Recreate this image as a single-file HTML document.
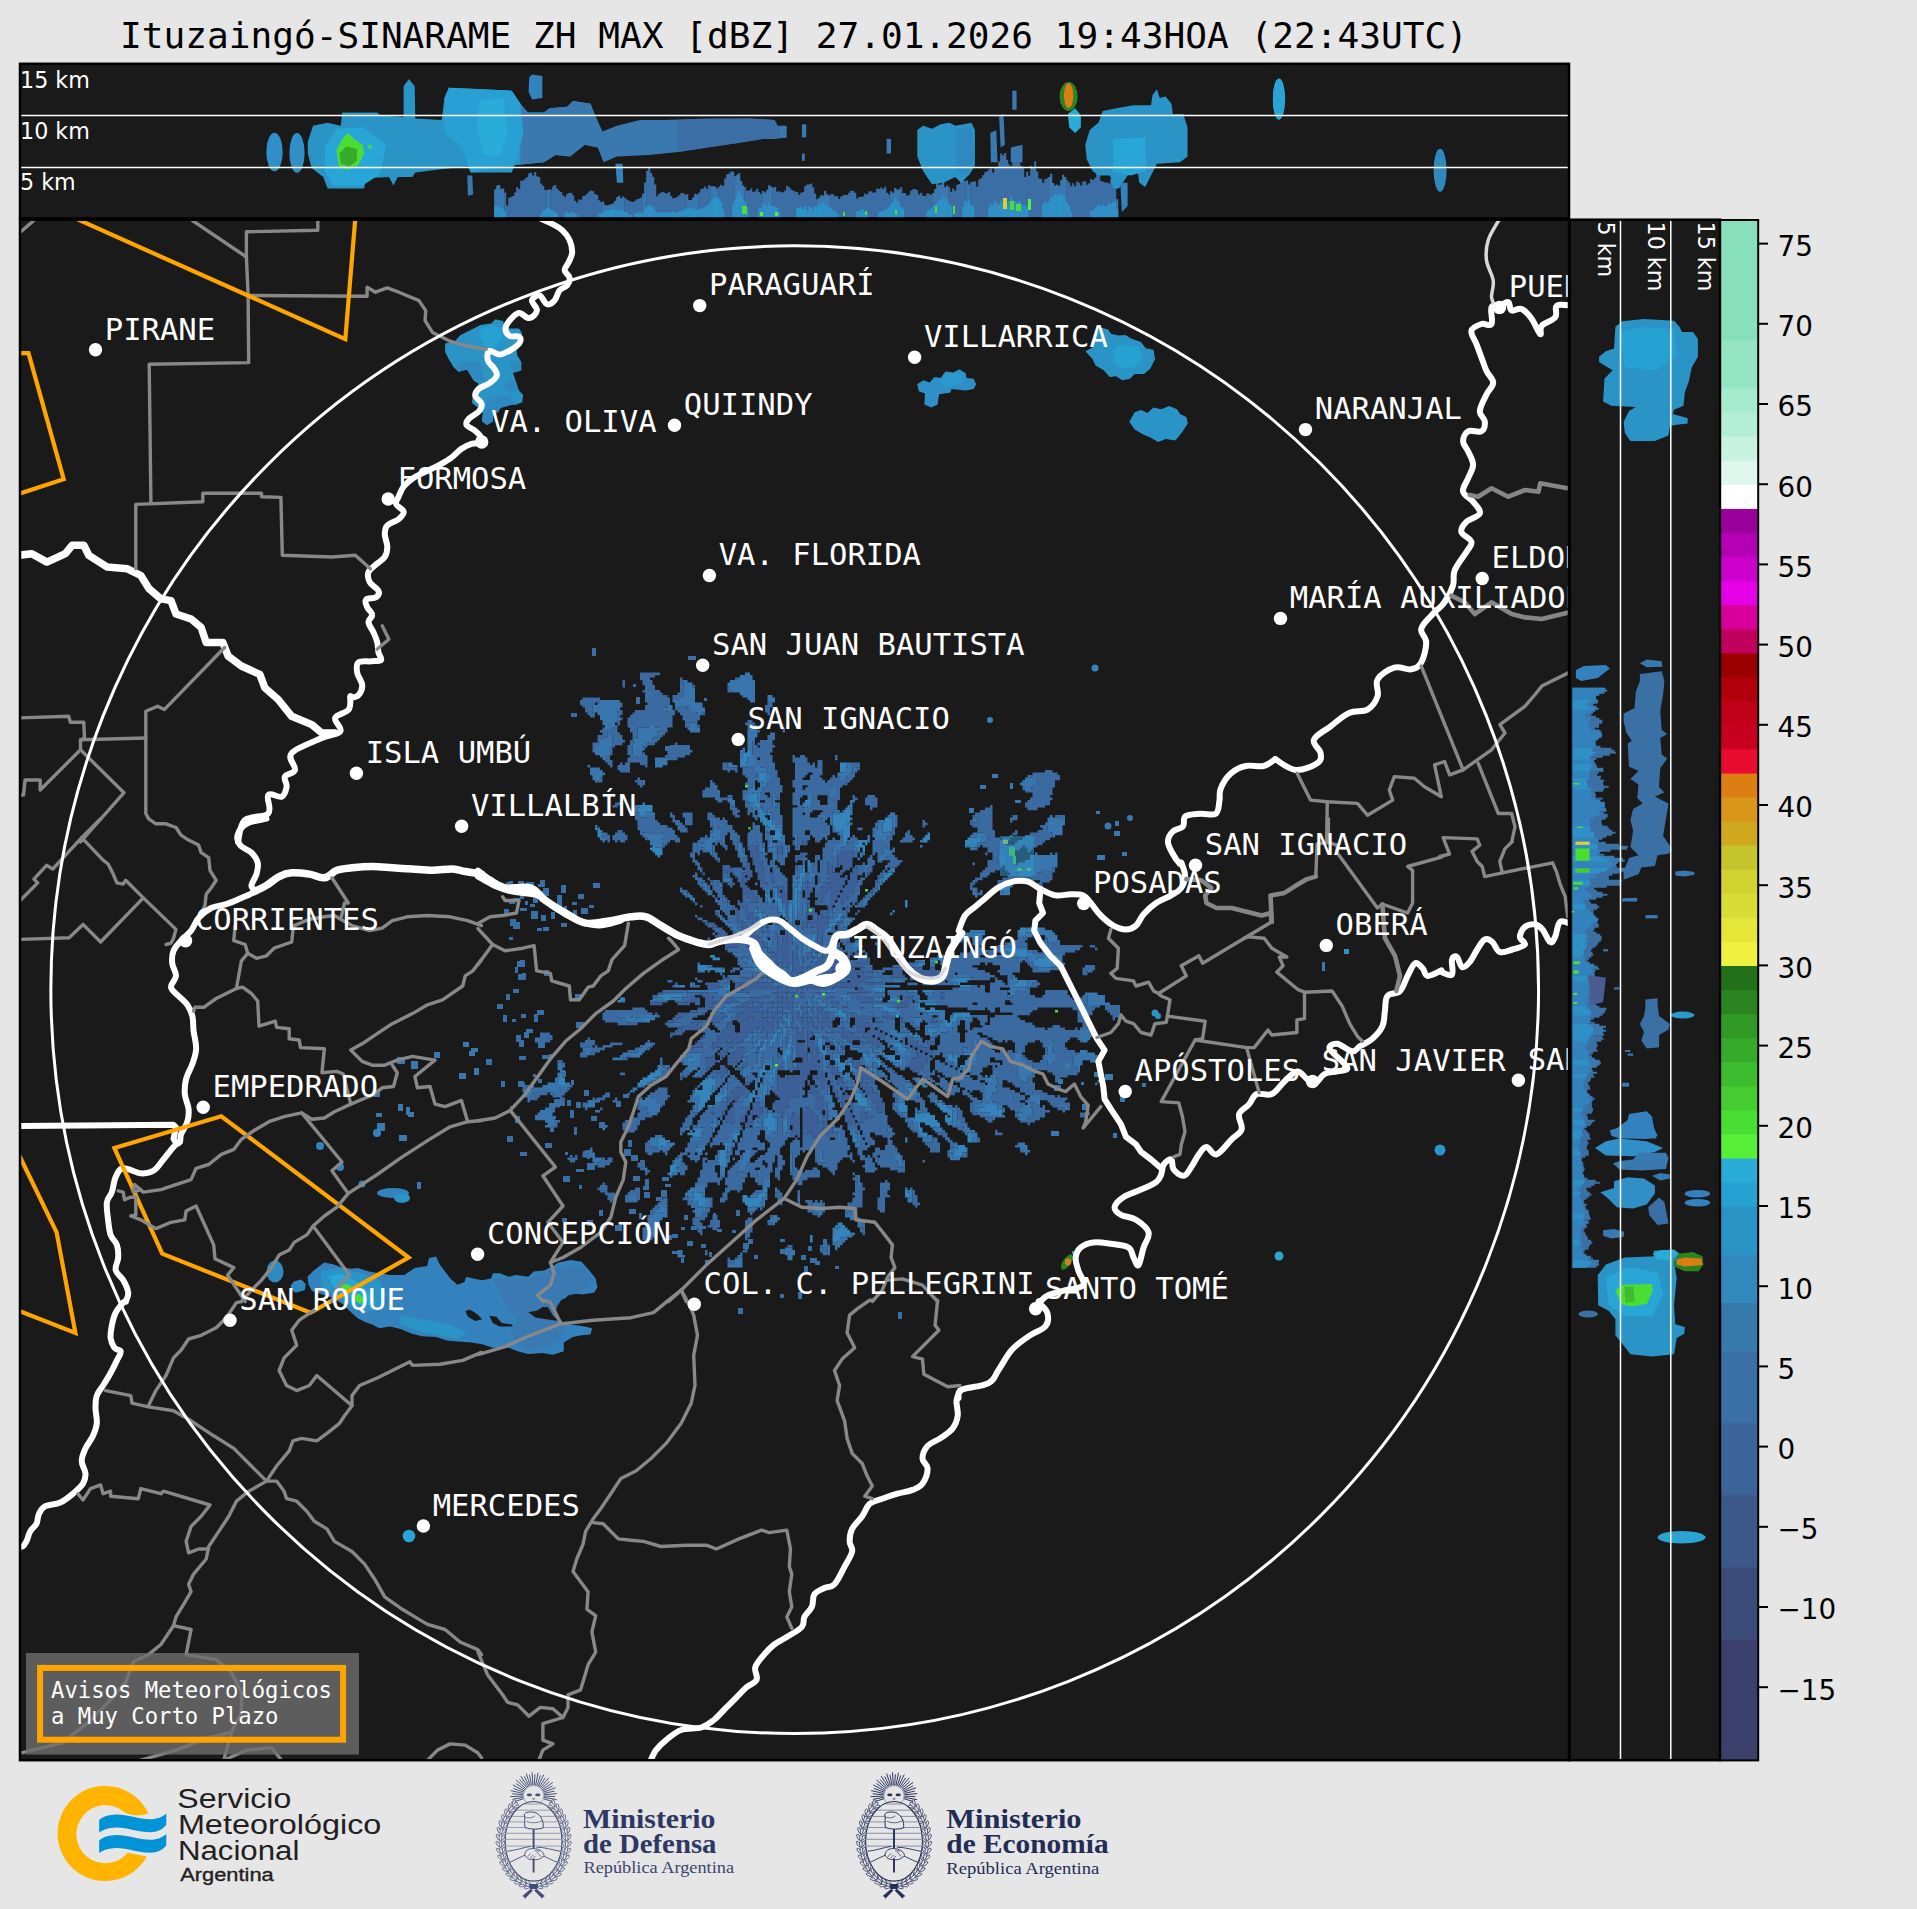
<!DOCTYPE html>
<html lang="es">
<head>
<meta charset="utf-8">
<title>Ituzaingó-SINARAME ZH MAX [dBZ]</title>
<style>
html,body{margin:0;padding:0;background:#e6e6e6;}
body{width:1917px;height:1909px;overflow:hidden;}
svg{display:block;}
.mono{font-family:"DejaVu Sans Mono","Liberation Mono",monospace;}
.sans{font-family:"DejaVu Sans","Liberation Sans",sans-serif;}
.title{font-family:"DejaVu Sans Mono","Liberation Mono",monospace;font-size:36.11px;fill:#000;}
.city{font-family:"DejaVu Sans Mono","Liberation Mono",monospace;font-size:30.56px;fill:#fff;}
.km{font-family:"DejaVu Sans","Liberation Sans",sans-serif;font-size:22.22px;fill:#fff;}
.cbl{font-family:"DejaVu Sans","Liberation Sans",sans-serif;font-size:27.78px;fill:#000;}
.leg{font-family:"DejaVu Sans Mono","Liberation Mono",monospace;font-size:22.22px;fill:#fff;}
.gl{fill:none;stroke:#888888;stroke-width:3.4;stroke-linejoin:round;stroke-linecap:round;}
.gj{fill:none;stroke:#868686;stroke-width:4.6;stroke-linejoin:round;stroke-linecap:round;}
.wl{fill:none;stroke:#fff;stroke-width:6;stroke-linejoin:round;stroke-linecap:round;}
.wl7{fill:none;stroke:#fff;stroke-width:7.5;stroke-linejoin:round;stroke-linecap:round;}
.wl9{fill:none;stroke:#fff;stroke-width:9.5;stroke-linejoin:round;stroke-linecap:round;}
.wl2{fill:none;stroke:#d8d8d8;stroke-width:3.5;stroke-linejoin:round;stroke-linecap:round;}
.ol{fill:none;stroke:#ffa500;stroke-width:4.2;stroke-linejoin:miter;}
.dot{fill:#fff;}
</style>
</head>
<body>
<svg width="1917" height="1909" viewBox="0 0 1917 1909">
<rect width="1917" height="1909" fill="#e6e6e6"/>
<text x="120" y="48.3" class="title" xml:space="preserve">Ituzaingó-SINARAME ZH MAX [dBZ] 27.01.2026 19:43HOA (22:43UTC)</text>

<!-- top panel -->
<clipPath id="ctop"><rect x="20" y="64" width="1549" height="154"/></clipPath>
<rect x="20" y="64" width="1549" height="154" fill="#1a1a1a"/>
<g clip-path="url(#ctop)">
<ellipse cx="274.5" cy="152.0" rx="8.2" ry="19.3" fill="#2f8fc6"/><ellipse cx="297.0" cy="152.9" rx="7.6" ry="19.9" fill="#2f8fc6"/><polygon points="307.8,141.8 313.0,125.7 327.6,122.8 340.8,125.7 342.2,112.6 377.3,112.6 380.2,115.5 403.6,117.0 403.6,86.3 408.9,79.0 414.7,86.3 415.3,118.4 441.6,119.9 444.5,98.0 448.9,87.8 511.7,90.7 520.5,103.8 527.8,112.6 543.8,112.6 549.7,108.2 567.2,106.7 573.0,100.9 590.6,103.8 595.0,115.5 602.3,131.6 603.7,162.2 597.9,147.6 584.7,144.7 570.1,156.4 555.5,154.9 543.8,162.2 514.6,165.2 511.7,172.5 470.8,172.5 467.9,166.6 438.7,169.6 415.3,172.5 412.4,176.9 397.8,176.9 393.4,185.6 389.0,176.9 365.6,178.3 364.2,188.5 327.6,188.5 323.3,176.9 311.6,168.1 307.8,153.5" fill="#2a94c6"/><polygon points="520.5,103.8 527.8,112.6 543.8,112.6 549.7,108.2 567.2,106.7 573.0,100.9 590.6,103.8 595.0,115.5 602.3,131.6 616.9,125.7 640.2,119.9 663.6,119.9 707.4,118.4 748.3,118.4 774.6,119.9 777.5,125.7 786.3,126.6 786.3,137.4 774.6,138.9 762.9,138.9 736.6,143.3 707.4,147.6 678.2,152.0 649.0,154.9 616.9,156.4 603.7,162.2 597.9,147.6 584.7,144.7 570.1,156.4 555.5,154.9 543.8,162.2 520.5,164.6" fill="#3a78b0"/><polygon points="678.2,119.9 748.3,118.4 774.6,119.9 777.5,125.7 786.3,126.6 786.3,137.4 762.9,138.9 707.4,147.6 678.2,152.0" fill="#3a6ea4"/><polygon points="444.5,98.0 448.9,87.8 511.7,90.7 520.5,103.8 523.4,133.0 514.6,165.2 470.8,172.5 462.0,147.6 444.5,133.0" fill="#29a0d4"/><polygon points="479.6,100.9 502.9,98.0 507.3,133.0 500.0,156.4 482.5,153.5 477.2,124.3" fill="#2aacd8"/><polygon points="324.7,147.6 336.4,128.7 362.7,127.2 386.1,144.7 380.2,173.9 362.7,185.6 333.5,185.6 324.7,171.0" fill="#29a6d8"/><polygon points="336.4,150.6 342.2,138.9 348.1,133.0 355.4,140.3 362.7,144.7 364.2,153.5 358.3,165.2 348.1,169.6 339.3,168.1" fill="#4ade34"/><polygon points="339.3,153.5 346.6,146.2 356.9,149.1 356.9,160.8 349.6,166.6 340.8,163.7" fill="#36aa2a"/><rect x="368.5" y="144.7" width="3" height="4" fill="#4ade34"/><polygon points="529.2,77.5 532.1,74.6 542.4,76.1 542.4,98.0 532.1,99.4 528.6,92.1" fill="#3382be"/><polygon points="615.4,163.7 622.7,163.7 623.3,182.7 616.9,182.7" fill="#3382be"/><polygon points="467.3,175.4 472.3,175.4 473.1,194.4 467.9,195.8" fill="#3a78b0"/><path d="M505.2 192.6V217.5M507.2 205.4V217.5M509.2 197.7V217.5M511.2 196.7V217.5M513.2 195.9V217.5M515.2 192.6V217.5M517.2 187.0V217.5M519.2 188.9V217.5M521.2 180.7V217.5M523.2 180.5V217.5M525.2 178.8V217.5M527.2 176.9V217.5M529.2 173.2V217.5M531.2 172.5V217.5M533.2 175.4V217.5M535.2 172.1V217.5M537.2 176.2V217.5M539.2 176.9V217.5M541.2 183.8V217.5M543.2 185.8V217.5M545.2 189.9V217.5M551.2 189.8V217.5M553.2 186.3V217.5M555.2 185.0V217.5M557.2 188.6V217.5M559.2 190.8V217.5M561.2 192.1V217.5M563.2 195.4V217.5M565.2 197.1V217.5M567.2 193.9V217.5M569.2 193.1V217.5M571.2 192.7V217.5M573.2 195.2V217.5M575.2 200.7V217.5M577.2 202.5V217.5M579.2 199.4V217.5M581.2 199.8V217.5M583.2 196.1V217.5M585.2 195.5V217.5M587.2 193.7V217.5M589.2 191.4V217.5M591.2 190.4V217.5M593.2 191.3V217.5M595.2 194.0V217.5M597.2 194.9V217.5M599.2 200.2V217.5M601.2 201.9V217.5M625.2 198.0V217.5M627.2 199.7V217.5M629.2 200.8V217.5M631.2 201.6V217.5M633.2 202.0V217.5M635.2 200.8V217.5M637.2 199.2V217.5M639.2 198.8V217.5M641.2 197.4V217.5M647.2 170.7V217.5M649.2 167.3V217.5M651.2 173.1V217.5M653.2 176.7V217.5M655.2 184.4V217.5M657.2 196.2V217.5M659.2 193.7V217.5M661.2 192.5V217.5M663.2 191.9V217.5M665.2 193.0V217.5M667.2 193.4V217.5M669.2 192.0V217.5M671.2 195.9V217.5M673.2 198.2V217.5M675.2 198.0V217.5M677.2 197.1V217.5M679.2 195.3V217.5M681.2 193.3V217.5M683.2 192.9V217.5M685.2 194.7V217.5M699.2 192.6V217.5M701.2 189.2V217.5M703.2 188.4V217.5M705.2 186.5V217.5M707.2 188.8V217.5M709.2 184.9V217.5M719.2 186.6V217.5M721.2 184.8V217.5M723.2 186.0V217.5M725.2 178.4V217.5M727.2 174.3V217.5M729.2 173.6V217.5M731.2 171.5V217.5M733.2 171.8V217.5M745.2 187.2V217.5M747.2 190.8V217.5M749.2 190.5V217.5M751.2 188.6V217.5M753.2 191.9V217.5M755.2 191.2V217.5M757.2 188.8V217.5M759.2 191.9V217.5M761.2 194.0V217.5M773.2 187.5V217.5M775.2 187.1V217.5M777.2 191.7V217.5M779.2 191.2V217.5M781.2 192.3V217.5M783.2 192.2V217.5M785.2 190.5V217.5M787.2 185.7V217.5M789.2 187.3V217.5M791.2 189.5V217.5M793.2 190.4V217.5M795.2 191.6V217.5M797.2 192.1V217.5M799.2 194.7V217.5M801.2 192.7V217.5M803.2 191.9V217.5M805.2 186.3V217.5M807.2 184.5V217.5M809.2 184.5V217.5M811.2 183.6V217.5M813.2 187.3V217.5M815.2 193.4V217.5M831.2 194.2V217.5M833.2 194.2V217.5M835.2 196.3V217.5M837.2 196.0V217.5M839.2 199.1V217.5M841.2 196.5V217.5M843.2 195.4V217.5M845.2 194.8V217.5M847.2 195.0V217.5M849.2 192.8V217.5M851.2 190.8V217.5M853.2 190.7V217.5M855.2 192.7V217.5M857.2 198.6V217.5M859.2 197.1V217.5M861.2 196.8V217.5M863.2 196.6V217.5M865.2 193.5V217.5M867.2 194.2V217.5M869.2 191.5V217.5M871.2 191.2V217.5M873.2 192.8V217.5M875.2 192.2V217.5M877.2 188.6V217.5M879.2 189.0V217.5M881.2 187.4V217.5M883.2 189.0V217.5M885.2 186.8V217.5M887.2 192.7V217.5M889.2 194.6V217.5M901.2 187.2V217.5M903.2 193.1V217.5M905.2 192.9V217.5M907.2 195.8V217.5M909.2 194.4V217.5M911.2 190.6V217.5M913.2 189.3V217.5M915.2 189.1V217.5M917.2 190.2V217.5M919.2 194.5V217.5M921.2 192.7V217.5M923.2 195.7V217.5M925.2 196.0V217.5M927.2 193.5V217.5M929.2 193.8V217.5M931.2 194.8V217.5M949.2 187.0V217.5M951.2 191.8V217.5M953.2 188.4V217.5M955.2 190.8V217.5M957.2 185.0V217.5M959.2 184.1V217.5M961.2 180.8V217.5M963.2 180.0V217.5M965.2 181.1V217.5M971.2 182.1V217.5M973.2 181.5V217.5M975.2 181.5V217.5M977.2 186.8V217.5M979.2 179.5V217.5M981.2 178.3V217.5M983.2 175.3V217.5M985.2 172.3V217.5M987.2 171.1V217.5M989.2 169.3V217.5M991.2 168.6V217.5M993.2 172.7V217.5M995.2 167.8V217.5M997.2 168.1V217.5M999.2 161.4V217.5M1001.2 153.6V217.5M1003.2 155.3V217.5M1005.2 153.1V217.5M1007.2 159.9V217.5M1009.2 164.4V217.5M1011.2 166.1V217.5M1013.2 156.7V217.5M1015.2 154.3V217.5M1017.2 156.1V217.5M1019.2 160.1V217.5M1021.2 165.8V217.5M1023.2 167.3V217.5M1025.2 177.1V217.5M1027.2 171.7V217.5M1029.2 175.7V217.5M1031.2 165.8V217.5M1033.2 168.0V217.5M1035.2 161.3V217.5M1037.2 171.6V217.5M1039.2 178.5V217.5M1041.2 178.8V217.5M1043.2 182.7V217.5M1045.2 179.3V217.5M1047.2 178.3V217.5M1067.2 180.1V217.5M1069.2 182.4V217.5M1071.2 186.2V217.5M1073.2 183.3V217.5M1075.2 186.2V217.5M1077.2 181.5V217.5M1079.2 182.8V217.5M1081.2 185.5V217.5M1083.2 181.5V217.5M1085.2 181.2V217.5M1087.2 184.8V217.5M1089.2 183.2V217.5M1091.2 179.1V217.5M1093.2 179.9V217.5M1095.2 177.8V217.5M1097.2 173.4V217.5M1099.2 173.1V217.5M1101.2 181.1V217.5M1103.2 181.8V217.5M1105.2 182.6V217.5M1107.2 182.6V217.5M1109.2 183.4V217.5M1111.2 179.4V217.5M1113.2 182.2V217.5M1115.2 184.7V217.5" stroke="#3a6ea4" stroke-width="2.1" fill="none"/><path d="M495.2 189.3V217.5M497.2 185.4V217.5M499.2 184.9V217.5M501.2 188.8V217.5M503.2 188.6V217.5M547.2 190.0V217.5M549.2 189.3V217.5M603.2 201.5V217.5M605.2 205.1V217.5M607.2 205.4V217.5M609.2 204.8V217.5M611.2 204.2V217.5M613.2 203.3V217.5M615.2 200.8V217.5M617.2 197.1V217.5M619.2 195.7V217.5M621.2 198.3V217.5M623.2 196.6V217.5M643.2 193.8V217.5M645.2 182.4V217.5M687.2 194.3V217.5M689.2 200.0V217.5M691.2 199.9V217.5M693.2 197.6V217.5M695.2 193.7V217.5M697.2 194.4V217.5M711.2 186.2V217.5M713.2 186.3V217.5M715.2 186.4V217.5M717.2 188.4V217.5M735.2 176.2V217.5M737.2 174.7V217.5M739.2 173.2V217.5M741.2 181.1V217.5M743.2 185.6V217.5M763.2 191.0V217.5M765.2 192.4V217.5M767.2 189.7V217.5M769.2 185.2V217.5M771.2 186.4V217.5M817.2 199.3V217.5M819.2 197.5V217.5M821.2 195.3V217.5M823.2 195.4V217.5M825.2 190.8V217.5M827.2 194.3V217.5M829.2 195.6V217.5M891.2 191.2V217.5M893.2 192.8V217.5M895.2 188.0V217.5M897.2 189.6V217.5M899.2 189.2V217.5M933.2 193.1V217.5M935.2 188.9V217.5M937.2 182.1V217.5M939.2 185.0V217.5M941.2 184.2V217.5M943.2 181.2V217.5M945.2 187.3V217.5M947.2 185.3V217.5M967.2 180.6V217.5M969.2 184.6V217.5M1049.2 177.0V217.5M1051.2 173.7V217.5M1053.2 183.0V217.5M1055.2 185.4V217.5M1057.2 184.5V217.5M1059.2 185.8V217.5M1061.2 180.3V217.5M1063.2 174.7V217.5M1065.2 176.9V217.5M1117.2 199.3V217.5" stroke="#3a78b0" stroke-width="2.1" fill="none"/><path d="M495.2 206.0V217.5M497.2 206.3V217.5M499.2 206.3V217.5M501.2 208.2V217.5M503.2 208.3V217.5M505.2 210.9V217.5M541.2 213.6V217.5M543.2 210.3V217.5M545.2 209.2V217.5M547.2 208.1V217.5M549.2 208.1V217.5M551.2 209.7V217.5M553.2 211.0V217.5M555.2 212.0V217.5M557.2 213.4V217.5M565.2 213.0V217.5M567.2 212.1V217.5M569.2 212.9V217.5M571.2 211.7V217.5M573.2 212.3V217.5M575.2 213.8V217.5M599.2 213.0V217.5M615.2 210.2V217.5M617.2 209.9V217.5M619.2 209.0V217.5M621.2 210.2V217.5M623.2 211.0V217.5M625.2 212.0V217.5M627.2 212.0V217.5M639.2 212.1V217.5M641.2 212.7V217.5M643.2 212.2V217.5M645.2 208.5V217.5M647.2 206.3V217.5M649.2 204.4V217.5M651.2 206.7V217.5M653.2 206.9V217.5M655.2 210.6V217.5M657.2 213.1V217.5M659.2 212.6V217.5M661.2 212.0V217.5M663.2 212.2V217.5M665.2 212.3V217.5M667.2 213.3V217.5M669.2 211.9V217.5M671.2 212.7V217.5M679.2 210.9V217.5M681.2 211.0V217.5M683.2 210.6V217.5M685.2 208.9V217.5M697.2 210.2V217.5M699.2 208.8V217.5M701.2 208.5V217.5M703.2 207.5V217.5M705.2 206.8V217.5M707.2 205.8V217.5M709.2 203.4V217.5M711.2 200.7V217.5M733.2 204.5V217.5M735.2 199.2V217.5M737.2 193.8V217.5M739.2 191.4V217.5M741.2 194.9V217.5M743.2 199.7V217.5M759.2 208.6V217.5M763.2 203.2V217.5M765.2 205.3V217.5M767.2 205.4V217.5M769.2 202.9V217.5M771.2 206.1V217.5M773.2 206.1V217.5M775.2 207.2V217.5M807.2 210.0V217.5M809.2 206.7V217.5M811.2 207.5V217.5M813.2 209.7V217.5M823.2 201.4V217.5M825.2 204.3V217.5M827.2 206.5V217.5M829.2 206.7V217.5M831.2 208.3V217.5M833.2 210.1V217.5M867.2 212.4V217.5M879.2 212.6V217.5M881.2 211.7V217.5M883.2 210.7V217.5M885.2 209.6V217.5M887.2 208.8V217.5M897.2 201.0V217.5M899.2 202.2V217.5M933.2 206.3V217.5M935.2 204.6V217.5M937.2 202.6V217.5M939.2 200.6V217.5M941.2 199.6V217.5M943.2 195.6V217.5M945.2 199.0V217.5M947.2 198.8V217.5M963.2 206.7V217.5M965.2 200.8V217.5M967.2 202.8V217.5M969.2 200.3V217.5M989.2 207.0V217.5M991.2 203.9V217.5M993.2 204.9V217.5M995.2 201.0V217.5M997.2 204.0V217.5M999.2 203.8V217.5M1001.2 200.5V217.5M1003.2 202.9V217.5M1005.2 205.1V217.5M1007.2 201.9V217.5M1009.2 200.8V217.5M1011.2 196.7V217.5M1013.2 200.3V217.5M1015.2 200.9V217.5M1017.2 202.6V217.5M1019.2 200.5V217.5M1021.2 202.8V217.5M1023.2 205.9V217.5M1047.2 203.0V217.5M1049.2 201.2V217.5M1051.2 197.2V217.5M1053.2 196.7V217.5M1063.2 195.6V217.5M1065.2 197.2V217.5M1067.2 202.7V217.5M1069.2 205.5V217.5M1071.2 211.8V217.5M1091.2 210.9V217.5M1093.2 210.3V217.5M1095.2 208.6V217.5M1097.2 206.5V217.5M1099.2 204.7V217.5M1101.2 206.3V217.5M1103.2 205.0V217.5M1105.2 206.5V217.5M1107.2 205.8V217.5M1109.2 202.5V217.5M1111.2 204.1V217.5M1113.2 201.6V217.5M1115.2 202.2V217.5M1117.2 209.6V217.5" stroke="#2f8fc6" stroke-width="2.1" fill="none"/><path d="M577.2 215.0V217.5M601.2 213.5V217.5M603.2 212.2V217.5M605.2 211.2V217.5M607.2 210.7V217.5M609.2 210.2V217.5M611.2 209.3V217.5M613.2 209.0V217.5M629.2 214.5V217.5M631.2 214.4V217.5M635.2 213.3V217.5M637.2 213.1V217.5M673.2 211.2V217.5M675.2 212.7V217.5M677.2 211.9V217.5M687.2 208.6V217.5M689.2 208.3V217.5M691.2 208.6V217.5M693.2 208.3V217.5M695.2 209.4V217.5M713.2 199.2V217.5M715.2 197.7V217.5M717.2 196.5V217.5M719.2 199.1V217.5M721.2 202.0V217.5M723.2 209.4V217.5M745.2 201.7V217.5M747.2 207.7V217.5M761.2 207.4V217.5M777.2 207.7V217.5M779.2 210.9V217.5M797.2 208.3V217.5M799.2 207.3V217.5M801.2 206.4V217.5M803.2 209.0V217.5M805.2 206.2V217.5M815.2 206.2V217.5M817.2 207.1V217.5M819.2 204.7V217.5M821.2 204.5V217.5M835.2 210.9V217.5M837.2 213.3V217.5M857.2 211.3V217.5M859.2 211.6V217.5M861.2 209.2V217.5M863.2 209.0V217.5M865.2 211.5V217.5M889.2 206.9V217.5M891.2 203.3V217.5M893.2 202.3V217.5M895.2 198.2V217.5M901.2 207.2V217.5M903.2 208.5V217.5M927.2 211.4V217.5M929.2 209.5V217.5M931.2 208.2V217.5M949.2 204.1V217.5M951.2 206.3V217.5M971.2 204.9V217.5M973.2 207.0V217.5M1025.2 205.0V217.5M1027.2 206.5V217.5M1043.2 204.4V217.5M1045.2 201.4V217.5M1055.2 194.0V217.5M1057.2 195.5V217.5M1059.2 195.0V217.5M1061.2 192.9V217.5" stroke="#2a94c6" stroke-width="2.1" fill="none"/><polygon points="990.3,133.0 996.2,130.1 997.6,162.2 990.9,162.2" fill="#3a78b0"/><polygon points="999.1,115.5 1003.5,114.0 1004.9,144.7 1000.6,147.6" fill="#3a78b0"/><polygon points="1010.8,147.6 1022.5,144.7 1022.5,162.2 1010.8,162.2" fill="#3a78b0"/><polygon points="886.6,138.9 891.0,138.9 891.0,153.5 886.6,153.5" fill="#3a78b0"/><polygon points="1012.3,90.7 1016.6,90.7 1016.6,109.7 1012.3,109.7" fill="#3a78b0"/><polygon points="780.0,125.7 786.4,125.7 786.4,137.4 780.0,137.4" fill="#3a78b0"/><polygon points="801.9,124.3 806.3,124.3 806.3,137.4 801.9,137.4" fill="#3a78b0"/><polygon points="801.9,153.5 804.8,153.5 804.8,160.8 801.9,160.8" fill="#3a78b0"/><polygon points="917.3,130.1 923.1,125.7 931.9,128.7 940.7,124.3 949.4,122.8 955.3,125.7 964.0,124.3 971.4,122.8 974.9,130.1 974.9,165.2 969.9,173.9 961.1,182.7 955.3,176.9 943.6,182.7 931.9,184.2 923.1,171.0 917.3,156.4" fill="#2a94c6"/><polygon points="955.3,130.1 971.4,127.2 974.3,162.2 967.0,173.9 956.7,171.0" fill="#3088c0"/><ellipse cx="1068.6" cy="96.5" rx="9.1" ry="14.6" fill="#2a8420"/><ellipse cx="1068.6" cy="95.6" rx="4.7" ry="12.3" fill="#dc7e14"/><polygon points="1067.8,114.0 1075.1,108.2 1080.9,115.5 1080.9,127.2 1075.1,133.0 1069.2,127.2" fill="#2aacd8"/><polygon points="1085.3,144.7 1089.7,130.1 1098.4,122.8 1102.8,111.1 1116.0,108.2 1133.5,105.3 1151.0,105.3 1152.5,95.1 1156.9,89.2 1159.8,98.0 1165.6,96.5 1171.5,103.8 1172.9,114.0 1183.2,114.0 1187.5,127.2 1187.5,156.4 1180.2,162.2 1156.9,163.7 1151.0,175.4 1145.2,187.1 1139.3,182.7 1137.9,172.5 1127.6,175.4 1118.9,188.5 1113.0,188.5 1110.1,175.4 1098.4,175.4 1092.6,171.0 1086.7,159.3" fill="#2a94c6"/><polygon points="1113.0,138.9 1145.2,137.4 1146.6,171.0 1130.6,175.4 1113.0,171.0" fill="#29a6d8"/><polygon points="1120.3,182.7 1127.6,182.7 1127.6,206.1 1121.8,211.9" fill="#3382be"/><ellipse cx="1278.7" cy="99.4" rx="5.8" ry="20.4" fill="#2aacd8"/><rect x="1003" y="198" width="4" height="11" fill="#d8d230"/><rect x="1010" y="201" width="4" height="9" fill="#4ade34"/><rect x="1016" y="204" width="5" height="7" fill="#4ade34"/><rect x="1028" y="199" width="3" height="11" fill="#56f038"/><rect x="953" y="206" width="2" height="8" fill="#4ade34"/><rect x="935" y="206" width="2" height="7" fill="#4ade34"/><rect x="895" y="210" width="2" height="5" fill="#4ade34"/><rect x="865" y="211" width="2" height="4" fill="#4ade34"/><rect x="843" y="212" width="2" height="4" fill="#4ade34"/><rect x="742" y="206" width="5" height="8" fill="#4ade34"/><rect x="760" y="212" width="3" height="4" fill="#56f038"/><rect x="775" y="212" width="3" height="4" fill="#56f038"/><ellipse cx="1279.0" cy="99.0" rx="6.2" ry="20.4" fill="#2aa4d4"/><ellipse cx="1440.1" cy="170.3" rx="6.5" ry="21.5" fill="#3088bc"/>
<line x1="20" x2="1569" y1="115.4" y2="115.4" stroke="#fff" stroke-width="1.5"/>
<line x1="20" x2="1569" y1="167.5" y2="167.5" stroke="#fff" stroke-width="1.5"/>
<text x="20" y="88" class="km">15 km</text>
<text x="20" y="139" class="km">10 km</text>
<text x="20" y="190" class="km">5 km</text>
</g>

<!-- main map -->
<clipPath id="cmap"><rect x="20" y="220" width="1549" height="1540"/></clipPath>
<rect x="20" y="220" width="1549" height="1540" fill="#1a1a1a"/>
<g clip-path="url(#cmap)">
<path d="M792.5 841.2h2.5M802.5 841.2h5M815 841.2h2.5M792.5 843.8h2.5M802.5 843.8h5M750 846.2h7.5M777.5 846.2h5M747.5 848.8h10M777.5 848.8h5M750 851.2h7.5M777.5 851.2h5M840 851.2h12.5M750 853.8h10M777.5 853.8h5M800 853.8h5M840 853.8h15M750 856.2h10M800 856.2h2.5M837.5 856.2h17.5M752.5 858.8h7.5M795 858.8h5M837.5 858.8h15M717.5 861.2h2.5M752.5 861.2h10M795 861.2h2.5M837.5 861.2h15M745 863.8h5M752.5 863.8h10M827.5 863.8h2.5M837.5 863.8h15M722.5 866.2h7.5M745 866.2h5M755 866.2h10M795 866.2h2.5M827.5 866.2h5M837.5 866.2h2.5M842.5 866.2h10M855 866.2h2.5M722.5 868.8h10M745 868.8h5M755 868.8h10M795 868.8h2.5M827.5 868.8h5M842.5 868.8h7.5M852.5 868.8h5M722.5 871.2h12.5M745 871.2h7.5M755 871.2h10M772.5 871.2h2.5M827.5 871.2h5M840 871.2h5M852.5 871.2h7.5M870 871.2h2.5M702.5 873.8h2.5M722.5 873.8h2.5M727.5 873.8h2.5M732.5 873.8h2.5M742.5 873.8h10M757.5 873.8h7.5M770 873.8h5M827.5 873.8h15M850 873.8h10M867.5 873.8h2.5M735 876.2h2.5M742.5 876.2h2.5M747.5 876.2h5M757.5 876.2h7.5M770 876.2h5M817.5 876.2h2.5M830 876.2h10M845 876.2h2.5M850 876.2h7.5M877.5 876.2h2.5M707.5 878.8h2.5M737.5 878.8h2.5M742.5 878.8h7.5M757.5 878.8h7.5M770 878.8h5M817.5 878.8h2.5M827.5 878.8h20M850 878.8h7.5M710 881.2h2.5M737.5 881.2h2.5M742.5 881.2h5M760 881.2h5M772.5 881.2h2.5M785 881.2h2.5M805 881.2h2.5M817.5 881.2h2.5M830 881.2h15M847.5 881.2h10M875 881.2h2.5M732.5 883.8h2.5M740 883.8h5M760 883.8h7.5M805 883.8h5M825 883.8h20M847.5 883.8h7.5M740 886.2h7.5M777.5 886.2h5M805 886.2h2.5M822.5 886.2h20M845 886.2h10M742.5 888.8h7.5M777.5 888.8h7.5M805 888.8h5M820 888.8h35M742.5 891.2h12.5M777.5 891.2h2.5M782.5 891.2h2.5M805 891.2h5M820 891.2h7.5M830 891.2h10M842.5 891.2h12.5M870 891.2h2.5M742.5 893.8h12.5M780 893.8h7.5M805 893.8h5M817.5 893.8h7.5M830 893.8h22.5M742.5 896.2h2.5M747.5 896.2h10M780 896.2h7.5M805 896.2h5M817.5 896.2h7.5M830 896.2h7.5M840 896.2h10M725 898.8h2.5M742.5 898.8h2.5M750 898.8h7.5M782.5 898.8h5M805 898.8h2.5M817.5 898.8h5M830 898.8h7.5M840 898.8h7.5M727.5 901.2h2.5M737.5 901.2h2.5M742.5 901.2h2.5M750 901.2h7.5M782.5 901.2h5M815 901.2h7.5M830 901.2h5M840 901.2h5M740 903.8h5M785 903.8h2.5M807.5 903.8h2.5M815 903.8h5M830 903.8h5M840 903.8h2.5M732.5 906.2h2.5M742.5 906.2h5M785 906.2h2.5M807.5 906.2h2.5M830 906.2h2.5M847.5 906.2h2.5M732.5 908.8h5M745 908.8h2.5M785 908.8h2.5M807.5 908.8h7.5M827.5 908.8h5M845 908.8h5M735 911.2h5M745 911.2h5M785 911.2h2.5M807.5 911.2h7.5M820 911.2h2.5M827.5 911.2h2.5M845 911.2h2.5M857.5 911.2h2.5M715 913.8h2.5M735 913.8h5M745 913.8h7.5M805 913.8h10M820 913.8h2.5M825 913.8h5M845 913.8h2.5M855 913.8h2.5M737.5 916.2h2.5M747.5 916.2h7.5M805 916.2h2.5M812.5 916.2h2.5M817.5 916.2h5M825 916.2h5M842.5 916.2h2.5M737.5 918.8h2.5M747.5 918.8h10M805 918.8h2.5M812.5 918.8h2.5M817.5 918.8h10M705 921.2h2.5M737.5 921.2h5M750 921.2h2.5M755 921.2h5M805 921.2h22.5M840 921.2h2.5M707.5 923.8h7.5M740 923.8h5M750 923.8h2.5M757.5 923.8h2.5M775 923.8h2.5M802.5 923.8h5M810 923.8h5M817.5 923.8h10M837.5 923.8h2.5M712.5 926.2h5M740 926.2h7.5M760 926.2h2.5M765 926.2h2.5M802.5 926.2h5M810 926.2h5M817.5 926.2h7.5M837.5 926.2h2.5M720 928.8h2.5M742.5 928.8h7.5M760 928.8h2.5M767.5 928.8h2.5M802.5 928.8h2.5M817.5 928.8h7.5M837.5 928.8h2.5M720 931.2h5M745 931.2h7.5M762.5 931.2h2.5M767.5 931.2h2.5M785 931.2h2.5M817.5 931.2h7.5M835 931.2h5M717.5 933.8h10M732.5 933.8h2.5M747.5 933.8h7.5M775 933.8h2.5M785 933.8h2.5M790 933.8h2.5M817.5 933.8h5M832.5 933.8h10M717.5 936.2h15M735 936.2h12.5M750 936.2h7.5M775 936.2h2.5M785 936.2h2.5M790 936.2h2.5M817.5 936.2h5M832.5 936.2h2.5M840 936.2h2.5M720 938.8h2.5M725 938.8h25M752.5 938.8h7.5M775 938.8h5M782.5 938.8h5M790 938.8h2.5M817.5 938.8h5M830 938.8h2.5M722.5 941.2h2.5M727.5 941.2h25M755 941.2h7.5M777.5 941.2h2.5M782.5 941.2h5M790 941.2h2.5M815 941.2h2.5M820 941.2h2.5M830 941.2h2.5M847.5 941.2h2.5M725 943.8h27.5M757.5 943.8h7.5M777.5 943.8h2.5M782.5 943.8h10M815 943.8h7.5M830 943.8h7.5M845 943.8h5M725 946.2h12.5M747.5 946.2h2.5M762.5 946.2h5M777.5 946.2h12.5M795 946.2h2.5M812.5 946.2h2.5M817.5 946.2h2.5M830 946.2h5M725 948.8h2.5M750 948.8h5M767.5 948.8h2.5M777.5 948.8h12.5M795 948.8h2.5M812.5 948.8h2.5M817.5 948.8h2.5M827.5 948.8h5M837.5 948.8h5M755 951.2h2.5M767.5 951.2h5M775 951.2h2.5M780 951.2h10M792.5 951.2h5M810 951.2h5M817.5 951.2h2.5M825 951.2h5M835 951.2h5M845 951.2h2.5M855 951.2h2.5M770 953.8h7.5M780 953.8h10M792.5 953.8h5M810 953.8h2.5M815 953.8h2.5M822.5 953.8h5M832.5 953.8h5M840 953.8h5M850 953.8h2.5M855 953.8h2.5M772.5 956.2h7.5M782.5 956.2h7.5M792.5 956.2h5M807.5 956.2h5M820 956.2h5M830 956.2h5M837.5 956.2h12.5M852.5 956.2h2.5M775 958.8h5M782.5 958.8h7.5M792.5 958.8h5M802.5 958.8h2.5M807.5 958.8h2.5M812.5 958.8h2.5M817.5 958.8h5M827.5 958.8h2.5M832.5 958.8h12.5M847.5 958.8h2.5M867.5 958.8h2.5M775 961.2h15M792.5 961.2h7.5M802.5 961.2h2.5M810 961.2h2.5M817.5 961.2h10M832.5 961.2h7.5M842.5 961.2h2.5M847.5 961.2h7.5M860 961.2h10M777.5 963.8h2.5M782.5 963.8h7.5M792.5 963.8h7.5M815 963.8h7.5M830 963.8h5M837.5 963.8h32.5M780 966.2h2.5M787.5 966.2h2.5M792.5 966.2h10M807.5 966.2h12.5M827.5 966.2h2.5M835 966.2h27.5M902.5 966.2h2.5M762.5 968.8h2.5M780 968.8h2.5M785 968.8h5M792.5 968.8h10M805 968.8h2.5M810 968.8h5M817.5 968.8h2.5M825 968.8h2.5M830 968.8h17.5M860 968.8h5M890 968.8h30M930 968.8h5M732.5 971.2h2.5M767.5 971.2h2.5M792.5 971.2h10M807.5 971.2h5M815 971.2h7.5M825 971.2h5M832.5 971.2h5M847.5 971.2h15M867.5 971.2h5M892.5 971.2h10M905 971.2h35M790 973.8h7.5M802.5 973.8h7.5M812.5 973.8h5M822.5 973.8h2.5M827.5 973.8h5M837.5 973.8h20M860 973.8h5M892.5 973.8h10M910 973.8h30M750 976.2h2.5M762.5 976.2h5M790 976.2h2.5M797.5 976.2h2.5M805 976.2h2.5M810 976.2h5M817.5 976.2h2.5M822.5 976.2h5M830 976.2h27.5M860 976.2h12.5M890 976.2h15M912.5 976.2h32.5M722.5 978.8h7.5M740 978.8h7.5M750 978.8h12.5M767.5 978.8h5M800 978.8h5M807.5 978.8h2.5M812.5 978.8h2.5M817.5 978.8h15M852.5 978.8h17.5M915 978.8h30M772.5 981.2h5M787.5 981.2h5M797.5 981.2h2.5M802.5 981.2h15M820 981.2h5M845 981.2h2.5M850 981.2h12.5M922.5 981.2h20M705 983.8h15M735 983.8h37.5M792.5 983.8h5M800 983.8h17.5M835 983.8h25M865 983.8h17.5M707.5 986.2h12.5M737.5 986.2h2.5M745 986.2h20M767.5 986.2h15M792.5 986.2h5M800 986.2h12.5M825 986.2h32.5M707.5 988.8h7.5M742.5 988.8h35M785 988.8h17.5M807.5 988.8h25M857.5 988.8h5M737.5 991.2h12.5M777.5 991.2h7.5M787.5 991.2h2.5M795 991.2h2.5M857.5 991.2h12.5M657.5 993.8h2.5M695 993.8h7.5M705 993.8h2.5M772.5 993.8h5M780 993.8h7.5M790 993.8h5M800 993.8h5M815 993.8h7.5M847.5 993.8h10M940 993.8h5M690 996.2h5M702.5 996.2h10M760 996.2h10M775 996.2h2.5M780 996.2h2.5M785 996.2h2.5M792.5 996.2h2.5M800 996.2h5M830 996.2h5M857.5 996.2h7.5M907.5 996.2h5M940 996.2h5M690 998.8h10M705 998.8h10M720 998.8h15M750 998.8h15M775 998.8h5M782.5 998.8h5M790 998.8h5M825 998.8h5M857.5 998.8h15M905 998.8h7.5M942.5 998.8h2.5M687.5 1001.2h12.5M705 1001.2h32.5M747.5 1001.2h12.5M772.5 1001.2h2.5M777.5 1001.2h2.5M782.5 1001.2h5M790 1001.2h5M830 1001.2h7.5M860 1001.2h22.5M905 1001.2h5M650 1003.8h12.5M677.5 1003.8h12.5M695 1003.8h5M705 1003.8h7.5M742.5 1003.8h10M760 1003.8h5M767.5 1003.8h5M775 1003.8h2.5M780 1003.8h12.5M805 1003.8h2.5M835 1003.8h5M897.5 1003.8h12.5M705 1006.2h5M737.5 1006.2h10M752.5 1006.2h10M770 1006.2h5M777.5 1006.2h5M785 1006.2h7.5M800 1006.2h2.5M807.5 1006.2h2.5M832.5 1006.2h2.5M842.5 1006.2h5M897.5 1006.2h10M697.5 1008.8h20M735 1008.8h5M745 1008.8h15M767.5 1008.8h5M775 1008.8h2.5M782.5 1008.8h10M800 1008.8h5M810 1008.8h2.5M817.5 1008.8h5M860 1008.8h5M690 1011.2h7.5M742.5 1011.2h17.5M762.5 1011.2h7.5M772.5 1011.2h10M790 1011.2h5M805 1011.2h2.5M812.5 1011.2h2.5M817.5 1011.2h7.5M677.5 1013.8h10M702.5 1013.8h2.5M720 1013.8h5M737.5 1013.8h17.5M760 1013.8h7.5M770 1013.8h7.5M782.5 1013.8h5M790 1013.8h5M797.5 1013.8h2.5M802.5 1013.8h5M812.5 1013.8h2.5M820 1013.8h10M850 1013.8h5M675 1016.2h7.5M710 1016.2h15M737.5 1016.2h15M755 1016.2h7.5M767.5 1016.2h5M775 1016.2h5M785 1016.2h2.5M792.5 1016.2h2.5M797.5 1016.2h2.5M802.5 1016.2h2.5M807.5 1016.2h2.5M815 1016.2h2.5M822.5 1016.2h5M852.5 1016.2h7.5M862.5 1016.2h10M882.5 1016.2h10M895 1016.2h2.5M672.5 1018.8h5M707.5 1018.8h15M735 1018.8h12.5M752.5 1018.8h7.5M762.5 1018.8h7.5M772.5 1018.8h5M780 1018.8h2.5M792.5 1018.8h2.5M797.5 1018.8h5M805 1018.8h7.5M815 1018.8h5M822.5 1018.8h7.5M855 1018.8h17.5M875 1018.8h5M887.5 1018.8h7.5M900 1018.8h2.5M932.5 1018.8h2.5M667.5 1021.2h7.5M695 1021.2h7.5M705 1021.2h15M737.5 1021.2h30M770 1021.2h5M777.5 1021.2h7.5M792.5 1021.2h2.5M800 1021.2h2.5M805 1021.2h2.5M810 1021.2h2.5M817.5 1021.2h15M855 1021.2h10M875 1021.2h7.5M900 1021.2h5M930 1021.2h7.5M690 1023.8h7.5M727.5 1023.8h5M740 1023.8h35M777.5 1023.8h2.5M790 1023.8h5M800 1023.8h2.5M805 1023.8h10M820 1023.8h2.5M825 1023.8h5M855 1023.8h15M682.5 1026.2h15M727.5 1026.2h7.5M740 1026.2h20M762.5 1026.2h10M775 1026.2h5M790 1026.2h5M805 1026.2h5M812.5 1026.2h5M820 1026.2h5M827.5 1026.2h5M857.5 1026.2h17.5M677.5 1028.8h20M725 1028.8h10M740 1028.8h17.5M762.5 1028.8h10M775 1028.8h2.5M792.5 1028.8h5M802.5 1028.8h7.5M815 1028.8h2.5M822.5 1028.8h2.5M830 1028.8h5M842.5 1028.8h2.5M860 1028.8h5M870 1028.8h5M877.5 1028.8h2.5M915 1028.8h5M675 1031.2h10M722.5 1031.2h12.5M740 1031.2h12.5M760 1031.2h2.5M765 1031.2h5M772.5 1031.2h2.5M795 1031.2h2.5M802.5 1031.2h2.5M807.5 1031.2h5M825 1031.2h2.5M830 1031.2h5M837.5 1031.2h12.5M857.5 1031.2h7.5M867.5 1031.2h12.5M882.5 1031.2h2.5M670 1033.8h12.5M720 1033.8h17.5M740 1033.8h10M765 1033.8h2.5M795 1033.8h10M807.5 1033.8h5M840 1033.8h15M860 1033.8h25M670 1036.2h2.5M702.5 1036.2h2.5M717.5 1036.2h17.5M737.5 1036.2h10M765 1036.2h2.5M795 1036.2h10M807.5 1036.2h5M822.5 1036.2h2.5M842.5 1036.2h15M862.5 1036.2h10M875 1036.2h10M700 1038.8h2.5M717.5 1038.8h27.5M785 1038.8h2.5M795 1038.8h10M807.5 1038.8h2.5M825 1038.8h2.5M845 1038.8h15M865 1038.8h12.5M880 1038.8h5M697.5 1041.2h2.5M715 1041.2h12.5M732.5 1041.2h10M785 1041.2h2.5M795 1041.2h2.5M807.5 1041.2h7.5M825 1041.2h5M847.5 1041.2h5M860 1041.2h2.5M867.5 1041.2h12.5M907.5 1041.2h10M927.5 1041.2h7.5M695 1043.8h7.5M712.5 1043.8h12.5M727.5 1043.8h10M760 1043.8h2.5M785 1043.8h2.5M795 1043.8h10M807.5 1043.8h7.5M830 1043.8h2.5M837.5 1043.8h2.5M860 1043.8h5M872.5 1043.8h10M907.5 1043.8h10M927.5 1043.8h7.5M690 1046.2h12.5M712.5 1046.2h7.5M725 1046.2h7.5M760 1046.2h2.5M795 1046.2h10M807.5 1046.2h10M827.5 1046.2h2.5M840 1046.2h2.5M877.5 1046.2h2.5M912.5 1046.2h10M690 1048.8h2.5M710 1048.8h5M725 1048.8h5M737.5 1048.8h7.5M757.5 1048.8h2.5M795 1048.8h10M810 1048.8h7.5M842.5 1048.8h2.5M912.5 1048.8h2.5M917.5 1048.8h12.5M720 1051.2h7.5M735 1051.2h10M755 1051.2h2.5M797.5 1051.2h7.5M810 1051.2h2.5M815 1051.2h2.5M915 1051.2h5M922.5 1051.2h10M717.5 1053.8h7.5M732.5 1053.8h12.5M777.5 1053.8h2.5M797.5 1053.8h10M810 1053.8h2.5M815 1053.8h5M917.5 1053.8h7.5M927.5 1053.8h2.5M712.5 1056.2h2.5M720 1056.2h2.5M730 1056.2h12.5M777.5 1056.2h2.5M797.5 1056.2h10M810 1056.2h10M917.5 1056.2h12.5M705 1058.8h10M727.5 1058.8h12.5M790 1058.8h2.5M802.5 1058.8h5M810 1058.8h10M912.5 1058.8h15M705 1061.2h12.5M727.5 1061.2h10M802.5 1061.2h15M852.5 1061.2h2.5M910 1061.2h17.5M705 1063.8h10M727.5 1063.8h5M745 1063.8h2.5M797.5 1063.8h22.5M852.5 1063.8h7.5M910 1063.8h15M705 1066.2h7.5M720 1066.2h5M742.5 1066.2h2.5M777.5 1066.2h5M797.5 1066.2h22.5M827.5 1066.2h5M855 1066.2h5M907.5 1066.2h15M667.5 1068.8h2.5M705 1068.8h2.5M720 1068.8h7.5M740 1068.8h2.5M777.5 1068.8h5M797.5 1068.8h22.5M830 1068.8h5M857.5 1068.8h5M865 1068.8h2.5M887.5 1068.8h5M910 1068.8h12.5M715 1071.2h12.5M800 1071.2h10M817.5 1071.2h5M830 1071.2h7.5M860 1071.2h10M892.5 1071.2h2.5M912.5 1071.2h7.5M717.5 1073.8h7.5M800 1073.8h10M817.5 1073.8h5M832.5 1073.8h7.5M860 1073.8h12.5M895 1073.8h2.5M682.5 1076.2h2.5M720 1076.2h2.5M777.5 1076.2h2.5M787.5 1076.2h5M795 1076.2h12.5M812.5 1076.2h10M862.5 1076.2h15M680 1078.8h2.5M735 1078.8h2.5M777.5 1078.8h7.5M787.5 1078.8h20M812.5 1078.8h2.5M817.5 1078.8h7.5M837.5 1078.8h5M862.5 1078.8h15M777.5 1081.2h27.5M807.5 1081.2h2.5M820 1081.2h5M830 1081.2h2.5M837.5 1081.2h5M862.5 1081.2h2.5M870 1081.2h5M745 1083.8h5M777.5 1083.8h27.5M807.5 1083.8h2.5M820 1083.8h5M837.5 1083.8h7.5M860 1083.8h7.5M740 1086.2h5M777.5 1086.2h22.5M802.5 1086.2h2.5M810 1086.2h5M820 1086.2h5M832.5 1086.2h2.5M840 1086.2h5M862.5 1086.2h7.5M735 1088.8h12.5M777.5 1088.8h22.5M810 1088.8h5M820 1088.8h5M832.5 1088.8h2.5M842.5 1088.8h5M862.5 1088.8h10M732.5 1091.2h12.5M775 1091.2h25M807.5 1091.2h10M835 1091.2h2.5M842.5 1091.2h2.5M865 1091.2h7.5M730 1093.8h15M775 1093.8h25M812.5 1093.8h7.5M835 1093.8h2.5M845 1093.8h2.5M867.5 1093.8h10M730 1096.2h10M777.5 1096.2h15M795 1096.2h5M815 1096.2h7.5M835 1096.2h2.5M842.5 1096.2h7.5M870 1096.2h10M727.5 1098.8h10M780 1098.8h10M815 1098.8h7.5M837.5 1098.8h2.5M842.5 1098.8h7.5M870 1098.8h12.5M727.5 1101.2h5M735 1101.2h2.5M775 1101.2h15M815 1101.2h10M840 1101.2h5M872.5 1101.2h10M725 1103.8h5M732.5 1103.8h2.5M755 1103.8h5M772.5 1103.8h17.5M815 1103.8h10M842.5 1103.8h10M875 1103.8h10M725 1106.2h2.5M732.5 1106.2h2.5M752.5 1106.2h7.5M775 1106.2h15M815 1106.2h10M842.5 1106.2h5M850 1106.2h2.5M875 1106.2h10M725 1108.8h2.5M730 1108.8h5M752.5 1108.8h10M775 1108.8h10M805 1108.8h5M815 1108.8h10M842.5 1108.8h10M877.5 1108.8h7.5M710 1111.2h2.5M722.5 1111.2h2.5M727.5 1111.2h7.5M750 1111.2h12.5M777.5 1111.2h7.5M802.5 1111.2h10M820 1111.2h2.5M825 1111.2h2.5M845 1111.2h5M860 1111.2h5M877.5 1111.2h5M712.5 1113.8h2.5M722.5 1113.8h2.5M727.5 1113.8h7.5M745 1113.8h2.5M750 1113.8h12.5M780 1113.8h2.5M792.5 1113.8h2.5M802.5 1113.8h12.5M825 1113.8h2.5M845 1113.8h7.5M860 1113.8h7.5M725 1116.2h10M740 1116.2h5M747.5 1116.2h5M757.5 1116.2h2.5M780 1116.2h2.5M792.5 1116.2h7.5M802.5 1116.2h15M822.5 1116.2h5M845 1116.2h7.5M860 1116.2h12.5M725 1118.8h10M740 1118.8h5M747.5 1118.8h5M790 1118.8h10M802.5 1118.8h15M825 1118.8h2.5M845 1118.8h10M860 1118.8h10M725 1121.2h10M740 1121.2h5M747.5 1121.2h5M790 1121.2h10M802.5 1121.2h15M822.5 1121.2h5M845 1121.2h10M860 1121.2h5M730 1123.8h2.5M745 1123.8h5M790 1123.8h10M802.5 1123.8h17.5M822.5 1123.8h5M850 1123.8h10M740 1126.2h2.5M745 1126.2h5M792.5 1126.2h7.5M802.5 1126.2h17.5M825 1126.2h5M792.5 1128.8h7.5M802.5 1128.8h17.5M822.5 1128.8h10M790 1131.2h10M802.5 1131.2h20M825 1131.2h7.5M790 1133.8h10M802.5 1133.8h5M812.5 1133.8h10M825 1133.8h10M790 1136.2h5M797.5 1136.2h2.5M812.5 1136.2h7.5M795 1138.8h2.5" stroke="#3c5f97" stroke-width="2.65" fill="none"/><path d="M640 673.8h20M640 676.2h15M640 678.8h10M680 678.8h2.5M735 678.8h2.5M622.5 681.2h2.5M642.5 681.2h10M680 681.2h2.5M622.5 683.8h2.5M642.5 683.8h10M680 683.8h5M622.5 686.2h2.5M645 686.2h10M680 686.2h5M692.5 686.2h2.5M727.5 686.2h2.5M645 688.8h10M680 688.8h5M727.5 688.8h2.5M642.5 691.2h17.5M680 691.2h2.5M727.5 691.2h5M645 693.8h17.5M677.5 693.8h7.5M645 696.2h22.5M672.5 696.2h10M582.5 698.8h17.5M645 698.8h25M672.5 698.8h7.5M580 701.2h20M645 701.2h25M767.5 701.2h2.5M580 703.8h15M620 703.8h2.5M647.5 703.8h22.5M767.5 703.8h5M582.5 706.2h10M620 706.2h2.5M645 706.2h22.5M680 706.2h5M687.5 706.2h2.5M765 706.2h7.5M585 708.8h7.5M645 708.8h17.5M675 708.8h15M765 708.8h5M585 711.2h7.5M617.5 711.2h5M635 711.2h32.5M670 711.2h5M677.5 711.2h17.5M765 711.2h5M587.5 713.8h7.5M617.5 713.8h5M632.5 713.8h42.5M680 713.8h17.5M702.5 713.8h2.5M767.5 713.8h2.5M590 716.2h5M617.5 716.2h2.5M630 716.2h42.5M682.5 716.2h17.5M620 718.8h2.5M627.5 718.8h45M682.5 718.8h17.5M617.5 721.2h2.5M627.5 721.2h45M685 721.2h12.5M747.5 721.2h5M617.5 723.8h2.5M627.5 723.8h45M685 723.8h5M695 723.8h2.5M745 723.8h10M615 726.2h2.5M627.5 726.2h22.5M655 726.2h17.5M685 726.2h5M697.5 726.2h2.5M747.5 726.2h10M602.5 728.8h2.5M612.5 728.8h5M630 728.8h7.5M660 728.8h7.5M687.5 728.8h2.5M747.5 728.8h2.5M755 728.8h2.5M782.5 728.8h2.5M600 731.2h17.5M630 731.2h7.5M657.5 731.2h10M757.5 731.2h2.5M782.5 731.2h2.5M602.5 733.8h2.5M607.5 733.8h12.5M632.5 733.8h5M657.5 733.8h7.5M770 733.8h5M597.5 736.2h10M612.5 736.2h10M632.5 736.2h5M657.5 736.2h5M767.5 736.2h7.5M597.5 738.8h5M612.5 738.8h10M632.5 738.8h2.5M652.5 738.8h7.5M767.5 738.8h7.5M597.5 741.2h2.5M612.5 741.2h12.5M630 741.2h5M650 741.2h7.5M752.5 741.2h2.5M760 741.2h12.5M592.5 743.8h5M612.5 743.8h10M645 743.8h10M675 743.8h2.5M752.5 743.8h2.5M757.5 743.8h15M592.5 746.2h2.5M612.5 746.2h2.5M627.5 746.2h5M642.5 746.2h5M670 746.2h20M752.5 746.2h5M760 746.2h15M592.5 748.8h2.5M610 748.8h2.5M627.5 748.8h5M667.5 748.8h22.5M752.5 748.8h20M610 751.2h2.5M627.5 751.2h5M667.5 751.2h25M752.5 751.2h20M610 753.8h2.5M627.5 753.8h5M642.5 753.8h2.5M667.5 753.8h22.5M752.5 753.8h17.5M605 756.2h5M630 756.2h7.5M640 756.2h7.5M665 756.2h20M755 756.2h17.5M792.5 756.2h2.5M800 756.2h5M835 756.2h2.5M605 758.8h5M627.5 758.8h20M670 758.8h7.5M755 758.8h2.5M760 758.8h12.5M792.5 758.8h15M605 761.2h7.5M627.5 761.2h20M755 761.2h17.5M792.5 761.2h15M817.5 761.2h5M607.5 763.8h5M620 763.8h2.5M625 763.8h5M640 763.8h7.5M722.5 763.8h5M755 763.8h20M795 763.8h15M812.5 763.8h2.5M817.5 763.8h5M850 763.8h10M610 766.2h2.5M617.5 766.2h12.5M645 766.2h2.5M722.5 766.2h5M750 766.2h5M760 766.2h15M795 766.2h20M817.5 766.2h5M852.5 766.2h5M617.5 768.8h12.5M722.5 768.8h15M742.5 768.8h12.5M765 768.8h10M795 768.8h27.5M852.5 768.8h2.5M857.5 768.8h2.5M620 771.2h10M727.5 771.2h2.5M735 771.2h2.5M742.5 771.2h12.5M767.5 771.2h10M795 771.2h27.5M852.5 771.2h5M1045 771.2h7.5M742.5 773.8h15M767.5 773.8h10M795 773.8h12.5M812.5 773.8h10M850 773.8h5M1032.5 773.8h25M745 776.2h12.5M770 776.2h7.5M795 776.2h10M810 776.2h10M832.5 776.2h2.5M847.5 776.2h7.5M1030 776.2h2.5M1035 776.2h25M600 778.8h2.5M637.5 778.8h2.5M747.5 778.8h7.5M770 778.8h10M795 778.8h7.5M810 778.8h12.5M830 778.8h10M845 778.8h7.5M1035 778.8h25M597.5 781.2h5M635 781.2h7.5M747.5 781.2h7.5M770 781.2h10M792.5 781.2h32.5M827.5 781.2h22.5M1035 781.2h20M637.5 783.8h5M710 783.8h5M745 783.8h10M767.5 783.8h12.5M792.5 783.8h55M1035 783.8h20M640 786.2h2.5M710 786.2h7.5M747.5 786.2h5M765 786.2h17.5M792.5 786.2h10M807.5 786.2h25M835 786.2h7.5M1032.5 786.2h22.5M705 788.8h12.5M747.5 788.8h2.5M762.5 788.8h20M795 788.8h7.5M805 788.8h25M835 788.8h5M1022.5 788.8h2.5M1030 788.8h22.5M702.5 791.2h17.5M742.5 791.2h5M762.5 791.2h20M795 791.2h35M835 791.2h5M1025 791.2h27.5M705 793.8h15M742.5 793.8h2.5M760 793.8h5M770 793.8h10M792.5 793.8h37.5M835 793.8h5M1032.5 793.8h20M705 796.2h15M727.5 796.2h5M742.5 796.2h2.5M760 796.2h7.5M770 796.2h2.5M775 796.2h5M792.5 796.2h10M812.5 796.2h5M827.5 796.2h2.5M835 796.2h5M852.5 796.2h2.5M867.5 796.2h7.5M1032.5 796.2h17.5M715 798.8h12.5M742.5 798.8h2.5M760 798.8h12.5M777.5 798.8h2.5M792.5 798.8h7.5M812.5 798.8h5M827.5 798.8h12.5M852.5 798.8h5M865 798.8h12.5M1030 798.8h22.5M717.5 801.2h5M745 801.2h2.5M765 801.2h7.5M792.5 801.2h7.5M812.5 801.2h7.5M827.5 801.2h10M865 801.2h12.5M1027.5 801.2h22.5M615 803.8h2.5M745 803.8h5M760 803.8h12.5M777.5 803.8h2.5M792.5 803.8h7.5M812.5 803.8h7.5M827.5 803.8h10M865 803.8h12.5M1025 803.8h25M612.5 806.2h5M730 806.2h2.5M745 806.2h5M760 806.2h15M777.5 806.2h2.5M797.5 806.2h5M810 806.2h27.5M870 806.2h7.5M990 806.2h2.5M1025 806.2h20M730 808.8h7.5M747.5 808.8h5M762.5 808.8h17.5M792.5 808.8h12.5M810 808.8h27.5M870 808.8h2.5M985 808.8h7.5M1027.5 808.8h10M632.5 811.2h2.5M732.5 811.2h7.5M747.5 811.2h7.5M765 811.2h2.5M770 811.2h10M792.5 811.2h20M822.5 811.2h12.5M837.5 811.2h2.5M980 811.2h12.5M632.5 813.8h5M670 813.8h2.5M682.5 813.8h10M707.5 813.8h5M732.5 813.8h5M747.5 813.8h2.5M752.5 813.8h2.5M772.5 813.8h7.5M792.5 813.8h10M805 813.8h5M820 813.8h12.5M975 813.8h17.5M635 816.2h5M647.5 816.2h7.5M670 816.2h5M682.5 816.2h10M707.5 816.2h7.5M735 816.2h5M752.5 816.2h5M772.5 816.2h10M792.5 816.2h17.5M817.5 816.2h2.5M825 816.2h5M895 816.2h2.5M972.5 816.2h20M1012.5 816.2h5M1055 816.2h10M635 818.8h20M672.5 818.8h2.5M685 818.8h7.5M707.5 818.8h2.5M715 818.8h5M722.5 818.8h2.5M755 818.8h2.5M772.5 818.8h10M792.5 818.8h30M825 818.8h2.5M895 818.8h2.5M977.5 818.8h15M1010 818.8h7.5M1060 818.8h5M637.5 821.2h20M672.5 821.2h7.5M685 821.2h7.5M710 821.2h2.5M715 821.2h12.5M775 821.2h7.5M792.5 821.2h32.5M877.5 821.2h2.5M895 821.2h2.5M922.5 821.2h2.5M970 821.2h2.5M977.5 821.2h15M1010 821.2h2.5M637.5 823.8h22.5M675 823.8h7.5M685 823.8h7.5M710 823.8h2.5M715 823.8h12.5M752.5 823.8h2.5M775 823.8h7.5M792.5 823.8h35M875 823.8h5M895 823.8h2.5M922.5 823.8h5M970 823.8h22.5M637.5 826.2h30M677.5 826.2h7.5M710 826.2h5M717.5 826.2h15M752.5 826.2h7.5M792.5 826.2h37.5M875 826.2h2.5M895 826.2h2.5M922.5 826.2h2.5M972.5 826.2h20M1040 826.2h7.5M637.5 828.8h35M677.5 828.8h10M717.5 828.8h15M752.5 828.8h7.5M792.5 828.8h37.5M857.5 828.8h5M872.5 828.8h5M892.5 828.8h2.5M977.5 828.8h15M1042.5 828.8h5M617.5 831.2h5M640 831.2h2.5M645 831.2h30M680 831.2h7.5M710 831.2h2.5M720 831.2h15M750 831.2h10M765 831.2h2.5M792.5 831.2h12.5M810 831.2h20M832.5 831.2h2.5M872.5 831.2h2.5M892.5 831.2h2.5M907.5 831.2h2.5M977.5 831.2h17.5M1015 831.2h2.5M1037.5 831.2h12.5M605 833.8h2.5M615 833.8h10M640 833.8h5M650 833.8h10M662.5 833.8h12.5M720 833.8h7.5M730 833.8h7.5M747.5 833.8h15M765 833.8h5M792.5 833.8h12.5M810 833.8h20M837.5 833.8h2.5M872.5 833.8h2.5M890 833.8h5M905 833.8h5M985 833.8h10M1012.5 833.8h5M1030 833.8h22.5M602.5 836.2h7.5M612.5 836.2h15M642.5 836.2h2.5M665 836.2h12.5M705 836.2h2.5M720 836.2h5M730 836.2h10M747.5 836.2h15M765 836.2h5M792.5 836.2h2.5M797.5 836.2h12.5M812.5 836.2h15M840 836.2h2.5M852.5 836.2h2.5M887.5 836.2h5M905 836.2h7.5M987.5 836.2h7.5M1010 836.2h2.5M1025 836.2h27.5M605 838.8h5M612.5 838.8h15M645 838.8h2.5M662.5 838.8h17.5M700 838.8h7.5M720 838.8h5M730 838.8h5M737.5 838.8h2.5M747.5 838.8h10M760 838.8h2.5M765 838.8h5M797.5 838.8h12.5M815 838.8h7.5M825 838.8h2.5M832.5 838.8h2.5M850 838.8h7.5M887.5 838.8h5M902.5 838.8h12.5M987.5 838.8h12.5M1002.5 838.8h7.5M1022.5 838.8h27.5M602.5 841.2h2.5M607.5 841.2h2.5M615 841.2h2.5M620 841.2h5M665 841.2h5M675 841.2h5M697.5 841.2h7.5M715 841.2h10M732.5 841.2h2.5M737.5 841.2h2.5M747.5 841.2h10M760 841.2h2.5M767.5 841.2h2.5M777.5 841.2h2.5M797.5 841.2h5M817.5 841.2h2.5M827.5 841.2h12.5M850 841.2h5M872.5 841.2h17.5M900 841.2h12.5M985 841.2h20M1017.5 841.2h27.5M662.5 843.8h5M692.5 843.8h5M700 843.8h2.5M715 843.8h2.5M720 843.8h5M732.5 843.8h5M740 843.8h2.5M747.5 843.8h12.5M762.5 843.8h2.5M767.5 843.8h2.5M775 843.8h7.5M797.5 843.8h5M825 843.8h12.5M847.5 843.8h7.5M872.5 843.8h17.5M980 843.8h25M1015 843.8h27.5M662.5 846.2h2.5M692.5 846.2h5M712.5 846.2h2.5M722.5 846.2h5M735 846.2h2.5M747.5 846.2h2.5M757.5 846.2h2.5M762.5 846.2h2.5M775 846.2h2.5M782.5 846.2h2.5M787.5 846.2h2.5M797.5 846.2h2.5M825 846.2h10M845 846.2h10M872.5 846.2h17.5M977.5 846.2h2.5M982.5 846.2h40M1025 846.2h12.5M692.5 848.8h5M700 848.8h5M712.5 848.8h2.5M725 848.8h2.5M735 848.8h2.5M742.5 848.8h2.5M757.5 848.8h2.5M767.5 848.8h2.5M775 848.8h2.5M782.5 848.8h2.5M787.5 848.8h2.5M795 848.8h5M822.5 848.8h12.5M840 848.8h15M872.5 848.8h12.5M887.5 848.8h2.5M892.5 848.8h2.5M975 848.8h2.5M987.5 848.8h12.5M1005 848.8h15M1027.5 848.8h5M692.5 851.2h7.5M702.5 851.2h5M712.5 851.2h2.5M742.5 851.2h2.5M757.5 851.2h2.5M775 851.2h2.5M782.5 851.2h2.5M787.5 851.2h2.5M825 851.2h7.5M837.5 851.2h2.5M852.5 851.2h5M872.5 851.2h12.5M890 851.2h5M987.5 851.2h12.5M1002.5 851.2h12.5M1027.5 851.2h2.5M690 853.8h5M697.5 853.8h2.5M712.5 853.8h5M737.5 853.8h2.5M760 853.8h2.5M765 853.8h2.5M775 853.8h2.5M782.5 853.8h2.5M805 853.8h2.5M822.5 853.8h7.5M837.5 853.8h2.5M855 853.8h2.5M872.5 853.8h2.5M877.5 853.8h5M890 853.8h2.5M985 853.8h2.5M992.5 853.8h7.5M1005 853.8h10M1050 853.8h2.5M1055 853.8h2.5M690 856.2h5M712.5 856.2h5M737.5 856.2h2.5M745 856.2h2.5M760 856.2h5M777.5 856.2h7.5M795 856.2h5M802.5 856.2h2.5M815 856.2h2.5M822.5 856.2h10M835 856.2h2.5M855 856.2h2.5M870 856.2h2.5M877.5 856.2h2.5M887.5 856.2h7.5M992.5 856.2h5M1007.5 856.2h7.5M692.5 858.8h2.5M715 858.8h5M742.5 858.8h5M760 858.8h7.5M777.5 858.8h7.5M800 858.8h5M815 858.8h2.5M825 858.8h12.5M867.5 858.8h5M877.5 858.8h2.5M885 858.8h12.5M992.5 858.8h5M1005 858.8h10M692.5 861.2h5M740 861.2h7.5M762.5 861.2h5M770 861.2h2.5M777.5 861.2h7.5M802.5 861.2h2.5M815 861.2h2.5M822.5 861.2h15M867.5 861.2h7.5M877.5 861.2h5M890 861.2h12.5M987.5 861.2h10M1007.5 861.2h5M695 863.8h5M742.5 863.8h2.5M762.5 863.8h5M770 863.8h5M780 863.8h5M802.5 863.8h2.5M812.5 863.8h5M822.5 863.8h5M830 863.8h7.5M862.5 863.8h2.5M867.5 863.8h7.5M887.5 863.8h12.5M972.5 863.8h2.5M987.5 863.8h12.5M1007.5 863.8h7.5M1017.5 863.8h2.5M697.5 866.2h2.5M742.5 866.2h2.5M765 866.2h10M797.5 866.2h5M812.5 866.2h5M822.5 866.2h5M832.5 866.2h5M857.5 866.2h7.5M870 866.2h2.5M885 866.2h12.5M987.5 866.2h15M1005 866.2h12.5M697.5 868.8h5M732.5 868.8h10M765 868.8h5M772.5 868.8h7.5M797.5 868.8h5M812.5 868.8h5M820 868.8h7.5M832.5 868.8h2.5M857.5 868.8h7.5M867.5 868.8h5M885 868.8h2.5M985 868.8h15M1005 868.8h12.5M1052.5 868.8h2.5M700 871.2h2.5M735 871.2h10M765 871.2h5M775 871.2h5M795 871.2h5M812.5 871.2h5M820 871.2h7.5M832.5 871.2h2.5M860 871.2h10M882.5 871.2h2.5M982.5 871.2h12.5M1007.5 871.2h7.5M1042.5 871.2h12.5M695 873.8h2.5M725 873.8h2.5M735 873.8h7.5M765 873.8h5M775 873.8h7.5M795 873.8h5M805 873.8h5M815 873.8h12.5M860 873.8h2.5M865 873.8h2.5M880 873.8h2.5M980 873.8h10M1010 873.8h10M1037.5 873.8h15M692.5 876.2h5M722.5 876.2h7.5M737.5 876.2h5M765 876.2h5M775 876.2h10M795 876.2h5M805 876.2h5M820 876.2h10M865 876.2h2.5M880 876.2h2.5M980 876.2h7.5M1007.5 876.2h10M1032.5 876.2h20M695 878.8h7.5M722.5 878.8h2.5M730 878.8h2.5M740 878.8h2.5M765 878.8h5M775 878.8h12.5M795 878.8h2.5M805 878.8h5M812.5 878.8h2.5M820 878.8h7.5M860 878.8h5M877.5 878.8h2.5M975 878.8h7.5M1002.5 878.8h5M1010 878.8h42.5M697.5 881.2h2.5M702.5 881.2h2.5M712.5 881.2h7.5M722.5 881.2h2.5M730 881.2h2.5M740 881.2h2.5M765 881.2h7.5M775 881.2h10M807.5 881.2h2.5M812.5 881.2h2.5M820 881.2h10M857.5 881.2h5M877.5 881.2h2.5M972.5 881.2h5M997.5 881.2h5M1030 881.2h2.5M1040 881.2h10M697.5 883.8h5M705 883.8h2.5M710 883.8h7.5M720 883.8h2.5M727.5 883.8h5M767.5 883.8h20M802.5 883.8h2.5M810 883.8h5M817.5 883.8h7.5M855 883.8h7.5M875 883.8h5M970 883.8h5M997.5 883.8h2.5M1037.5 883.8h5M700 886.2h2.5M707.5 886.2h2.5M712.5 886.2h7.5M730 886.2h2.5M760 886.2h17.5M782.5 886.2h5M802.5 886.2h2.5M807.5 886.2h15M855 886.2h5M875 886.2h2.5M970 886.2h2.5M1037.5 886.2h5M680 888.8h2.5M702.5 888.8h2.5M707.5 888.8h2.5M712.5 888.8h10M762.5 888.8h10M785 888.8h2.5M802.5 888.8h2.5M810 888.8h2.5M815 888.8h5M855 888.8h5M872.5 888.8h5M970 888.8h2.5M975 888.8h2.5M1037.5 888.8h2.5M680 891.2h7.5M705 891.2h2.5M710 891.2h2.5M715 891.2h7.5M755 891.2h2.5M785 891.2h2.5M810 891.2h2.5M815 891.2h5M827.5 891.2h2.5M855 891.2h5M872.5 891.2h5M975 891.2h2.5M980 891.2h2.5M1037.5 891.2h5M682.5 893.8h2.5M687.5 893.8h2.5M710 893.8h2.5M717.5 893.8h5M755 893.8h2.5M772.5 893.8h2.5M777.5 893.8h2.5M800 893.8h2.5M815 893.8h2.5M825 893.8h5M852.5 893.8h7.5M867.5 893.8h5M977.5 893.8h5M1037.5 893.8h2.5M685 896.2h2.5M712.5 896.2h2.5M717.5 896.2h7.5M745 896.2h2.5M757.5 896.2h2.5M772.5 896.2h2.5M777.5 896.2h2.5M800 896.2h2.5M815 896.2h2.5M825 896.2h5M850 896.2h7.5M865 896.2h5M715 898.8h2.5M722.5 898.8h2.5M745 898.8h5M757.5 898.8h5M770 898.8h5M780 898.8h2.5M800 898.8h5M822.5 898.8h7.5M837.5 898.8h2.5M847.5 898.8h10M862.5 898.8h2.5M692.5 901.2h2.5M715 901.2h7.5M725 901.2h2.5M745 901.2h5M757.5 901.2h5M765 901.2h2.5M787.5 901.2h2.5M800 901.2h10M822.5 901.2h7.5M837.5 901.2h2.5M845 901.2h12.5M860 901.2h2.5M695 903.8h2.5M717.5 903.8h7.5M727.5 903.8h2.5M737.5 903.8h2.5M745 903.8h2.5M750 903.8h17.5M772.5 903.8h2.5M782.5 903.8h2.5M787.5 903.8h2.5M800 903.8h7.5M820 903.8h10M835 903.8h5M842.5 903.8h7.5M852.5 903.8h2.5M857.5 903.8h5M700 906.2h2.5M720 906.2h7.5M730 906.2h2.5M740 906.2h2.5M747.5 906.2h22.5M772.5 906.2h5M800 906.2h2.5M805 906.2h2.5M827.5 906.2h2.5M835 906.2h12.5M850 906.2h2.5M857.5 906.2h5M720 908.8h12.5M740 908.8h5M747.5 908.8h7.5M757.5 908.8h20M800 908.8h2.5M805 908.8h2.5M832.5 908.8h10M715 911.2h5M722.5 911.2h7.5M740 911.2h5M750 911.2h5M762.5 911.2h15M792.5 911.2h2.5M797.5 911.2h5M805 911.2h2.5M822.5 911.2h5M830 911.2h2.5M835 911.2h5M842.5 911.2h2.5M847.5 911.2h2.5M717.5 913.8h2.5M725 913.8h5M740 913.8h5M752.5 913.8h2.5M765 913.8h15M785 913.8h2.5M792.5 913.8h2.5M797.5 913.8h5M815 913.8h2.5M822.5 913.8h2.5M830 913.8h7.5M842.5 913.8h2.5M695 916.2h2.5M717.5 916.2h5M727.5 916.2h10M740 916.2h7.5M755 916.2h2.5M765 916.2h2.5M772.5 916.2h7.5M785 916.2h2.5M792.5 916.2h2.5M797.5 916.2h7.5M815 916.2h2.5M822.5 916.2h2.5M832.5 916.2h2.5M845 916.2h2.5M697.5 918.8h5M720 918.8h5M727.5 918.8h10M740 918.8h7.5M757.5 918.8h2.5M762.5 918.8h5M772.5 918.8h7.5M785 918.8h5M792.5 918.8h2.5M797.5 918.8h7.5M815 918.8h2.5M827.5 918.8h7.5M840 918.8h5M850 918.8h5M702.5 921.2h2.5M727.5 921.2h10M742.5 921.2h2.5M747.5 921.2h2.5M752.5 921.2h2.5M762.5 921.2h5M775 921.2h5M787.5 921.2h2.5M792.5 921.2h2.5M800 921.2h5M827.5 921.2h2.5M837.5 921.2h2.5M842.5 921.2h2.5M850 921.2h2.5M705 923.8h2.5M735 923.8h5M745 923.8h5M752.5 923.8h5M760 923.8h7.5M777.5 923.8h2.5M785 923.8h5M792.5 923.8h2.5M800 923.8h2.5M807.5 923.8h2.5M815 923.8h2.5M827.5 923.8h2.5M840 923.8h5M707.5 926.2h5M727.5 926.2h2.5M737.5 926.2h2.5M750 926.2h10M762.5 926.2h2.5M767.5 926.2h2.5M775 926.2h15M792.5 926.2h2.5M797.5 926.2h5M807.5 926.2h2.5M815 926.2h2.5M825 926.2h2.5M840 926.2h5M712.5 928.8h7.5M730 928.8h2.5M737.5 928.8h5M750 928.8h10M762.5 928.8h5M775 928.8h20M797.5 928.8h5M805 928.8h12.5M825 928.8h2.5M832.5 928.8h2.5M840 928.8h2.5M845 928.8h2.5M715 931.2h5M732.5 931.2h2.5M740 931.2h5M752.5 931.2h10M765 931.2h2.5M770 931.2h10M787.5 931.2h5M797.5 931.2h20M830 931.2h5M840 931.2h10M712.5 933.8h2.5M735 933.8h12.5M755 933.8h5M762.5 933.8h12.5M777.5 933.8h2.5M787.5 933.8h2.5M797.5 933.8h15M815 933.8h2.5M822.5 933.8h2.5M842.5 933.8h10M1035 933.8h5M715 936.2h2.5M747.5 936.2h2.5M757.5 936.2h5M765 936.2h10M777.5 936.2h7.5M787.5 936.2h2.5M797.5 936.2h7.5M822.5 936.2h10M842.5 936.2h10M957.5 936.2h7.5M1030 936.2h2.5M707.5 938.8h2.5M750 938.8h2.5M760 938.8h2.5M770 938.8h5M780 938.8h2.5M787.5 938.8h2.5M795 938.8h10M815 938.8h2.5M822.5 938.8h7.5M840 938.8h10M955 938.8h15M1017.5 938.8h2.5M1022.5 938.8h5M1045 938.8h2.5M710 941.2h5M752.5 941.2h2.5M762.5 941.2h2.5M772.5 941.2h5M780 941.2h2.5M787.5 941.2h2.5M795 941.2h7.5M817.5 941.2h2.5M822.5 941.2h7.5M840 941.2h7.5M855 941.2h2.5M960 941.2h2.5M972.5 941.2h5M980 941.2h5M1010 941.2h15M1042.5 941.2h5M1055 941.2h5M712.5 943.8h5M755 943.8h2.5M765 943.8h2.5M772.5 943.8h5M780 943.8h2.5M792.5 943.8h10M812.5 943.8h2.5M822.5 943.8h7.5M837.5 943.8h2.5M842.5 943.8h2.5M850 943.8h2.5M972.5 943.8h10M1005 943.8h2.5M1015 943.8h12.5M1042.5 943.8h7.5M1052.5 943.8h7.5M737.5 946.2h10M755 946.2h7.5M772.5 946.2h2.5M790 946.2h5M797.5 946.2h5M815 946.2h2.5M820 946.2h2.5M825 946.2h5M835 946.2h5M845 946.2h5M975 946.2h5M997.5 946.2h7.5M1017.5 946.2h10M1045 946.2h37.5M1090 946.2h5M727.5 948.8h22.5M755 948.8h12.5M770 948.8h7.5M790 948.8h5M797.5 948.8h5M815 948.8h2.5M825 948.8h2.5M832.5 948.8h5M845 948.8h7.5M857.5 948.8h2.5M975 948.8h7.5M995 948.8h5M1042.5 948.8h37.5M1095 948.8h2.5M727.5 951.2h27.5M757.5 951.2h2.5M762.5 951.2h5M772.5 951.2h2.5M777.5 951.2h2.5M790 951.2h2.5M800 951.2h2.5M815 951.2h2.5M822.5 951.2h2.5M830 951.2h5M840 951.2h5M847.5 951.2h7.5M860 951.2h2.5M970 951.2h12.5M985 951.2h12.5M1032.5 951.2h5M1042.5 951.2h32.5M732.5 953.8h2.5M740 953.8h20M765 953.8h5M777.5 953.8h2.5M790 953.8h2.5M800 953.8h2.5M805 953.8h5M827.5 953.8h5M837.5 953.8h2.5M847.5 953.8h2.5M857.5 953.8h2.5M947.5 953.8h7.5M960 953.8h25M987.5 953.8h7.5M1035 953.8h10M1052.5 953.8h12.5M735 956.2h2.5M742.5 956.2h12.5M757.5 956.2h5M767.5 956.2h5M780 956.2h2.5M790 956.2h2.5M797.5 956.2h10M812.5 956.2h5M825 956.2h5M835 956.2h2.5M860 956.2h2.5M952.5 956.2h27.5M990 956.2h2.5M737.5 958.8h5M747.5 958.8h10M770 958.8h5M780 958.8h2.5M790 958.8h2.5M797.5 958.8h5M805 958.8h2.5M822.5 958.8h5M830 958.8h2.5M857.5 958.8h5M865 958.8h2.5M930 958.8h2.5M950 958.8h45M997.5 958.8h20M1025 958.8h2.5M737.5 961.2h7.5M752.5 961.2h7.5M762.5 961.2h2.5M772.5 961.2h2.5M790 961.2h2.5M805 961.2h5M815 961.2h2.5M827.5 961.2h5M840 961.2h2.5M855 961.2h5M915 961.2h5M945 961.2h77.5M1025 961.2h5M697.5 963.8h2.5M740 963.8h7.5M755 963.8h5M765 963.8h2.5M772.5 963.8h5M780 963.8h2.5M790 963.8h2.5M802.5 963.8h12.5M822.5 963.8h7.5M835 963.8h2.5M905 963.8h10M940 963.8h40M985 963.8h2.5M992.5 963.8h27.5M1027.5 963.8h5M1060 963.8h5M710 966.2h2.5M740 966.2h2.5M745 966.2h7.5M757.5 966.2h5M767.5 966.2h2.5M775 966.2h5M782.5 966.2h5M802.5 966.2h2.5M820 966.2h5M830 966.2h5M862.5 966.2h7.5M892.5 966.2h10M905 966.2h10M930 966.2h5M942.5 966.2h30M1000 966.2h20M1030 966.2h5M1055 966.2h7.5M1085 966.2h10M722.5 968.8h2.5M732.5 968.8h7.5M742.5 968.8h2.5M760 968.8h2.5M765 968.8h2.5M770 968.8h2.5M777.5 968.8h2.5M802.5 968.8h2.5M807.5 968.8h2.5M815 968.8h2.5M820 968.8h5M827.5 968.8h2.5M847.5 968.8h7.5M865 968.8h7.5M882.5 968.8h7.5M920 968.8h2.5M942.5 968.8h35M1000 968.8h20M1032.5 968.8h5M1050 968.8h10M1082.5 968.8h12.5M697.5 971.2h2.5M707.5 971.2h2.5M730 971.2h2.5M740 971.2h15M765 971.2h2.5M772.5 971.2h2.5M780 971.2h5M787.5 971.2h5M802.5 971.2h5M812.5 971.2h2.5M830 971.2h2.5M837.5 971.2h10M862.5 971.2h5M872.5 971.2h12.5M945 971.2h40M997.5 971.2h22.5M1032.5 971.2h17.5M1082.5 971.2h5M1090 971.2h2.5M720 973.8h2.5M740 973.8h10M752.5 973.8h10M767.5 973.8h5M775 973.8h2.5M782.5 973.8h2.5M787.5 973.8h2.5M797.5 973.8h5M810 973.8h2.5M817.5 973.8h5M832.5 973.8h5M857.5 973.8h2.5M865 973.8h7.5M877.5 973.8h5M945 973.8h10M957.5 973.8h32.5M1000 973.8h12.5M1082.5 973.8h2.5M722.5 976.2h2.5M727.5 976.2h22.5M752.5 976.2h5M760 976.2h2.5M770 976.2h2.5M775 976.2h5M782.5 976.2h7.5M792.5 976.2h5M800 976.2h5M807.5 976.2h2.5M815 976.2h2.5M820 976.2h2.5M827.5 976.2h2.5M872.5 976.2h17.5M910 976.2h2.5M945 976.2h7.5M970 976.2h25M1007.5 976.2h5M695 978.8h2.5M730 978.8h10M747.5 978.8h2.5M762.5 978.8h5M772.5 978.8h5M785 978.8h15M805 978.8h2.5M810 978.8h2.5M815 978.8h2.5M832.5 978.8h20M870 978.8h5M882.5 978.8h25M910 978.8h5M945 978.8h5M972.5 978.8h17.5M995 978.8h2.5M1007.5 978.8h5M667.5 981.2h5M700 981.2h2.5M717.5 981.2h7.5M727.5 981.2h2.5M732.5 981.2h22.5M757.5 981.2h10M770 981.2h2.5M777.5 981.2h2.5M792.5 981.2h5M817.5 981.2h2.5M825 981.2h20M862.5 981.2h30M902.5 981.2h2.5M942.5 981.2h2.5M947.5 981.2h2.5M995 981.2h7.5M1007.5 981.2h2.5M1035 981.2h2.5M675 983.8h2.5M720 983.8h10M777.5 983.8h5M790 983.8h2.5M797.5 983.8h2.5M817.5 983.8h17.5M860 983.8h5M882.5 983.8h2.5M910 983.8h7.5M922.5 983.8h30M990 983.8h15M1007.5 983.8h2.5M1032.5 983.8h7.5M672.5 986.2h2.5M692.5 986.2h7.5M720 986.2h2.5M735 986.2h2.5M765 986.2h2.5M782.5 986.2h5M790 986.2h2.5M812.5 986.2h12.5M857.5 986.2h15M972.5 986.2h5M980 986.2h5M990 986.2h20M1030 986.2h7.5M715 988.8h5M735 988.8h5M777.5 988.8h7.5M802.5 988.8h5M832.5 988.8h22.5M862.5 988.8h7.5M952.5 988.8h5M970 988.8h15M990 988.8h10M1025 988.8h5M662.5 991.2h25M727.5 991.2h2.5M735 991.2h2.5M750 991.2h27.5M785 991.2h2.5M790 991.2h2.5M797.5 991.2h22.5M835 991.2h22.5M870 991.2h5M890 991.2h17.5M935 991.2h50M990 991.2h17.5M1017.5 991.2h12.5M1045 991.2h22.5M660 993.8h2.5M687.5 993.8h7.5M702.5 993.8h2.5M707.5 993.8h10M745 993.8h27.5M777.5 993.8h2.5M787.5 993.8h2.5M795 993.8h5M805 993.8h5M812.5 993.8h2.5M822.5 993.8h25M857.5 993.8h27.5M887.5 993.8h27.5M932.5 993.8h7.5M945 993.8h62.5M1015 993.8h15M1045 993.8h12.5M1060 993.8h7.5M652.5 996.2h5M687.5 996.2h2.5M712.5 996.2h10M750 996.2h10M770 996.2h5M777.5 996.2h2.5M782.5 996.2h2.5M787.5 996.2h5M795 996.2h5M805 996.2h5M812.5 996.2h2.5M820 996.2h10M835 996.2h5M850 996.2h7.5M865 996.2h17.5M897.5 996.2h2.5M902.5 996.2h5M912.5 996.2h7.5M927.5 996.2h12.5M945 996.2h62.5M1012.5 996.2h22.5M1042.5 996.2h27.5M1082.5 996.2h5M682.5 998.8h7.5M715 998.8h5M735 998.8h15M765 998.8h10M780 998.8h2.5M787.5 998.8h2.5M795 998.8h17.5M817.5 998.8h7.5M830 998.8h12.5M852.5 998.8h5M872.5 998.8h2.5M902.5 998.8h2.5M912.5 998.8h7.5M927.5 998.8h15M945 998.8h127.5M1080 998.8h7.5M650 1001.2h17.5M675 1001.2h12.5M737.5 1001.2h2.5M745 1001.2h2.5M760 1001.2h12.5M775 1001.2h2.5M780 1001.2h2.5M787.5 1001.2h2.5M795 1001.2h12.5M810 1001.2h5M822.5 1001.2h7.5M837.5 1001.2h22.5M897.5 1001.2h7.5M910 1001.2h2.5M915 1001.2h2.5M935 1001.2h70M1010 1001.2h77.5M712.5 1003.8h17.5M740 1003.8h2.5M752.5 1003.8h2.5M757.5 1003.8h2.5M765 1003.8h2.5M772.5 1003.8h2.5M777.5 1003.8h2.5M792.5 1003.8h5M800 1003.8h5M812.5 1003.8h5M827.5 1003.8h7.5M840 1003.8h5M847.5 1003.8h25M875 1003.8h22.5M910 1003.8h5M940 1003.8h32.5M977.5 1003.8h27.5M1012.5 1003.8h75M710 1006.2h15M735 1006.2h2.5M747.5 1006.2h5M762.5 1006.2h7.5M782.5 1006.2h2.5M792.5 1006.2h5M802.5 1006.2h2.5M812.5 1006.2h7.5M825 1006.2h2.5M830 1006.2h2.5M835 1006.2h7.5M847.5 1006.2h25M892.5 1006.2h5M907.5 1006.2h7.5M947.5 1006.2h152.5M1105 1006.2h15M632.5 1008.8h12.5M717.5 1008.8h5M730 1008.8h5M740 1008.8h5M760 1008.8h7.5M777.5 1008.8h5M792.5 1008.8h2.5M805 1008.8h2.5M815 1008.8h2.5M822.5 1008.8h2.5M837.5 1008.8h22.5M865 1008.8h15M897.5 1008.8h17.5M967.5 1008.8h17.5M987.5 1008.8h7.5M1000 1008.8h37.5M1072.5 1008.8h22.5M1105 1008.8h15M605 1011.2h42.5M697.5 1011.2h10M712.5 1011.2h5M725 1011.2h17.5M760 1011.2h2.5M782.5 1011.2h2.5M797.5 1011.2h2.5M802.5 1011.2h2.5M807.5 1011.2h5M815 1011.2h2.5M825 1011.2h2.5M842.5 1011.2h7.5M860 1011.2h25M900 1011.2h20M990 1011.2h5M1000 1011.2h32.5M1077.5 1011.2h15M1107.5 1011.2h12.5M602.5 1013.8h50M655 1013.8h2.5M687.5 1013.8h15M710 1013.8h10M725 1013.8h5M735 1013.8h2.5M755 1013.8h5M767.5 1013.8h2.5M777.5 1013.8h5M787.5 1013.8h2.5M795 1013.8h2.5M807.5 1013.8h2.5M815 1013.8h5M830 1013.8h5M847.5 1013.8h2.5M855 1013.8h2.5M860 1013.8h10M872.5 1013.8h17.5M902.5 1013.8h17.5M922.5 1013.8h5M1012.5 1013.8h17.5M1077.5 1013.8h15M1110 1013.8h10M602.5 1016.2h15M630 1016.2h2.5M635 1016.2h5M657.5 1016.2h2.5M682.5 1016.2h15M725 1016.2h2.5M732.5 1016.2h5M752.5 1016.2h2.5M762.5 1016.2h5M772.5 1016.2h2.5M780 1016.2h2.5M790 1016.2h2.5M795 1016.2h2.5M800 1016.2h2.5M805 1016.2h2.5M810 1016.2h5M817.5 1016.2h5M827.5 1016.2h10M847.5 1016.2h5M860 1016.2h2.5M872.5 1016.2h10M892.5 1016.2h2.5M900 1016.2h32.5M937.5 1016.2h2.5M972.5 1016.2h15M995 1016.2h22.5M1077.5 1016.2h10M1112.5 1016.2h7.5M602.5 1018.8h22.5M677.5 1018.8h15M722.5 1018.8h2.5M730 1018.8h5M747.5 1018.8h5M760 1018.8h2.5M770 1018.8h2.5M777.5 1018.8h2.5M790 1018.8h2.5M795 1018.8h2.5M802.5 1018.8h2.5M820 1018.8h2.5M830 1018.8h2.5M840 1018.8h2.5M847.5 1018.8h2.5M880 1018.8h7.5M902.5 1018.8h7.5M922.5 1018.8h10M935 1018.8h5M977.5 1018.8h10M990 1018.8h30M1077.5 1018.8h12.5M1112.5 1018.8h2.5M605 1021.2h22.5M675 1021.2h20M702.5 1021.2h2.5M720 1021.2h12.5M767.5 1021.2h2.5M775 1021.2h2.5M790 1021.2h2.5M795 1021.2h5M802.5 1021.2h2.5M807.5 1021.2h2.5M812.5 1021.2h5M840 1021.2h7.5M865 1021.2h7.5M882.5 1021.2h12.5M905 1021.2h7.5M925 1021.2h5M937.5 1021.2h5M957.5 1021.2h2.5M965 1021.2h7.5M980 1021.2h7.5M990 1021.2h35M1077.5 1021.2h12.5M617.5 1023.8h20M665 1023.8h10M680 1023.8h10M697.5 1023.8h12.5M712.5 1023.8h15M775 1023.8h2.5M782.5 1023.8h5M795 1023.8h5M802.5 1023.8h2.5M815 1023.8h5M822.5 1023.8h2.5M830 1023.8h2.5M842.5 1023.8h7.5M870 1023.8h25M900 1023.8h5M910 1023.8h5M927.5 1023.8h12.5M957.5 1023.8h2.5M965 1023.8h5M980 1023.8h5M990 1023.8h42.5M1082.5 1023.8h5M667.5 1026.2h15M697.5 1026.2h7.5M715 1026.2h12.5M760 1026.2h2.5M772.5 1026.2h2.5M785 1026.2h2.5M795 1026.2h2.5M800 1026.2h5M810 1026.2h2.5M817.5 1026.2h2.5M825 1026.2h2.5M837.5 1026.2h2.5M842.5 1026.2h7.5M852.5 1026.2h5M875 1026.2h20M900 1026.2h2.5M912.5 1026.2h7.5M935 1026.2h5M955 1026.2h2.5M965 1026.2h5M982.5 1026.2h52.5M1052.5 1026.2h7.5M1082.5 1026.2h5M697.5 1028.8h2.5M705 1028.8h5M717.5 1028.8h7.5M757.5 1028.8h5M772.5 1028.8h2.5M780 1028.8h2.5M787.5 1028.8h5M797.5 1028.8h5M810 1028.8h5M817.5 1028.8h5M825 1028.8h5M835 1028.8h7.5M845 1028.8h15M880 1028.8h15M900 1028.8h7.5M952.5 1028.8h5M965 1028.8h5M972.5 1028.8h72.5M1047.5 1028.8h17.5M1075 1028.8h2.5M1080 1028.8h10M700 1031.2h15M720 1031.2h2.5M752.5 1031.2h5M762.5 1031.2h2.5M770 1031.2h2.5M780 1031.2h2.5M787.5 1031.2h7.5M797.5 1031.2h5M805 1031.2h2.5M815 1031.2h10M835 1031.2h2.5M850 1031.2h7.5M885 1031.2h5M900 1031.2h10M947.5 1031.2h10M967.5 1031.2h112.5M1090 1031.2h2.5M540 1033.8h10M705 1033.8h15M737.5 1033.8h2.5M750 1033.8h2.5M757.5 1033.8h7.5M767.5 1033.8h7.5M777.5 1033.8h5M787.5 1033.8h7.5M805 1033.8h2.5M812.5 1033.8h2.5M820 1033.8h20M855 1033.8h5M887.5 1033.8h2.5M940 1033.8h20M965 1033.8h12.5M982.5 1033.8h97.5M540 1036.2h12.5M705 1036.2h12.5M735 1036.2h2.5M752.5 1036.2h12.5M767.5 1036.2h5M777.5 1036.2h2.5M785 1036.2h5M792.5 1036.2h2.5M805 1036.2h2.5M825 1036.2h17.5M857.5 1036.2h5M885 1036.2h5M892.5 1036.2h2.5M905 1036.2h5M935 1036.2h2.5M940 1036.2h20M965 1036.2h15M987.5 1036.2h92.5M540 1038.8h12.5M587.5 1038.8h2.5M702.5 1038.8h15M750 1038.8h2.5M755 1038.8h5M762.5 1038.8h10M777.5 1038.8h2.5M787.5 1038.8h2.5M792.5 1038.8h2.5M805 1038.8h2.5M822.5 1038.8h2.5M827.5 1038.8h2.5M832.5 1038.8h7.5M842.5 1038.8h2.5M860 1038.8h5M885 1038.8h7.5M902.5 1038.8h2.5M907.5 1038.8h7.5M920 1038.8h2.5M930 1038.8h5M940 1038.8h20M965 1038.8h22.5M992.5 1038.8h77.5M1077.5 1038.8h2.5M540 1041.2h10M585 1041.2h10M647.5 1041.2h2.5M700 1041.2h15M727.5 1041.2h5M742.5 1041.2h2.5M747.5 1041.2h5M755 1041.2h2.5M760 1041.2h5M767.5 1041.2h2.5M775 1041.2h5M782.5 1041.2h2.5M792.5 1041.2h2.5M805 1041.2h2.5M815 1041.2h2.5M830 1041.2h2.5M835 1041.2h7.5M862.5 1041.2h5M885 1041.2h5M902.5 1041.2h2.5M917.5 1041.2h5M925 1041.2h2.5M940 1041.2h20M965 1041.2h7.5M977.5 1041.2h12.5M997.5 1041.2h5M1005 1041.2h2.5M1012.5 1041.2h22.5M1040 1041.2h10M1052.5 1041.2h15M1080 1041.2h2.5M580 1043.8h15M610 1043.8h12.5M650 1043.8h5M702.5 1043.8h10M725 1043.8h2.5M737.5 1043.8h12.5M752.5 1043.8h2.5M767.5 1043.8h2.5M775 1043.8h5M782.5 1043.8h2.5M792.5 1043.8h2.5M805 1043.8h2.5M815 1043.8h2.5M840 1043.8h5M850 1043.8h2.5M865 1043.8h7.5M887.5 1043.8h2.5M902.5 1043.8h2.5M917.5 1043.8h10M940 1043.8h32.5M977.5 1043.8h15M1015 1043.8h12.5M1042.5 1043.8h7.5M1055 1043.8h10M580 1046.2h12.5M595 1046.2h2.5M602.5 1046.2h10M640 1046.2h2.5M650 1046.2h2.5M702.5 1046.2h10M720 1046.2h5M732.5 1046.2h22.5M757.5 1046.2h2.5M765 1046.2h5M772.5 1046.2h7.5M782.5 1046.2h5M805 1046.2h2.5M825 1046.2h2.5M842.5 1046.2h2.5M852.5 1046.2h25M880 1046.2h5M887.5 1046.2h2.5M892.5 1046.2h2.5M905 1046.2h5M922.5 1046.2h7.5M937.5 1046.2h57.5M1015 1046.2h10M1042.5 1046.2h2.5M1052.5 1046.2h12.5M582.5 1048.8h2.5M590 1048.8h15M635 1048.8h2.5M647.5 1048.8h2.5M692.5 1048.8h17.5M715 1048.8h5M722.5 1048.8h2.5M730 1048.8h7.5M745 1048.8h7.5M755 1048.8h2.5M765 1048.8h12.5M780 1048.8h5M790 1048.8h2.5M805 1048.8h2.5M817.5 1048.8h2.5M827.5 1048.8h2.5M835 1048.8h2.5M840 1048.8h2.5M860 1048.8h10M872.5 1048.8h5M880 1048.8h5M890 1048.8h7.5M907.5 1048.8h5M937.5 1048.8h25M967.5 1048.8h25M1000 1048.8h2.5M1015 1048.8h10M1045 1048.8h2.5M1052.5 1048.8h15M582.5 1051.2h2.5M592.5 1051.2h7.5M627.5 1051.2h10M687.5 1051.2h30M727.5 1051.2h7.5M745 1051.2h2.5M757.5 1051.2h2.5M762.5 1051.2h15M790 1051.2h2.5M795 1051.2h2.5M805 1051.2h2.5M812.5 1051.2h2.5M817.5 1051.2h2.5M827.5 1051.2h10M840 1051.2h5M865 1051.2h5M872.5 1051.2h2.5M895 1051.2h2.5M910 1051.2h5M932.5 1051.2h32.5M972.5 1051.2h22.5M1000 1051.2h5M1007.5 1051.2h5M1015 1051.2h2.5M1022.5 1051.2h2.5M1045 1051.2h2.5M1052.5 1051.2h22.5M580 1053.8h5M590 1053.8h5M685 1053.8h2.5M702.5 1053.8h12.5M725 1053.8h2.5M730 1053.8h2.5M750 1053.8h7.5M762.5 1053.8h15M790 1053.8h2.5M795 1053.8h2.5M807.5 1053.8h2.5M812.5 1053.8h2.5M827.5 1053.8h5M835 1053.8h5M842.5 1053.8h2.5M867.5 1053.8h2.5M875 1053.8h5M910 1053.8h7.5M930 1053.8h10M942.5 1053.8h7.5M952.5 1053.8h10M977.5 1053.8h37.5M1020 1053.8h2.5M1045 1053.8h2.5M1055 1053.8h22.5M580 1056.2h7.5M627.5 1056.2h2.5M680 1056.2h2.5M702.5 1056.2h10M722.5 1056.2h2.5M727.5 1056.2h2.5M742.5 1056.2h2.5M747.5 1056.2h10M762.5 1056.2h7.5M772.5 1056.2h5M780 1056.2h2.5M790 1056.2h2.5M807.5 1056.2h2.5M820 1056.2h2.5M830 1056.2h2.5M875 1056.2h2.5M905 1056.2h12.5M932.5 1056.2h2.5M942.5 1056.2h2.5M977.5 1056.2h37.5M1022.5 1056.2h2.5M1042.5 1056.2h2.5M1055 1056.2h20M622.5 1058.8h5M660 1058.8h2.5M680 1058.8h2.5M700 1058.8h5M720 1058.8h2.5M740 1058.8h2.5M745 1058.8h12.5M760 1058.8h10M772.5 1058.8h10M807.5 1058.8h2.5M820 1058.8h2.5M830 1058.8h2.5M847.5 1058.8h5M860 1058.8h2.5M877.5 1058.8h2.5M885 1058.8h2.5M905 1058.8h7.5M927.5 1058.8h5M945 1058.8h2.5M977.5 1058.8h12.5M995 1058.8h20M1022.5 1058.8h5M1042.5 1058.8h2.5M1055 1058.8h17.5M1095 1058.8h5M557.5 1061.2h5M660 1061.2h2.5M680 1061.2h5M700 1061.2h5M717.5 1061.2h2.5M737.5 1061.2h2.5M742.5 1061.2h15M760 1061.2h5M772.5 1061.2h10M787.5 1061.2h5M820 1061.2h2.5M825 1061.2h5M850 1061.2h2.5M855 1061.2h10M880 1061.2h2.5M905 1061.2h5M927.5 1061.2h2.5M935 1061.2h5M945 1061.2h5M975 1061.2h15M1002.5 1061.2h12.5M1025 1061.2h7.5M1040 1061.2h7.5M1055 1061.2h17.5M1095 1061.2h5M562.5 1063.8h2.5M660 1063.8h2.5M682.5 1063.8h2.5M700 1063.8h5M732.5 1063.8h5M742.5 1063.8h2.5M747.5 1063.8h7.5M760 1063.8h2.5M772.5 1063.8h12.5M787.5 1063.8h5M820 1063.8h2.5M825 1063.8h5M860 1063.8h5M872.5 1063.8h2.5M882.5 1063.8h2.5M892.5 1063.8h2.5M905 1063.8h5M925 1063.8h5M935 1063.8h10M947.5 1063.8h7.5M975 1063.8h25M1002.5 1063.8h15M1025 1063.8h22.5M1052.5 1063.8h20M662.5 1066.2h7.5M700 1066.2h5M732.5 1066.2h2.5M740 1066.2h2.5M745 1066.2h2.5M750 1066.2h5M760 1066.2h2.5M782.5 1066.2h2.5M787.5 1066.2h5M795 1066.2h2.5M820 1066.2h2.5M825 1066.2h2.5M832.5 1066.2h2.5M852.5 1066.2h2.5M865 1066.2h2.5M872.5 1066.2h5M885 1066.2h2.5M895 1066.2h12.5M922.5 1066.2h7.5M935 1066.2h15M952.5 1066.2h5M972.5 1066.2h15M992.5 1066.2h2.5M997.5 1066.2h20M1032.5 1066.2h42.5M665 1068.8h2.5M700 1068.8h5M707.5 1068.8h2.5M737.5 1068.8h2.5M742.5 1068.8h2.5M750 1068.8h2.5M757.5 1068.8h2.5M782.5 1068.8h2.5M787.5 1068.8h10M820 1068.8h2.5M825 1068.8h5M835 1068.8h2.5M855 1068.8h2.5M867.5 1068.8h2.5M875 1068.8h2.5M885 1068.8h2.5M900 1068.8h5M922.5 1068.8h7.5M935 1068.8h20M957.5 1068.8h2.5M970 1068.8h12.5M992.5 1068.8h25M1032.5 1068.8h45M662.5 1071.2h7.5M682.5 1071.2h7.5M700 1071.2h7.5M712.5 1071.2h2.5M727.5 1071.2h2.5M740 1071.2h2.5M775 1071.2h2.5M790 1071.2h2.5M822.5 1071.2h7.5M850 1071.2h2.5M857.5 1071.2h2.5M870 1071.2h2.5M877.5 1071.2h5M887.5 1071.2h5M920 1071.2h10M932.5 1071.2h2.5M937.5 1071.2h20M972.5 1071.2h10M992.5 1071.2h25M1032.5 1071.2h5M1047.5 1071.2h32.5M620 1073.8h5M662.5 1073.8h5M680 1073.8h10M700 1073.8h5M710 1073.8h7.5M725 1073.8h5M740 1073.8h2.5M750 1073.8h2.5M775 1073.8h2.5M822.5 1073.8h2.5M827.5 1073.8h5M852.5 1073.8h2.5M857.5 1073.8h2.5M872.5 1073.8h2.5M877.5 1073.8h2.5M890 1073.8h5M917.5 1073.8h17.5M942.5 1073.8h15M970 1073.8h10M992.5 1073.8h25M1032.5 1073.8h2.5M1052.5 1073.8h25M660 1076.2h5M680 1076.2h2.5M685 1076.2h2.5M692.5 1076.2h2.5M697.5 1076.2h5M712.5 1076.2h7.5M722.5 1076.2h5M732.5 1076.2h2.5M747.5 1076.2h7.5M775 1076.2h2.5M785 1076.2h2.5M792.5 1076.2h2.5M822.5 1076.2h2.5M827.5 1076.2h7.5M840 1076.2h2.5M855 1076.2h7.5M877.5 1076.2h7.5M890 1076.2h12.5M925 1076.2h5M937.5 1076.2h2.5M945 1076.2h10M977.5 1076.2h5M995 1076.2h22.5M1030 1076.2h5M1055 1076.2h12.5M657.5 1078.8h5M715 1078.8h10M730 1078.8h5M745 1078.8h10M762.5 1078.8h2.5M775 1078.8h2.5M785 1078.8h2.5M815 1078.8h2.5M825 1078.8h10M850 1078.8h2.5M855 1078.8h7.5M885 1078.8h2.5M890 1078.8h15M912.5 1078.8h2.5M927.5 1078.8h5M940 1078.8h5M952.5 1078.8h5M965 1078.8h7.5M977.5 1078.8h7.5M997.5 1078.8h22.5M1027.5 1078.8h5M1055 1078.8h5M652.5 1081.2h2.5M715 1081.2h10M730 1081.2h10M745 1081.2h7.5M762.5 1081.2h2.5M775 1081.2h2.5M815 1081.2h5M825 1081.2h2.5M832.5 1081.2h5M842.5 1081.2h2.5M847.5 1081.2h7.5M857.5 1081.2h5M865 1081.2h5M887.5 1081.2h22.5M930 1081.2h5M940 1081.2h7.5M955 1081.2h25M997.5 1081.2h5M1007.5 1081.2h15M1027.5 1081.2h5M1055 1081.2h5M522.5 1083.8h2.5M715 1083.8h7.5M727.5 1083.8h15M762.5 1083.8h2.5M775 1083.8h2.5M815 1083.8h5M825 1083.8h2.5M830 1083.8h7.5M845 1083.8h10M867.5 1083.8h7.5M892.5 1083.8h12.5M910 1083.8h2.5M935 1083.8h17.5M960 1083.8h22.5M997.5 1083.8h5M1012.5 1083.8h22.5M1095 1083.8h2.5M522.5 1086.2h7.5M570 1086.2h2.5M642.5 1086.2h2.5M715 1086.2h5M722.5 1086.2h2.5M727.5 1086.2h12.5M770 1086.2h2.5M775 1086.2h2.5M800 1086.2h2.5M817.5 1086.2h2.5M825 1086.2h5M835 1086.2h5M845 1086.2h2.5M850 1086.2h7.5M860 1086.2h2.5M870 1086.2h7.5M895 1086.2h10M912.5 1086.2h2.5M940 1086.2h10M952.5 1086.2h5M960 1086.2h25M995 1086.2h7.5M1015 1086.2h20M522.5 1088.8h5M530 1088.8h5M567.5 1088.8h2.5M657.5 1088.8h10M715 1088.8h2.5M720 1088.8h5M727.5 1088.8h7.5M770 1088.8h7.5M800 1088.8h2.5M815 1088.8h5M825 1088.8h2.5M835 1088.8h5M847.5 1088.8h2.5M855 1088.8h5M872.5 1088.8h5M897.5 1088.8h7.5M942.5 1088.8h17.5M965 1088.8h20M997.5 1088.8h12.5M1020 1088.8h15M535 1091.2h15M560 1091.2h7.5M632.5 1091.2h2.5M655 1091.2h12.5M692.5 1091.2h2.5M727.5 1091.2h5M745 1091.2h5M767.5 1091.2h2.5M772.5 1091.2h2.5M800 1091.2h5M817.5 1091.2h10M832.5 1091.2h2.5M837.5 1091.2h5M860 1091.2h2.5M872.5 1091.2h7.5M895 1091.2h10M945 1091.2h15M962.5 1091.2h5M970 1091.2h2.5M980 1091.2h5M997.5 1091.2h17.5M1020 1091.2h22.5M532.5 1093.8h15M550 1093.8h15M605 1093.8h5M627.5 1093.8h2.5M650 1093.8h17.5M727.5 1093.8h2.5M745 1093.8h2.5M767.5 1093.8h2.5M800 1093.8h5M807.5 1093.8h5M820 1093.8h7.5M837.5 1093.8h5M862.5 1093.8h5M877.5 1093.8h2.5M892.5 1093.8h12.5M930 1093.8h5M950 1093.8h5M962.5 1093.8h7.5M982.5 1093.8h2.5M992.5 1093.8h27.5M1025 1093.8h7.5M1035 1093.8h12.5M530 1096.2h10M552.5 1096.2h10M602.5 1096.2h7.5M625 1096.2h2.5M650 1096.2h20M690 1096.2h2.5M727.5 1096.2h2.5M740 1096.2h7.5M792.5 1096.2h2.5M800 1096.2h2.5M807.5 1096.2h7.5M822.5 1096.2h2.5M837.5 1096.2h5M867.5 1096.2h2.5M892.5 1096.2h5M905 1096.2h2.5M917.5 1096.2h2.5M927.5 1096.2h10M967.5 1096.2h5M982.5 1096.2h2.5M990 1096.2h20M1012.5 1096.2h12.5M1040 1096.2h15M1057.5 1096.2h2.5M530 1098.8h7.5M560 1098.8h5M592.5 1098.8h2.5M597.5 1098.8h7.5M615 1098.8h2.5M655 1098.8h12.5M725 1098.8h2.5M737.5 1098.8h7.5M755 1098.8h5M790 1098.8h25M822.5 1098.8h2.5M840 1098.8h2.5M867.5 1098.8h2.5M895 1098.8h2.5M907.5 1098.8h2.5M915 1098.8h7.5M930 1098.8h7.5M970 1098.8h7.5M990 1098.8h20M1012.5 1098.8h12.5M1027.5 1098.8h2.5M1040 1098.8h27.5M527.5 1101.2h2.5M560 1101.2h5M612.5 1101.2h5M637.5 1101.2h2.5M657.5 1101.2h7.5M687.5 1101.2h5M722.5 1101.2h5M737.5 1101.2h5M755 1101.2h10M790 1101.2h25M837.5 1101.2h2.5M870 1101.2h2.5M895 1101.2h2.5M915 1101.2h10M930 1101.2h2.5M937.5 1101.2h2.5M972.5 1101.2h10M992.5 1101.2h27.5M1025 1101.2h5M1037.5 1101.2h2.5M1047.5 1101.2h17.5M555 1103.8h7.5M582.5 1103.8h5M637.5 1103.8h2.5M660 1103.8h5M720 1103.8h5M735 1103.8h5M752.5 1103.8h2.5M760 1103.8h5M790 1103.8h25M825 1103.8h2.5M840 1103.8h2.5M852.5 1103.8h2.5M870 1103.8h5M892.5 1103.8h2.5M920 1103.8h5M970 1103.8h10M997.5 1103.8h27.5M1027.5 1103.8h7.5M1037.5 1103.8h2.5M1050 1103.8h20M555 1106.2h5M582.5 1106.2h2.5M637.5 1106.2h7.5M660 1106.2h2.5M692.5 1106.2h2.5M715 1106.2h10M735 1106.2h5M742.5 1106.2h2.5M760 1106.2h5M772.5 1106.2h2.5M790 1106.2h25M825 1106.2h2.5M840 1106.2h2.5M852.5 1106.2h7.5M870 1106.2h5M892.5 1106.2h2.5M920 1106.2h5M955 1106.2h2.5M970 1106.2h5M1007.5 1106.2h15M1030 1106.2h10M1042.5 1106.2h2.5M1052.5 1106.2h7.5M1067.5 1106.2h2.5M585 1108.8h2.5M600 1108.8h2.5M637.5 1108.8h10M692.5 1108.8h2.5M707.5 1108.8h17.5M735 1108.8h15M762.5 1108.8h5M772.5 1108.8h2.5M785 1108.8h15M802.5 1108.8h2.5M810 1108.8h5M825 1108.8h2.5M852.5 1108.8h12.5M872.5 1108.8h5M892.5 1108.8h5M915 1108.8h2.5M920 1108.8h7.5M957.5 1108.8h2.5M970 1108.8h2.5M1002.5 1108.8h2.5M1010 1108.8h10M1032.5 1108.8h12.5M1057.5 1108.8h7.5M640 1111.2h10M690 1111.2h2.5M705 1111.2h5M712.5 1111.2h10M735 1111.2h12.5M762.5 1111.2h5M775 1111.2h2.5M785 1111.2h15M812.5 1111.2h7.5M827.5 1111.2h2.5M842.5 1111.2h2.5M852.5 1111.2h7.5M865 1111.2h12.5M882.5 1111.2h2.5M895 1111.2h5M917.5 1111.2h5M925 1111.2h2.5M957.5 1111.2h5M970 1111.2h5M1017.5 1111.2h2.5M1032.5 1111.2h17.5M637.5 1113.8h10M690 1113.8h7.5M702.5 1113.8h10M715 1113.8h7.5M735 1113.8h10M762.5 1113.8h2.5M775 1113.8h5M782.5 1113.8h10M795 1113.8h5M815 1113.8h7.5M827.5 1113.8h2.5M842.5 1113.8h2.5M852.5 1113.8h7.5M867.5 1113.8h17.5M897.5 1113.8h5M957.5 1113.8h5M972.5 1113.8h5M1015 1113.8h2.5M1032.5 1113.8h12.5M1080 1113.8h10M637.5 1116.2h15M687.5 1116.2h7.5M700 1116.2h22.5M735 1116.2h5M760 1116.2h5M775 1116.2h5M782.5 1116.2h2.5M787.5 1116.2h5M817.5 1116.2h5M827.5 1116.2h2.5M837.5 1116.2h2.5M855 1116.2h5M872.5 1116.2h15M900 1116.2h2.5M957.5 1116.2h5M980 1116.2h5M1017.5 1116.2h2.5M1030 1116.2h15M1080 1116.2h7.5M632.5 1118.8h12.5M685 1118.8h7.5M700 1118.8h15M720 1118.8h2.5M735 1118.8h5M755 1118.8h10M777.5 1118.8h7.5M787.5 1118.8h2.5M817.5 1118.8h7.5M827.5 1118.8h2.5M837.5 1118.8h2.5M855 1118.8h5M870 1118.8h17.5M905 1118.8h5M957.5 1118.8h7.5M985 1118.8h7.5M1017.5 1118.8h2.5M1027.5 1118.8h12.5M555 1121.2h5M625 1121.2h15M685 1121.2h7.5M697.5 1121.2h15M717.5 1121.2h2.5M722.5 1121.2h2.5M735 1121.2h5M752.5 1121.2h2.5M757.5 1121.2h5M777.5 1121.2h5M787.5 1121.2h2.5M817.5 1121.2h5M857.5 1121.2h2.5M865 1121.2h22.5M905 1121.2h7.5M960 1121.2h5M987.5 1121.2h5M1020 1121.2h15M555 1123.8h2.5M622.5 1123.8h17.5M682.5 1123.8h10M697.5 1123.8h12.5M717.5 1123.8h2.5M722.5 1123.8h7.5M732.5 1123.8h7.5M750 1123.8h5M760 1123.8h2.5M777.5 1123.8h5M787.5 1123.8h2.5M820 1123.8h2.5M847.5 1123.8h2.5M860 1123.8h27.5M907.5 1123.8h5M965 1123.8h2.5M1027.5 1123.8h2.5M552.5 1126.2h5M622.5 1126.2h15M682.5 1126.2h7.5M692.5 1126.2h5M700 1126.2h10M720 1126.2h20M760 1126.2h2.5M777.5 1126.2h5M787.5 1126.2h2.5M820 1126.2h5M830 1126.2h2.5M840 1126.2h2.5M847.5 1126.2h10M860 1126.2h30M907.5 1126.2h7.5M955 1126.2h7.5M622.5 1128.8h15M680 1128.8h5M705 1128.8h7.5M720 1128.8h22.5M745 1128.8h7.5M755 1128.8h7.5M777.5 1128.8h5M787.5 1128.8h2.5M820 1128.8h2.5M832.5 1128.8h2.5M840 1128.8h2.5M847.5 1128.8h10M860 1128.8h27.5M890 1128.8h2.5M910 1128.8h5M957.5 1128.8h7.5M625 1131.2h10M680 1131.2h5M705 1131.2h10M717.5 1131.2h15M742.5 1131.2h17.5M777.5 1131.2h5M787.5 1131.2h2.5M822.5 1131.2h2.5M832.5 1131.2h2.5M837.5 1131.2h7.5M855 1131.2h5M862.5 1131.2h25M890 1131.2h2.5M912.5 1131.2h5M942.5 1131.2h2.5M962.5 1131.2h2.5M995 1131.2h2.5M702.5 1133.8h10M717.5 1133.8h12.5M742.5 1133.8h17.5M772.5 1133.8h10M785 1133.8h5M807.5 1133.8h5M822.5 1133.8h2.5M835 1133.8h2.5M840 1133.8h5M857.5 1133.8h2.5M862.5 1133.8h7.5M875 1133.8h20M937.5 1133.8h10M995 1133.8h7.5M700 1136.2h12.5M715 1136.2h15M745 1136.2h12.5M765 1136.2h25M802.5 1136.2h10M820 1136.2h17.5M840 1136.2h5M860 1136.2h10M882.5 1136.2h10M917.5 1136.2h2.5M942.5 1136.2h5M700 1138.8h10M712.5 1138.8h15M742.5 1138.8h15M765 1138.8h22.5M802.5 1138.8h27.5M835 1138.8h2.5M840 1138.8h7.5M860 1138.8h2.5M865 1138.8h7.5M887.5 1138.8h2.5M932.5 1138.8h5M945 1138.8h5M977.5 1138.8h2.5M647.5 1141.2h2.5M690 1141.2h20M712.5 1141.2h12.5M742.5 1141.2h17.5M767.5 1141.2h17.5M792.5 1141.2h7.5M802.5 1141.2h45M860 1141.2h15M887.5 1141.2h5M922.5 1141.2h2.5M932.5 1141.2h5M947.5 1141.2h5M977.5 1141.2h2.5M645 1143.8h5M687.5 1143.8h20M710 1143.8h10M740 1143.8h25M770 1143.8h15M790 1143.8h10M802.5 1143.8h45M860 1143.8h5M867.5 1143.8h7.5M887.5 1143.8h5M925 1143.8h15M950 1143.8h5M1017.5 1143.8h2.5M645 1146.2h7.5M687.5 1146.2h10M710 1146.2h2.5M732.5 1146.2h2.5M737.5 1146.2h27.5M770 1146.2h12.5M790 1146.2h10M802.5 1146.2h10M815 1146.2h35M860 1146.2h10M885 1146.2h10M927.5 1146.2h12.5M950 1146.2h5M1015 1146.2h5M590 1148.8h2.5M645 1148.8h12.5M685 1148.8h10M730 1148.8h2.5M737.5 1148.8h15M757.5 1148.8h7.5M767.5 1148.8h12.5M790 1148.8h22.5M815 1148.8h35M857.5 1148.8h10M875 1148.8h5M885 1148.8h12.5M930 1148.8h10M950 1148.8h2.5M585 1151.2h2.5M645 1151.2h15M662.5 1151.2h5M685 1151.2h10M717.5 1151.2h2.5M727.5 1151.2h5M735 1151.2h5M750 1151.2h7.5M767.5 1151.2h12.5M790 1151.2h10M802.5 1151.2h2.5M815 1151.2h5M822.5 1151.2h25M857.5 1151.2h5M875 1151.2h22.5M930 1151.2h10M947.5 1151.2h2.5M1020 1151.2h2.5M582.5 1153.8h5M647.5 1153.8h5M665 1153.8h2.5M680 1153.8h7.5M690 1153.8h5M727.5 1153.8h5M735 1153.8h5M750 1153.8h5M765 1153.8h15M792.5 1153.8h7.5M815 1153.8h5M822.5 1153.8h25M850 1153.8h2.5M857.5 1153.8h5M872.5 1153.8h27.5M947.5 1153.8h5M965 1153.8h2.5M575 1156.2h2.5M582.5 1156.2h2.5M677.5 1156.2h5M687.5 1156.2h12.5M715 1156.2h2.5M727.5 1156.2h2.5M740 1156.2h2.5M750 1156.2h2.5M760 1156.2h15M777.5 1156.2h5M792.5 1156.2h5M815 1156.2h5M822.5 1156.2h30M860 1156.2h5M867.5 1156.2h2.5M872.5 1156.2h5M880 1156.2h15M900 1156.2h2.5M947.5 1156.2h2.5M962.5 1156.2h5M567.5 1158.8h10M602.5 1158.8h2.5M607.5 1158.8h5M675 1158.8h2.5M690 1158.8h10M702.5 1158.8h5M715 1158.8h2.5M727.5 1158.8h2.5M732.5 1158.8h2.5M740 1158.8h2.5M757.5 1158.8h17.5M777.5 1158.8h5M792.5 1158.8h2.5M815 1158.8h5M822.5 1158.8h20M850 1158.8h2.5M860 1158.8h12.5M875 1158.8h20M900 1158.8h2.5M570 1161.2h5M600 1161.2h12.5M640 1161.2h5M672.5 1161.2h2.5M680 1161.2h2.5M695 1161.2h2.5M702.5 1161.2h2.5M707.5 1161.2h10M737.5 1161.2h2.5M755 1161.2h7.5M765 1161.2h10M777.5 1161.2h7.5M792.5 1161.2h2.5M815 1161.2h5M825 1161.2h15M852.5 1161.2h2.5M865 1161.2h7.5M875 1161.2h22.5M902.5 1161.2h2.5M922.5 1161.2h2.5M597.5 1163.8h12.5M637.5 1163.8h7.5M680 1163.8h5M702.5 1163.8h12.5M735 1163.8h5M747.5 1163.8h15M767.5 1163.8h5M777.5 1163.8h7.5M792.5 1163.8h2.5M817.5 1163.8h20M865 1163.8h10M877.5 1163.8h20M597.5 1166.2h7.5M637.5 1166.2h5M680 1166.2h7.5M702.5 1166.2h12.5M732.5 1166.2h7.5M745 1166.2h20M767.5 1166.2h5M777.5 1166.2h5M792.5 1166.2h2.5M822.5 1166.2h15M862.5 1166.2h12.5M880 1166.2h20M902.5 1166.2h2.5M640 1168.8h5M677.5 1168.8h10M702.5 1168.8h12.5M730 1168.8h10M745 1168.8h10M760 1168.8h12.5M775 1168.8h7.5M792.5 1168.8h5M800 1168.8h2.5M812.5 1168.8h5M827.5 1168.8h10M865 1168.8h12.5M890 1168.8h15M645 1171.2h5M680 1171.2h5M700 1171.2h15M727.5 1171.2h12.5M742.5 1171.2h15M760 1171.2h12.5M775 1171.2h5M792.5 1171.2h10M805 1171.2h15M830 1171.2h5M865 1171.2h10M897.5 1171.2h7.5M645 1173.8h2.5M680 1173.8h5M700 1173.8h17.5M727.5 1173.8h10M740 1173.8h7.5M750 1173.8h7.5M762.5 1173.8h7.5M775 1173.8h5M790 1173.8h30M832.5 1173.8h2.5M852.5 1173.8h2.5M700 1176.2h17.5M720 1176.2h5M727.5 1176.2h20M750 1176.2h20M775 1176.2h5M792.5 1176.2h27.5M855 1176.2h2.5M697.5 1178.8h25M725 1178.8h20M755 1178.8h15M777.5 1178.8h2.5M792.5 1178.8h15M852.5 1178.8h5M697.5 1181.2h22.5M725 1181.2h20M755 1181.2h7.5M797.5 1181.2h5M855 1181.2h2.5M885 1181.2h2.5M602.5 1183.8h2.5M695 1183.8h12.5M717.5 1183.8h2.5M725 1183.8h17.5M757.5 1183.8h5M797.5 1183.8h5M855 1183.8h2.5M860 1183.8h2.5M880 1183.8h10M600 1186.2h7.5M705 1186.2h2.5M727.5 1186.2h15M855 1186.2h7.5M880 1186.2h10M597.5 1188.8h10M635 1188.8h5M725 1188.8h17.5M855 1188.8h10M880 1188.8h10M910 1188.8h2.5M600 1191.2h7.5M630 1191.2h10M725 1191.2h5M737.5 1191.2h2.5M755 1191.2h5M777.5 1191.2h2.5M797.5 1191.2h2.5M855 1191.2h7.5M880 1191.2h7.5M912.5 1191.2h2.5M605 1193.8h10M627.5 1193.8h12.5M722.5 1193.8h5M752.5 1193.8h5M775 1193.8h7.5M797.5 1193.8h2.5M852.5 1193.8h10M880 1193.8h7.5M912.5 1193.8h2.5M607.5 1196.2h10M625 1196.2h5M637.5 1196.2h2.5M685 1196.2h2.5M722.5 1196.2h5M775 1196.2h7.5M855 1196.2h7.5M880 1196.2h10M912.5 1196.2h5M607.5 1198.8h7.5M625 1198.8h5M637.5 1198.8h2.5M662.5 1198.8h5M682.5 1198.8h7.5M710 1198.8h2.5M720 1198.8h7.5M777.5 1198.8h7.5M852.5 1198.8h10M877.5 1198.8h7.5M912.5 1198.8h5M610 1201.2h2.5M625 1201.2h7.5M635 1201.2h2.5M660 1201.2h7.5M687.5 1201.2h5M710 1201.2h2.5M720 1201.2h5M777.5 1201.2h5M805 1201.2h7.5M815 1201.2h2.5M820 1201.2h2.5M852.5 1201.2h10M877.5 1201.2h7.5M912.5 1201.2h5M657.5 1203.8h10M687.5 1203.8h5M710 1203.8h2.5M780 1203.8h2.5M797.5 1203.8h2.5M807.5 1203.8h5M822.5 1203.8h2.5M847.5 1203.8h15M877.5 1203.8h7.5M912.5 1203.8h7.5M655 1206.2h5M710 1206.2h2.5M762.5 1206.2h2.5M807.5 1206.2h5M822.5 1206.2h2.5M847.5 1206.2h15M877.5 1206.2h7.5M915 1206.2h2.5M652.5 1208.8h5M665 1208.8h2.5M705 1208.8h5M755 1208.8h2.5M760 1208.8h2.5M807.5 1208.8h7.5M845 1208.8h12.5M877.5 1208.8h7.5M650 1211.2h5M705 1211.2h5M747.5 1211.2h7.5M807.5 1211.2h7.5M822.5 1211.2h2.5M845 1211.2h12.5M880 1211.2h5M650 1213.8h2.5M702.5 1213.8h5M750 1213.8h2.5M812.5 1213.8h5M847.5 1213.8h10M647.5 1216.2h2.5M700 1216.2h7.5M712.5 1216.2h5M770 1216.2h2.5M817.5 1216.2h2.5M855 1216.2h2.5M692.5 1218.8h12.5M712.5 1218.8h5M747.5 1218.8h5M857.5 1218.8h2.5M692.5 1221.2h7.5M710 1221.2h10M745 1221.2h7.5M860 1221.2h5M692.5 1223.8h10M710 1223.8h10M745 1223.8h7.5M767.5 1223.8h5M860 1223.8h5M645 1226.2h2.5M695 1226.2h7.5M707.5 1226.2h12.5M745 1226.2h7.5M860 1226.2h5M642.5 1228.8h2.5M697.5 1228.8h5M712.5 1228.8h5M745 1228.8h7.5M862.5 1228.8h2.5M642.5 1231.2h5M697.5 1231.2h5M742.5 1231.2h10M860 1231.2h5M642.5 1233.8h5M700 1233.8h2.5M745 1233.8h5M862.5 1233.8h2.5M642.5 1236.2h10M745 1236.2h5M642.5 1238.8h10M745 1238.8h2.5M645 1241.2h5M825 1243.8h2.5M745 1246.2h2.5M787.5 1246.2h5M820 1246.2h7.5M745 1248.8h2.5M822.5 1248.8h5M705 1251.2h2.5M742.5 1251.2h5M820 1251.2h7.5M740 1253.8h2.5M822.5 1253.8h5M737.5 1256.2h5M727.5 1258.8h2.5M735 1258.8h2.5M727.5 1261.2h7.5M727.5 1263.8h5" stroke="#3b6aa1" stroke-width="2.65" fill="none"/><path d="M745 673.8h5M740 676.2h12.5M737.5 678.8h15M682.5 681.2h5M730 681.2h25M685 683.8h7.5M727.5 683.8h27.5M685 686.2h7.5M730 686.2h25M685 688.8h10M730 688.8h25M682.5 691.2h12.5M732.5 691.2h22.5M685 693.8h10M740 693.8h15M682.5 696.2h12.5M742.5 696.2h12.5M767.5 696.2h5M680 698.8h15M747.5 698.8h7.5M767.5 698.8h7.5M600 701.2h20M672.5 701.2h22.5M750 701.2h5M770 701.2h5M597.5 703.8h22.5M675 703.8h27.5M592.5 706.2h27.5M667.5 706.2h5M675 706.2h5M685 706.2h2.5M690 706.2h12.5M592.5 708.8h27.5M662.5 708.8h10M690 708.8h15M592.5 711.2h25M667.5 711.2h2.5M695 711.2h10M597.5 713.8h20M697.5 713.8h5M600 716.2h17.5M600 718.8h20M602.5 721.2h15M602.5 723.8h12.5M690 723.8h5M605 726.2h10M650 726.2h5M690 726.2h7.5M605 728.8h7.5M637.5 728.8h22.5M690 728.8h10M750 728.8h5M637.5 731.2h20M690 731.2h10M747.5 731.2h10M605 733.8h2.5M637.5 733.8h20M747.5 733.8h10M607.5 736.2h5M637.5 736.2h20M747.5 736.2h10M602.5 738.8h10M635 738.8h17.5M747.5 738.8h7.5M600 741.2h12.5M635 741.2h15M747.5 741.2h5M597.5 743.8h15M630 743.8h15M747.5 743.8h5M595 746.2h17.5M632.5 746.2h10M747.5 746.2h5M595 748.8h15M632.5 748.8h12.5M742.5 748.8h2.5M747.5 748.8h5M592.5 751.2h17.5M632.5 751.2h10M740 751.2h5M750 751.2h2.5M595 753.8h15M632.5 753.8h10M740 753.8h2.5M750 753.8h2.5M600 756.2h5M637.5 756.2h2.5M740 756.2h2.5M750 756.2h5M602.5 758.8h2.5M655 758.8h15M747.5 758.8h7.5M835 758.8h2.5M655 761.2h12.5M747.5 761.2h7.5M655 763.8h12.5M727.5 763.8h5M745 763.8h10M847.5 763.8h2.5M587.5 766.2h2.5M655 766.2h5M727.5 766.2h10M740 766.2h10M755 766.2h5M847.5 766.2h5M857.5 766.2h2.5M590 768.8h10M755 768.8h10M845 768.8h7.5M855 768.8h2.5M590 771.2h12.5M755 771.2h12.5M845 771.2h7.5M590 773.8h15M757.5 773.8h2.5M765 773.8h2.5M837.5 773.8h12.5M592.5 776.2h10M757.5 776.2h2.5M765 776.2h5M837.5 776.2h10M1027.5 776.2h2.5M1032.5 776.2h2.5M592.5 778.8h7.5M755 778.8h5M765 778.8h5M840 778.8h5M1025 778.8h10M595 781.2h2.5M642.5 781.2h2.5M710 781.2h2.5M757.5 781.2h5M765 781.2h5M1022.5 781.2h12.5M642.5 783.8h2.5M760 783.8h7.5M1020 783.8h15M752.5 786.2h2.5M760 786.2h5M832.5 786.2h2.5M1022.5 786.2h10M750 788.8h5M757.5 788.8h5M830 788.8h5M1025 788.8h5M747.5 791.2h15M830 791.2h5M702.5 793.8h2.5M745 793.8h7.5M757.5 793.8h2.5M830 793.8h5M702.5 796.2h2.5M745 796.2h5M757.5 796.2h2.5M772.5 796.2h2.5M807.5 796.2h5M830 796.2h5M727.5 798.8h5M745 798.8h5M757.5 798.8h2.5M772.5 798.8h5M807.5 798.8h5M727.5 801.2h7.5M747.5 801.2h2.5M757.5 801.2h2.5M772.5 801.2h2.5M810 801.2h2.5M850 801.2h5M617.5 803.8h2.5M642.5 803.8h2.5M730 803.8h5M750 803.8h5M772.5 803.8h5M802.5 803.8h2.5M810 803.8h2.5M850 803.8h2.5M635 806.2h5M732.5 806.2h2.5M750 806.2h5M775 806.2h2.5M802.5 806.2h2.5M807.5 806.2h2.5M847.5 806.2h5M632.5 808.8h5M752.5 808.8h5M760 808.8h2.5M805 808.8h5M845 808.8h7.5M635 811.2h2.5M757.5 811.2h2.5M762.5 811.2h2.5M767.5 811.2h2.5M835 811.2h2.5M842.5 811.2h2.5M850 811.2h2.5M637.5 813.8h2.5M645 813.8h10M757.5 813.8h2.5M765 813.8h2.5M770 813.8h2.5M832.5 813.8h7.5M850 813.8h2.5M890 813.8h5M640 816.2h7.5M757.5 816.2h2.5M770 816.2h2.5M820 816.2h5M830 816.2h2.5M887.5 816.2h7.5M1050 816.2h2.5M710 818.8h5M770 818.8h2.5M822.5 818.8h2.5M830 818.8h2.5M850 818.8h2.5M892.5 818.8h2.5M972.5 818.8h5M1047.5 818.8h12.5M712.5 821.2h2.5M760 821.2h2.5M772.5 821.2h2.5M830 821.2h2.5M880 821.2h5M892.5 821.2h2.5M972.5 821.2h5M1047.5 821.2h17.5M712.5 823.8h2.5M772.5 823.8h2.5M830 823.8h2.5M847.5 823.8h5M880 823.8h2.5M892.5 823.8h2.5M1045 823.8h20M595 826.2h2.5M715 826.2h2.5M765 826.2h2.5M775 826.2h7.5M877.5 826.2h5M892.5 826.2h2.5M1047.5 826.2h15M597.5 828.8h2.5M712.5 828.8h5M765 828.8h5M780 828.8h2.5M832.5 828.8h2.5M877.5 828.8h5M1047.5 828.8h15M600 831.2h2.5M642.5 831.2h2.5M712.5 831.2h7.5M767.5 831.2h2.5M780 831.2h2.5M835 831.2h7.5M875 831.2h7.5M887.5 831.2h5M1050 831.2h12.5M602.5 833.8h2.5M645 833.8h5M660 833.8h2.5M710 833.8h10M840 833.8h2.5M875 833.8h15M972.5 833.8h12.5M1052.5 833.8h10M600 836.2h2.5M645 836.2h20M710 836.2h10M770 836.2h2.5M782.5 836.2h2.5M795 836.2h2.5M867.5 836.2h2.5M872.5 836.2h15M970 836.2h7.5M980 836.2h7.5M1052.5 836.2h2.5M600 838.8h5M647.5 838.8h15M707.5 838.8h5M715 838.8h5M735 838.8h2.5M757.5 838.8h2.5M770 838.8h2.5M780 838.8h5M795 838.8h2.5M840 838.8h2.5M867.5 838.8h2.5M875 838.8h12.5M982.5 838.8h5M650 841.2h15M705 841.2h10M735 841.2h2.5M757.5 841.2h2.5M770 841.2h2.5M780 841.2h5M795 841.2h2.5M840 841.2h2.5M847.5 841.2h2.5M855 841.2h2.5M867.5 841.2h2.5M920 841.2h2.5M980 841.2h5M650 843.8h12.5M697.5 843.8h2.5M702.5 843.8h10M737.5 843.8h2.5M760 843.8h2.5M772.5 843.8h2.5M782.5 843.8h2.5M795 843.8h2.5M837.5 843.8h5M845 843.8h2.5M855 843.8h2.5M977.5 843.8h2.5M655 846.2h7.5M697.5 846.2h15M737.5 846.2h5M760 846.2h2.5M767.5 846.2h2.5M772.5 846.2h2.5M785 846.2h2.5M795 846.2h2.5M835 846.2h10M920 846.2h2.5M967.5 846.2h2.5M975 846.2h2.5M660 848.8h2.5M697.5 848.8h2.5M705 848.8h7.5M737.5 848.8h5M760 848.8h5M770 848.8h2.5M785 848.8h2.5M835 848.8h5M855 848.8h2.5M885 848.8h2.5M970 848.8h5M1000 848.8h5M707.5 851.2h5M737.5 851.2h5M760 851.2h5M767.5 851.2h7.5M785 851.2h2.5M822.5 851.2h2.5M832.5 851.2h5M857.5 851.2h2.5M885 851.2h5M1000 851.2h2.5M710 853.8h2.5M740 853.8h5M762.5 853.8h2.5M772.5 853.8h2.5M785 853.8h2.5M830 853.8h7.5M862.5 853.8h2.5M882.5 853.8h7.5M1000 853.8h5M1035 853.8h2.5M740 856.2h5M772.5 856.2h5M785 856.2h2.5M817.5 856.2h2.5M832.5 856.2h2.5M860 856.2h2.5M880 856.2h7.5M997.5 856.2h10M1030 856.2h27.5M740 858.8h2.5M772.5 858.8h5M805 858.8h2.5M817.5 858.8h2.5M822.5 858.8h2.5M857.5 858.8h2.5M880 858.8h5M997.5 858.8h7.5M1030 858.8h27.5M772.5 861.2h2.5M820 861.2h2.5M997.5 861.2h10M1025 861.2h32.5M810 863.8h2.5M820 863.8h2.5M1000 863.8h7.5M1020 863.8h37.5M775 866.2h2.5M802.5 866.2h2.5M810 866.2h2.5M820 866.2h2.5M865 866.2h5M1017.5 866.2h40M807.5 868.8h5M865 868.8h2.5M890 868.8h5M1017.5 868.8h5M1025 868.8h27.5M800 871.2h2.5M807.5 871.2h5M887.5 871.2h7.5M1015 871.2h10M1027.5 871.2h15M810 873.8h5M882.5 873.8h5M1020 873.8h5M1027.5 873.8h10M792.5 876.2h2.5M810 876.2h5M882.5 876.2h2.5M1017.5 876.2h15M725 878.8h5M792.5 878.8h2.5M797.5 878.8h2.5M802.5 878.8h2.5M810 878.8h2.5M880 878.8h2.5M1007.5 878.8h2.5M700 881.2h2.5M725 881.2h5M792.5 881.2h7.5M802.5 881.2h2.5M810 881.2h2.5M880 881.2h2.5M1002.5 881.2h12.5M702.5 883.8h2.5M717.5 883.8h2.5M755 883.8h2.5M795 883.8h2.5M880 883.8h2.5M1000 883.8h2.5M1010 883.8h2.5M702.5 886.2h5M720 886.2h2.5M792.5 886.2h5M877.5 886.2h2.5M1010 886.2h2.5M705 888.8h2.5M772.5 888.8h5M792.5 888.8h2.5M800 888.8h2.5M877.5 888.8h2.5M972.5 888.8h2.5M707.5 891.2h2.5M765 891.2h5M772.5 891.2h2.5M792.5 891.2h2.5M797.5 891.2h5M972.5 891.2h2.5M1000 891.2h2.5M1005 891.2h5M685 893.8h2.5M707.5 893.8h2.5M767.5 893.8h2.5M792.5 893.8h2.5M797.5 893.8h2.5M872.5 893.8h2.5M972.5 893.8h5M1000 893.8h10M687.5 896.2h5M792.5 896.2h2.5M797.5 896.2h2.5M870 896.2h2.5M975 896.2h2.5M690 898.8h5M720 898.8h2.5M765 898.8h2.5M792.5 898.8h2.5M797.5 898.8h2.5M865 898.8h5M722.5 901.2h2.5M770 901.2h2.5M775 901.2h2.5M780 901.2h2.5M790 901.2h5M797.5 901.2h2.5M862.5 901.2h2.5M725 903.8h2.5M747.5 903.8h2.5M767.5 903.8h5M775 903.8h2.5M792.5 903.8h2.5M797.5 903.8h2.5M862.5 903.8h5M727.5 906.2h2.5M770 906.2h2.5M777.5 906.2h2.5M782.5 906.2h2.5M787.5 906.2h2.5M792.5 906.2h2.5M797.5 906.2h2.5M802.5 906.2h2.5M855 906.2h2.5M862.5 906.2h2.5M755 908.8h2.5M777.5 908.8h2.5M782.5 908.8h2.5M787.5 908.8h2.5M792.5 908.8h2.5M797.5 908.8h2.5M802.5 908.8h2.5M757.5 911.2h5M777.5 911.2h2.5M787.5 911.2h2.5M802.5 911.2h2.5M832.5 911.2h2.5M840 911.2h2.5M892.5 911.2h2.5M755 913.8h2.5M762.5 913.8h2.5M780 913.8h2.5M787.5 913.8h2.5M802.5 913.8h2.5M890 913.8h2.5M762.5 916.2h2.5M767.5 916.2h5M787.5 916.2h2.5M795 916.2h2.5M830 916.2h2.5M835 916.2h2.5M840 916.2h2.5M767.5 918.8h5M795 918.8h2.5M845 918.8h5M722.5 921.2h5M745 921.2h2.5M760 921.2h2.5M767.5 921.2h2.5M830 921.2h5M845 921.2h5M725 923.8h10M772.5 923.8h2.5M790 923.8h2.5M835 923.8h2.5M847.5 923.8h2.5M730 926.2h7.5M747.5 926.2h2.5M770 926.2h5M790 926.2h2.5M795 926.2h2.5M827.5 926.2h2.5M832.5 926.2h2.5M845 926.2h2.5M732.5 928.8h5M770 928.8h5M795 928.8h2.5M830 928.8h2.5M842.5 928.8h2.5M1025 928.8h2.5M1032.5 928.8h5M1040 928.8h5M735 931.2h5M792.5 931.2h5M825 931.2h5M970 931.2h15M1017.5 931.2h2.5M1035 931.2h17.5M760 933.8h2.5M792.5 933.8h5M812.5 933.8h2.5M825 933.8h2.5M960 933.8h15M1017.5 933.8h2.5M1025 933.8h10M1040 933.8h15M762.5 936.2h2.5M795 936.2h2.5M805 936.2h7.5M815 936.2h2.5M955 936.2h2.5M965 936.2h12.5M980 936.2h2.5M1017.5 936.2h12.5M1045 936.2h12.5M762.5 938.8h5M805 938.8h5M972.5 938.8h10M1020 938.8h2.5M1047.5 938.8h10M765 941.2h7.5M792.5 941.2h2.5M802.5 941.2h7.5M977.5 941.2h2.5M1047.5 941.2h7.5M767.5 943.8h5M802.5 943.8h7.5M852.5 943.8h2.5M875 943.8h2.5M1007.5 943.8h7.5M1050 943.8h2.5M767.5 946.2h5M775 946.2h2.5M802.5 946.2h5M822.5 946.2h2.5M850 946.2h5M860 946.2h2.5M1005 946.2h12.5M802.5 948.8h5M810 948.8h2.5M820 948.8h5M852.5 948.8h5M1000 948.8h5M1012.5 948.8h15M760 951.2h2.5M797.5 951.2h2.5M802.5 951.2h7.5M820 951.2h2.5M862.5 951.2h2.5M982.5 951.2h2.5M997.5 951.2h10M1010 951.2h2.5M1027.5 951.2h5M735 953.8h5M760 953.8h2.5M797.5 953.8h2.5M802.5 953.8h2.5M817.5 953.8h5M865 953.8h2.5M1002.5 953.8h12.5M1030 953.8h5M1045 953.8h7.5M737.5 956.2h5M762.5 956.2h2.5M862.5 956.2h2.5M937.5 956.2h15M992.5 956.2h25M1027.5 956.2h17.5M1052.5 956.2h10M742.5 958.8h5M757.5 958.8h7.5M810 958.8h2.5M815 958.8h2.5M862.5 958.8h2.5M932.5 958.8h5M942.5 958.8h7.5M995 958.8h2.5M1017.5 958.8h7.5M1027.5 958.8h10M1052.5 958.8h10M745 961.2h7.5M760 961.2h2.5M765 961.2h2.5M800 961.2h2.5M812.5 961.2h2.5M920 961.2h5M940 961.2h5M1030 961.2h5M1052.5 961.2h10M737.5 963.8h2.5M747.5 963.8h7.5M760 963.8h5M767.5 963.8h2.5M800 963.8h2.5M915 963.8h2.5M930 963.8h5M1032.5 963.8h2.5M1055 963.8h5M707.5 966.2h2.5M742.5 966.2h2.5M755 966.2h2.5M762.5 966.2h5M770 966.2h2.5M790 966.2h2.5M805 966.2h2.5M825 966.2h2.5M870 966.2h2.5M915 966.2h7.5M1035 966.2h5M1052.5 966.2h2.5M720 968.8h2.5M745 968.8h10M767.5 968.8h2.5M775 968.8h2.5M782.5 968.8h2.5M790 968.8h2.5M1037.5 968.8h12.5M700 971.2h5M715 971.2h2.5M755 971.2h2.5M762.5 971.2h2.5M770 971.2h2.5M775 971.2h5M785 971.2h2.5M822.5 971.2h2.5M1087.5 971.2h2.5M750 973.8h2.5M772.5 973.8h2.5M777.5 973.8h5M785 973.8h2.5M825 973.8h2.5M872.5 973.8h5M1085 973.8h2.5M757.5 976.2h2.5M767.5 976.2h2.5M772.5 976.2h2.5M780 976.2h2.5M952.5 976.2h17.5M1012.5 976.2h2.5M777.5 978.8h2.5M782.5 978.8h2.5M875 978.8h7.5M950 978.8h5M970 978.8h2.5M1012.5 978.8h5M697.5 981.2h2.5M725 981.2h2.5M755 981.2h2.5M767.5 981.2h2.5M780 981.2h7.5M800 981.2h2.5M892.5 981.2h10M950 981.2h5M1010 981.2h7.5M1027.5 981.2h7.5M690 983.8h5M772.5 983.8h2.5M782.5 983.8h2.5M787.5 983.8h2.5M907.5 983.8h2.5M952.5 983.8h5M1010 983.8h5M1027.5 983.8h5M675 986.2h5M690 986.2h2.5M722.5 986.2h5M797.5 986.2h2.5M872.5 986.2h27.5M970 986.2h2.5M1010 986.2h5M1022.5 986.2h7.5M720 988.8h5M870 988.8h5M957.5 988.8h12.5M1010 988.8h15M687.5 991.2h40M792.5 991.2h2.5M820 991.2h7.5M830 991.2h5M875 991.2h5M882.5 991.2h2.5M887.5 991.2h2.5M907.5 991.2h7.5M930 991.2h5M1007.5 991.2h10M662.5 993.8h25M717.5 993.8h7.5M732.5 993.8h12.5M810 993.8h2.5M915 993.8h2.5M925 993.8h7.5M1010 993.8h5M1057.5 993.8h2.5M1085 993.8h12.5M657.5 996.2h2.5M682.5 996.2h5M722.5 996.2h27.5M810 996.2h2.5M815 996.2h5M840 996.2h5M847.5 996.2h2.5M882.5 996.2h2.5M890 996.2h7.5M1007.5 996.2h5M1087.5 996.2h17.5M652.5 998.8h10M670 998.8h12.5M812.5 998.8h5M842.5 998.8h10M875 998.8h5M895 998.8h5M1087.5 998.8h17.5M620 1001.2h5M740 1001.2h5M807.5 1001.2h2.5M815 1001.2h2.5M820 1001.2h2.5M887.5 1001.2h10M917.5 1001.2h2.5M922.5 1001.2h12.5M1087.5 1001.2h17.5M730 1003.8h10M755 1003.8h2.5M797.5 1003.8h2.5M807.5 1003.8h5M817.5 1003.8h10M845 1003.8h2.5M872.5 1003.8h2.5M915 1003.8h2.5M937.5 1003.8h2.5M1087.5 1003.8h22.5M725 1006.2h10M775 1006.2h2.5M797.5 1006.2h2.5M805 1006.2h2.5M810 1006.2h2.5M820 1006.2h5M827.5 1006.2h2.5M872.5 1006.2h2.5M887.5 1006.2h5M915 1006.2h2.5M722.5 1008.8h2.5M727.5 1008.8h2.5M772.5 1008.8h2.5M795 1008.8h5M807.5 1008.8h2.5M812.5 1008.8h2.5M825 1008.8h12.5M880 1008.8h2.5M895 1008.8h2.5M915 1008.8h2.5M717.5 1011.2h7.5M770 1011.2h2.5M785 1011.2h5M795 1011.2h2.5M800 1011.2h2.5M827.5 1011.2h10M850 1011.2h10M885 1011.2h2.5M895 1011.2h5M920 1011.2h5M940 1011.2h5M730 1013.8h5M800 1013.8h2.5M810 1013.8h2.5M845 1013.8h2.5M857.5 1013.8h2.5M870 1013.8h2.5M890 1013.8h12.5M927.5 1013.8h17.5M952.5 1013.8h2.5M617.5 1016.2h12.5M632.5 1016.2h2.5M640 1016.2h17.5M727.5 1016.2h5M782.5 1016.2h2.5M787.5 1016.2h2.5M837.5 1016.2h2.5M845 1016.2h2.5M940 1016.2h5M950 1016.2h2.5M970 1016.2h2.5M625 1018.8h17.5M650 1018.8h5M725 1018.8h5M782.5 1018.8h2.5M787.5 1018.8h2.5M812.5 1018.8h2.5M832.5 1018.8h2.5M842.5 1018.8h5M910 1018.8h12.5M940 1018.8h5M957.5 1018.8h5M965 1018.8h7.5M627.5 1021.2h22.5M785 1021.2h2.5M847.5 1021.2h2.5M912.5 1021.2h10M942.5 1021.2h2.5M955 1021.2h2.5M675 1023.8h5M840 1023.8h2.5M915 1023.8h5M940 1023.8h5M952.5 1023.8h5M780 1026.2h5M787.5 1026.2h2.5M797.5 1026.2h2.5M840 1026.2h2.5M902.5 1026.2h2.5M925 1026.2h10M940 1026.2h5M950 1026.2h5M777.5 1028.8h2.5M785 1028.8h2.5M925 1028.8h2.5M932.5 1028.8h20M757.5 1031.2h2.5M775 1031.2h2.5M782.5 1031.2h5M812.5 1031.2h2.5M827.5 1031.2h2.5M890 1031.2h7.5M925 1031.2h2.5M937.5 1031.2h10M1080 1031.2h10M752.5 1033.8h5M782.5 1033.8h5M815 1033.8h5M890 1033.8h5M897.5 1033.8h12.5M915 1033.8h2.5M925 1033.8h5M932.5 1033.8h7.5M1080 1033.8h12.5M747.5 1036.2h5M780 1036.2h2.5M790 1036.2h2.5M817.5 1036.2h5M895 1036.2h2.5M900 1036.2h5M910 1036.2h2.5M917.5 1036.2h2.5M930 1036.2h5M1080 1036.2h12.5M535 1038.8h5M745 1038.8h5M752.5 1038.8h2.5M760 1038.8h2.5M775 1038.8h2.5M780 1038.8h5M790 1038.8h2.5M815 1038.8h2.5M830 1038.8h2.5M840 1038.8h2.5M892.5 1038.8h2.5M897.5 1038.8h5M915 1038.8h5M1080 1038.8h10M535 1041.2h5M745 1041.2h2.5M752.5 1041.2h2.5M780 1041.2h2.5M787.5 1041.2h2.5M822.5 1041.2h2.5M842.5 1041.2h5M890 1041.2h10M972.5 1041.2h5M1050 1041.2h2.5M1082.5 1041.2h5M645 1043.8h5M750 1043.8h2.5M755 1043.8h2.5M762.5 1043.8h5M772.5 1043.8h2.5M780 1043.8h2.5M790 1043.8h2.5M822.5 1043.8h2.5M832.5 1043.8h2.5M845 1043.8h5M890 1043.8h2.5M900 1043.8h2.5M972.5 1043.8h5M1050 1043.8h5M642.5 1046.2h7.5M770 1046.2h2.5M780 1046.2h2.5M790 1046.2h5M835 1046.2h5M850 1046.2h2.5M902.5 1046.2h2.5M1045 1046.2h7.5M585 1048.8h5M637.5 1048.8h10M752.5 1048.8h2.5M785 1048.8h2.5M792.5 1048.8h2.5M825 1048.8h2.5M837.5 1048.8h2.5M850 1048.8h2.5M855 1048.8h5M870 1048.8h2.5M877.5 1048.8h2.5M905 1048.8h2.5M962.5 1048.8h5M1047.5 1048.8h5M585 1051.2h7.5M637.5 1051.2h7.5M747.5 1051.2h7.5M782.5 1051.2h2.5M792.5 1051.2h2.5M825 1051.2h2.5M837.5 1051.2h2.5M857.5 1051.2h7.5M870 1051.2h2.5M875 1051.2h7.5M897.5 1051.2h7.5M907.5 1051.2h2.5M965 1051.2h7.5M1017.5 1051.2h5M1047.5 1051.2h5M1080 1051.2h7.5M585 1053.8h5M622.5 1053.8h20M687.5 1053.8h15M745 1053.8h5M757.5 1053.8h5M782.5 1053.8h2.5M792.5 1053.8h2.5M820 1053.8h2.5M825 1053.8h2.5M832.5 1053.8h2.5M840 1053.8h2.5M865 1053.8h2.5M870 1053.8h5M880 1053.8h2.5M895 1053.8h15M950 1053.8h2.5M962.5 1053.8h2.5M972.5 1053.8h5M1015 1053.8h5M1047.5 1053.8h7.5M1077.5 1053.8h17.5M620 1056.2h7.5M630 1056.2h10M682.5 1056.2h10M695 1056.2h7.5M745 1056.2h2.5M757.5 1056.2h5M770 1056.2h2.5M787.5 1056.2h2.5M795 1056.2h2.5M822.5 1056.2h2.5M832.5 1056.2h7.5M867.5 1056.2h7.5M882.5 1056.2h2.5M900 1056.2h5M945 1056.2h2.5M952.5 1056.2h2.5M957.5 1056.2h2.5M975 1056.2h2.5M1015 1056.2h7.5M1045 1056.2h10M1075 1056.2h22.5M612.5 1058.8h10M682.5 1058.8h5M695 1058.8h5M742.5 1058.8h2.5M757.5 1058.8h2.5M770 1058.8h2.5M787.5 1058.8h2.5M822.5 1058.8h2.5M832.5 1058.8h2.5M862.5 1058.8h2.5M870 1058.8h2.5M875 1058.8h2.5M902.5 1058.8h2.5M975 1058.8h2.5M1015 1058.8h7.5M1045 1058.8h10M1072.5 1058.8h22.5M685 1061.2h5M692.5 1061.2h7.5M757.5 1061.2h2.5M765 1061.2h7.5M782.5 1061.2h2.5M822.5 1061.2h2.5M847.5 1061.2h2.5M865 1061.2h10M890 1061.2h2.5M902.5 1061.2h2.5M950 1061.2h2.5M972.5 1061.2h2.5M1015 1061.2h10M1047.5 1061.2h7.5M1072.5 1061.2h10M1090 1061.2h5M557.5 1063.8h5M685 1063.8h15M740 1063.8h2.5M755 1063.8h5M762.5 1063.8h2.5M770 1063.8h2.5M792.5 1063.8h5M822.5 1063.8h2.5M835 1063.8h2.5M845 1063.8h2.5M865 1063.8h7.5M875 1063.8h2.5M880 1063.8h2.5M895 1063.8h5M902.5 1063.8h2.5M970 1063.8h5M1017.5 1063.8h7.5M1047.5 1063.8h5M1072.5 1063.8h10M557.5 1066.2h7.5M657.5 1066.2h5M687.5 1066.2h12.5M737.5 1066.2h2.5M747.5 1066.2h2.5M755 1066.2h5M770 1066.2h7.5M792.5 1066.2h2.5M822.5 1066.2h2.5M835 1066.2h2.5M867.5 1066.2h5M877.5 1066.2h2.5M882.5 1066.2h2.5M965 1066.2h7.5M1017.5 1066.2h5M1025 1066.2h7.5M1075 1066.2h5M557.5 1068.8h5M660 1068.8h5M685 1068.8h12.5M735 1068.8h2.5M745 1068.8h5M752.5 1068.8h5M760 1068.8h2.5M770 1068.8h2.5M775 1068.8h2.5M822.5 1068.8h2.5M837.5 1068.8h2.5M872.5 1068.8h2.5M960 1068.8h2.5M965 1068.8h5M1017.5 1068.8h7.5M1027.5 1068.8h5M1077.5 1068.8h2.5M560 1071.2h2.5M660 1071.2h2.5M690 1071.2h2.5M697.5 1071.2h2.5M742.5 1071.2h17.5M767.5 1071.2h5M837.5 1071.2h2.5M852.5 1071.2h5M872.5 1071.2h5M957.5 1071.2h2.5M967.5 1071.2h5M1017.5 1071.2h15M557.5 1073.8h2.5M660 1073.8h2.5M695 1073.8h5M742.5 1073.8h7.5M757.5 1073.8h2.5M765 1073.8h7.5M840 1073.8h2.5M847.5 1073.8h2.5M855 1073.8h2.5M875 1073.8h2.5M880 1073.8h5M957.5 1073.8h5M1017.5 1073.8h15M557.5 1076.2h2.5M657.5 1076.2h2.5M695 1076.2h2.5M707.5 1076.2h5M730 1076.2h2.5M742.5 1076.2h5M757.5 1076.2h2.5M762.5 1076.2h7.5M845 1076.2h5M885 1076.2h2.5M922.5 1076.2h2.5M955 1076.2h15M985 1076.2h2.5M990 1076.2h5M1017.5 1076.2h12.5M555 1078.8h5M655 1078.8h2.5M705 1078.8h2.5M712.5 1078.8h2.5M727.5 1078.8h2.5M755 1078.8h2.5M765 1078.8h5M772.5 1078.8h2.5M842.5 1078.8h7.5M915 1078.8h5M925 1078.8h2.5M957.5 1078.8h7.5M985 1078.8h5M992.5 1078.8h5M1020 1078.8h7.5M555 1081.2h2.5M650 1081.2h2.5M727.5 1081.2h2.5M755 1081.2h2.5M765 1081.2h2.5M770 1081.2h5M845 1081.2h2.5M915 1081.2h2.5M985 1081.2h12.5M1022.5 1081.2h5M1097.5 1081.2h2.5M547.5 1083.8h10M565 1083.8h5M647.5 1083.8h2.5M725 1083.8h2.5M760 1083.8h2.5M765 1083.8h10M905 1083.8h5M917.5 1083.8h2.5M982.5 1083.8h2.5M987.5 1083.8h10M542.5 1086.2h27.5M640 1086.2h2.5M697.5 1086.2h2.5M712.5 1086.2h2.5M725 1086.2h2.5M760 1086.2h5M767.5 1086.2h2.5M772.5 1086.2h2.5M847.5 1086.2h2.5M905 1086.2h7.5M922.5 1086.2h5M985 1086.2h10M527.5 1088.8h2.5M535 1088.8h32.5M632.5 1088.8h5M695 1088.8h2.5M712.5 1088.8h2.5M725 1088.8h2.5M757.5 1088.8h7.5M767.5 1088.8h2.5M827.5 1088.8h2.5M850 1088.8h5M905 1088.8h2.5M912.5 1088.8h2.5M985 1088.8h12.5M522.5 1091.2h12.5M550 1091.2h10M630 1091.2h2.5M710 1091.2h5M720 1091.2h5M757.5 1091.2h5M765 1091.2h2.5M827.5 1091.2h2.5M855 1091.2h5M905 1091.2h2.5M915 1091.2h2.5M985 1091.2h12.5M525 1093.8h7.5M692.5 1093.8h2.5M710 1093.8h2.5M717.5 1093.8h5M747.5 1093.8h5M757.5 1093.8h5M765 1093.8h2.5M827.5 1093.8h2.5M860 1093.8h2.5M905 1093.8h5M915 1093.8h5M985 1093.8h7.5M1032.5 1093.8h2.5M525 1096.2h5M647.5 1096.2h2.5M692.5 1096.2h2.5M697.5 1096.2h2.5M725 1096.2h2.5M747.5 1096.2h2.5M755 1096.2h10M825 1096.2h7.5M862.5 1096.2h2.5M897.5 1096.2h7.5M907.5 1096.2h10M985 1096.2h5M1010 1096.2h2.5M1030 1096.2h10M527.5 1098.8h2.5M640 1098.8h2.5M645 1098.8h10M690 1098.8h10M722.5 1098.8h2.5M745 1098.8h5M760 1098.8h5M825 1098.8h7.5M897.5 1098.8h10M910 1098.8h5M982.5 1098.8h7.5M1010 1098.8h2.5M1030 1098.8h10M587.5 1101.2h12.5M640 1101.2h17.5M692.5 1101.2h7.5M720 1101.2h2.5M742.5 1101.2h7.5M825 1101.2h2.5M830 1101.2h2.5M867.5 1101.2h2.5M897.5 1101.2h7.5M932.5 1101.2h5M940 1101.2h2.5M982.5 1101.2h10M1030 1101.2h7.5M587.5 1103.8h7.5M640 1103.8h20M695 1103.8h2.5M715 1103.8h5M740 1103.8h10M827.5 1103.8h7.5M855 1103.8h2.5M867.5 1103.8h2.5M895 1103.8h5M935 1103.8h2.5M942.5 1103.8h2.5M980 1103.8h7.5M990 1103.8h7.5M1035 1103.8h2.5M550 1106.2h5M585 1106.2h10M645 1106.2h15M695 1106.2h2.5M712.5 1106.2h2.5M740 1106.2h2.5M745 1106.2h5M827.5 1106.2h7.5M860 1106.2h5M867.5 1106.2h2.5M895 1106.2h2.5M947.5 1106.2h5M975 1106.2h10M997.5 1106.2h5M1022.5 1106.2h7.5M1060 1106.2h7.5M545 1108.8h10M647.5 1108.8h12.5M695 1108.8h2.5M827.5 1108.8h5M865 1108.8h7.5M950 1108.8h7.5M972.5 1108.8h5M997.5 1108.8h5M1020 1108.8h12.5M1065 1108.8h5M540 1111.2h15M595 1111.2h5M650 1111.2h10M692.5 1111.2h7.5M767.5 1111.2h5M830 1111.2h7.5M915 1111.2h2.5M922.5 1111.2h2.5M952.5 1111.2h5M975 1111.2h5M1002.5 1111.2h2.5M1015 1111.2h2.5M1020 1111.2h12.5M1062.5 1111.2h2.5M537.5 1113.8h15M647.5 1113.8h10M765 1113.8h2.5M772.5 1113.8h2.5M830 1113.8h7.5M902.5 1113.8h5M917.5 1113.8h7.5M952.5 1113.8h5M977.5 1113.8h12.5M1017.5 1113.8h2.5M1022.5 1113.8h10M535 1116.2h17.5M765 1116.2h2.5M772.5 1116.2h2.5M785 1116.2h2.5M830 1116.2h2.5M835 1116.2h2.5M902.5 1116.2h5M952.5 1116.2h5M985 1116.2h20M1015 1116.2h2.5M1020 1116.2h10M535 1118.8h20M715 1118.8h2.5M775 1118.8h2.5M785 1118.8h2.5M830 1118.8h2.5M835 1118.8h2.5M910 1118.8h5M952.5 1118.8h5M992.5 1118.8h2.5M1020 1118.8h7.5M545 1121.2h10M712.5 1121.2h5M755 1121.2h2.5M762.5 1121.2h2.5M775 1121.2h2.5M782.5 1121.2h2.5M912.5 1121.2h2.5M952.5 1121.2h7.5M547.5 1123.8h7.5M710 1123.8h2.5M715 1123.8h2.5M755 1123.8h5M762.5 1123.8h2.5M775 1123.8h2.5M782.5 1123.8h2.5M912.5 1123.8h5M950 1123.8h15M545 1126.2h7.5M697.5 1126.2h2.5M710 1126.2h7.5M752.5 1126.2h7.5M762.5 1126.2h2.5M775 1126.2h2.5M782.5 1126.2h2.5M832.5 1126.2h2.5M915 1126.2h2.5M952.5 1126.2h2.5M962.5 1126.2h5M685 1128.8h5M692.5 1128.8h7.5M702.5 1128.8h2.5M712.5 1128.8h2.5M752.5 1128.8h2.5M762.5 1128.8h5M775 1128.8h2.5M782.5 1128.8h2.5M835 1128.8h5M887.5 1128.8h2.5M915 1128.8h2.5M932.5 1128.8h10M965 1128.8h5M690 1131.2h2.5M702.5 1131.2h2.5M732.5 1131.2h7.5M765 1131.2h12.5M782.5 1131.2h5M835 1131.2h2.5M850 1131.2h5M887.5 1131.2h2.5M917.5 1131.2h2.5M935 1131.2h7.5M965 1131.2h10M680 1133.8h2.5M700 1133.8h2.5M730 1133.8h5M765 1133.8h7.5M782.5 1133.8h2.5M837.5 1133.8h2.5M852.5 1133.8h5M917.5 1133.8h2.5M965 1133.8h2.5M972.5 1133.8h5M655 1136.2h7.5M730 1136.2h2.5M742.5 1136.2h2.5M837.5 1136.2h2.5M855 1136.2h5M920 1136.2h2.5M927.5 1136.2h5M975 1136.2h2.5M650 1138.8h7.5M690 1138.8h10M727.5 1138.8h5M740 1138.8h2.5M837.5 1138.8h2.5M857.5 1138.8h2.5M905 1138.8h2.5M922.5 1138.8h10M972.5 1138.8h5M650 1141.2h7.5M725 1141.2h7.5M735 1141.2h2.5M740 1141.2h2.5M857.5 1141.2h2.5M905 1141.2h2.5M925 1141.2h7.5M972.5 1141.2h5M650 1143.8h7.5M667.5 1143.8h7.5M722.5 1143.8h2.5M730 1143.8h5M737.5 1143.8h2.5M855 1143.8h5M955 1143.8h2.5M1020 1143.8h5M652.5 1146.2h10M665 1146.2h7.5M697.5 1146.2h7.5M727.5 1146.2h5M855 1146.2h5M955 1146.2h2.5M1020 1146.2h7.5M657.5 1148.8h12.5M695 1148.8h5M702.5 1148.8h2.5M727.5 1148.8h2.5M952.5 1148.8h5M1020 1148.8h7.5M587.5 1151.2h5M695 1151.2h5M725 1151.2h2.5M745 1151.2h5M820 1151.2h2.5M950 1151.2h5M965 1151.2h2.5M1022.5 1151.2h7.5M587.5 1153.8h7.5M697.5 1153.8h5M705 1153.8h2.5M717.5 1153.8h2.5M742.5 1153.8h7.5M790 1153.8h2.5M820 1153.8h2.5M952.5 1153.8h2.5M962.5 1153.8h2.5M1025 1153.8h2.5M570 1156.2h2.5M585 1156.2h10M717.5 1156.2h2.5M725 1156.2h2.5M742.5 1156.2h7.5M790 1156.2h2.5M820 1156.2h2.5M895 1156.2h5M950 1156.2h2.5M955 1156.2h7.5M592.5 1158.8h10M677.5 1158.8h5M717.5 1158.8h2.5M725 1158.8h2.5M742.5 1158.8h7.5M790 1158.8h2.5M820 1158.8h2.5M895 1158.8h5M950 1158.8h10M592.5 1161.2h7.5M675 1161.2h5M725 1161.2h5M740 1161.2h10M790 1161.2h2.5M820 1161.2h5M897.5 1161.2h5M595 1163.8h2.5M672.5 1163.8h7.5M715 1163.8h5M725 1163.8h2.5M740 1163.8h7.5M790 1163.8h2.5M897.5 1163.8h7.5M642.5 1166.2h2.5M677.5 1166.2h2.5M720 1166.2h7.5M740 1166.2h5M790 1166.2h2.5M900 1166.2h2.5M645 1168.8h2.5M675 1168.8h2.5M720 1168.8h5M740 1168.8h5M790 1168.8h2.5M675 1171.2h5M720 1171.2h5M740 1171.2h2.5M757.5 1171.2h2.5M790 1171.2h2.5M667.5 1173.8h2.5M672.5 1173.8h5M720 1173.8h5M737.5 1173.8h2.5M757.5 1173.8h5M670 1176.2h2.5M857.5 1176.2h2.5M857.5 1178.8h2.5M762.5 1181.2h7.5M857.5 1181.2h2.5M762.5 1183.8h7.5M857.5 1183.8h2.5M695 1186.2h10M762.5 1186.2h7.5M690 1188.8h15M762.5 1188.8h2.5M775 1188.8h2.5M905 1188.8h2.5M687.5 1191.2h7.5M697.5 1191.2h7.5M760 1191.2h2.5M775 1191.2h2.5M907.5 1191.2h5M685 1193.8h7.5M702.5 1193.8h2.5M757.5 1193.8h2.5M765 1193.8h2.5M910 1193.8h2.5M630 1196.2h7.5M687.5 1196.2h5M702.5 1196.2h2.5M750 1196.2h7.5M765 1196.2h2.5M797.5 1196.2h2.5M910 1196.2h2.5M630 1198.8h7.5M690 1198.8h5M705 1198.8h5M762.5 1198.8h5M797.5 1198.8h2.5M907.5 1198.8h5M632.5 1201.2h2.5M692.5 1201.2h5M705 1201.2h5M762.5 1201.2h2.5M797.5 1201.2h2.5M907.5 1201.2h5M692.5 1203.8h5M705 1203.8h5M760 1203.8h5M812.5 1203.8h10M660 1206.2h7.5M695 1206.2h2.5M700 1206.2h10M752.5 1206.2h10M812.5 1206.2h10M657.5 1208.8h7.5M695 1208.8h5M702.5 1208.8h2.5M747.5 1208.8h7.5M815 1208.8h10M655 1211.2h5M665 1211.2h2.5M692.5 1211.2h12.5M815 1211.2h7.5M652.5 1213.8h15M695 1213.8h7.5M817.5 1213.8h5M845 1213.8h2.5M650 1216.2h17.5M695 1216.2h5M772.5 1216.2h5M845 1216.2h10M647.5 1218.8h15M770 1218.8h10M850 1218.8h7.5M647.5 1221.2h12.5M767.5 1221.2h10M857.5 1221.2h2.5M645 1223.8h15M772.5 1223.8h2.5M837.5 1223.8h2.5M857.5 1223.8h2.5M647.5 1226.2h10M835 1226.2h5M857.5 1226.2h2.5M645 1228.8h12.5M832.5 1228.8h5M860 1228.8h2.5M647.5 1231.2h10M832.5 1231.2h2.5M647.5 1233.8h10M832.5 1233.8h2.5M850 1233.8h5M652.5 1236.2h2.5M667.5 1236.2h5M845 1236.2h7.5M840 1238.8h7.5M837.5 1241.2h7.5M832.5 1243.8h10M827.5 1246.2h2.5M835 1246.2h5M785 1248.8h7.5M820 1248.8h2.5M827.5 1248.8h2.5M835 1248.8h2.5M677.5 1251.2h5M785 1251.2h10M827.5 1251.2h2.5M677.5 1253.8h5M705 1253.8h2.5M785 1253.8h10M827.5 1253.8h2.5M677.5 1256.2h7.5M787.5 1256.2h5M737.5 1258.8h5M787.5 1258.8h5M705 1261.2h5M735 1261.2h7.5M705 1263.8h2.5M732.5 1263.8h10M727.5 1266.2h15" stroke="#3a76ae" stroke-width="2.65" fill="none"/><path d="M747.5 751.2h2.5M742.5 753.8h7.5M742.5 756.2h7.5M740 758.8h7.5M740 761.2h7.5M740 763.8h5M840 763.8h7.5M660 766.2h2.5M840 766.2h7.5M840 768.8h5M840 771.2h5M760 773.8h5M760 776.2h5M760 778.8h5M762.5 781.2h2.5M752.5 793.8h5M750 796.2h7.5M750 798.8h7.5M750 801.2h7.5M805 801.2h5M755 803.8h5M805 803.8h5M640 806.2h12.5M755 806.2h5M805 806.2h2.5M637.5 808.8h15M757.5 808.8h2.5M637.5 811.2h15M760 811.2h2.5M845 811.2h5M640 813.8h5M760 813.8h5M767.5 813.8h2.5M840 813.8h10M760 816.2h5M832.5 816.2h17.5M760 818.8h7.5M832.5 818.8h17.5M885 818.8h7.5M762.5 821.2h10M832.5 821.2h17.5M885 821.2h7.5M762.5 823.8h10M832.5 823.8h15M882.5 823.8h10M767.5 826.2h7.5M832.5 826.2h17.5M882.5 826.2h10M595 828.8h2.5M770 828.8h10M835 828.8h15M882.5 828.8h10M597.5 831.2h2.5M775 831.2h5M842.5 831.2h7.5M882.5 831.2h5M597.5 833.8h5M775 833.8h7.5M842.5 833.8h7.5M927.5 833.8h2.5M597.5 836.2h2.5M772.5 836.2h10M842.5 836.2h7.5M925 836.2h5M977.5 836.2h2.5M712.5 838.8h2.5M772.5 838.8h7.5M842.5 838.8h5M922.5 838.8h7.5M967.5 838.8h15M842.5 841.2h5M857.5 841.2h10M922.5 841.2h5M965 841.2h15M770 843.8h2.5M842.5 843.8h2.5M857.5 843.8h5M865 843.8h2.5M965 843.8h12.5M652.5 846.2h2.5M770 846.2h2.5M855 846.2h10M965 846.2h2.5M970 846.2h5M650 848.8h10M772.5 848.8h2.5M857.5 848.8h2.5M862.5 848.8h2.5M652.5 851.2h10M862.5 851.2h2.5M655 853.8h7.5M860 853.8h2.5M657.5 856.2h2.5M807.5 861.2h2.5M807.5 863.8h2.5M807.5 866.2h2.5M802.5 868.8h2.5M1022.5 868.8h2.5M802.5 871.2h2.5M1025 871.2h2.5M800 873.8h5M887.5 873.8h5M1025 873.8h2.5M800 876.2h5M885 876.2h5M800 878.8h2.5M882.5 878.8h5M800 881.2h2.5M882.5 881.2h2.5M792.5 883.8h2.5M797.5 883.8h5M1002.5 883.8h7.5M797.5 886.2h5M1000 886.2h10M795 888.8h5M1000 888.8h10M775 891.2h2.5M795 891.2h2.5M1002.5 891.2h2.5M765 893.8h2.5M775 893.8h2.5M795 893.8h2.5M765 896.2h5M775 896.2h2.5M795 896.2h2.5M767.5 898.8h2.5M775 898.8h5M795 898.8h2.5M767.5 901.2h2.5M777.5 901.2h2.5M795 901.2h2.5M865 901.2h2.5M905 901.2h2.5M777.5 903.8h5M790 903.8h2.5M795 903.8h2.5M905 903.8h2.5M780 906.2h2.5M790 906.2h2.5M795 906.2h2.5M905 906.2h2.5M780 908.8h2.5M790 908.8h2.5M795 908.8h2.5M755 911.2h2.5M780 911.2h5M790 911.2h2.5M795 911.2h2.5M757.5 913.8h5M782.5 913.8h2.5M790 913.8h2.5M795 913.8h2.5M837.5 913.8h5M757.5 916.2h5M782.5 916.2h2.5M790 916.2h2.5M837.5 916.2h2.5M760 918.8h2.5M790 918.8h2.5M835 918.8h5M790 921.2h2.5M835 921.2h2.5M830 923.8h5M845 923.8h2.5M830 926.2h2.5M827.5 928.8h2.5M1020 928.8h5M1027.5 928.8h5M1037.5 928.8h2.5M1020 931.2h15M975 933.8h10M1020 933.8h5M792.5 936.2h2.5M812.5 936.2h2.5M872.5 936.2h2.5M977.5 936.2h2.5M792.5 938.8h2.5M810 938.8h5M707.5 941.2h2.5M810 941.2h5M857.5 941.2h2.5M810 943.8h2.5M855 943.8h5M807.5 946.2h5M855 946.2h5M807.5 948.8h2.5M1005 948.8h7.5M1007.5 951.2h2.5M1012.5 951.2h15M762.5 953.8h2.5M812.5 953.8h2.5M1015 953.8h15M710 956.2h5M765 956.2h2.5M817.5 956.2h2.5M865 956.2h2.5M1017.5 956.2h10M1045 956.2h7.5M712.5 958.8h7.5M765 958.8h5M937.5 958.8h5M1037.5 958.8h15M767.5 961.2h5M930 961.2h7.5M1035 961.2h17.5M770 963.8h2.5M917.5 963.8h7.5M1035 963.8h20M697.5 966.2h10M752.5 966.2h2.5M772.5 966.2h2.5M1040 966.2h12.5M697.5 968.8h22.5M755 968.8h5M772.5 968.8h2.5M717.5 971.2h7.5M757.5 971.2h5M762.5 973.8h5M780 978.8h2.5M955 978.8h15M955 981.2h12.5M1017.5 981.2h10M775 983.8h2.5M785 983.8h2.5M957.5 983.8h2.5M1015 983.8h12.5M680 986.2h5M727.5 986.2h2.5M787.5 986.2h2.5M960 986.2h10M1015 986.2h7.5M725 988.8h5M875 988.8h10M827.5 991.2h2.5M880 991.2h2.5M915 991.2h2.5M922.5 991.2h7.5M725 993.8h7.5M660 996.2h22.5M845 996.2h2.5M620 998.8h5M662.5 998.8h7.5M880 998.8h2.5M890 998.8h5M617.5 1001.2h2.5M817.5 1001.2h2.5M920 1001.2h2.5M917.5 1003.8h2.5M925 1003.8h12.5M875 1006.2h12.5M917.5 1006.2h2.5M725 1008.8h2.5M882.5 1008.8h12.5M917.5 1008.8h7.5M930 1008.8h5M837.5 1011.2h5M887.5 1011.2h7.5M925 1011.2h15M835 1013.8h10M955 1013.8h15M840 1016.2h5M952.5 1016.2h17.5M642.5 1018.8h7.5M785 1018.8h2.5M950 1018.8h7.5M962.5 1018.8h2.5M787.5 1021.2h2.5M945 1021.2h2.5M950 1021.2h5M780 1023.8h2.5M787.5 1023.8h2.5M945 1023.8h7.5M945 1026.2h5M782.5 1028.8h2.5M927.5 1028.8h5M777.5 1031.2h2.5M927.5 1031.2h10M775 1033.8h2.5M895 1033.8h2.5M910 1033.8h2.5M930 1033.8h2.5M772.5 1036.2h5M782.5 1036.2h2.5M815 1036.2h2.5M897.5 1036.2h2.5M912.5 1036.2h5M772.5 1038.8h2.5M817.5 1038.8h5M757.5 1041.2h2.5M765 1041.2h2.5M770 1041.2h5M790 1041.2h2.5M817.5 1041.2h5M832.5 1041.2h2.5M757.5 1043.8h2.5M770 1043.8h2.5M787.5 1043.8h2.5M817.5 1043.8h5M835 1043.8h2.5M892.5 1043.8h7.5M755 1046.2h2.5M762.5 1046.2h2.5M787.5 1046.2h2.5M817.5 1046.2h5M895 1046.2h7.5M760 1048.8h5M787.5 1048.8h2.5M820 1048.8h2.5M852.5 1048.8h2.5M897.5 1048.8h7.5M760 1051.2h2.5M785 1051.2h5M820 1051.2h5M905 1051.2h2.5M785 1053.8h5M822.5 1053.8h2.5M862.5 1053.8h2.5M882.5 1053.8h2.5M965 1053.8h7.5M692.5 1056.2h2.5M782.5 1056.2h5M792.5 1056.2h2.5M862.5 1056.2h5M885 1056.2h10M947.5 1056.2h5M955 1056.2h2.5M970 1056.2h5M687.5 1058.8h7.5M782.5 1058.8h5M792.5 1058.8h2.5M835 1058.8h5M865 1058.8h5M872.5 1058.8h2.5M887.5 1058.8h7.5M900 1058.8h2.5M947.5 1058.8h10M967.5 1058.8h7.5M690 1061.2h2.5M785 1061.2h2.5M835 1061.2h5M845 1061.2h2.5M875 1061.2h5M892.5 1061.2h10M952.5 1061.2h5M965 1061.2h7.5M765 1063.8h5M785 1063.8h2.5M837.5 1063.8h7.5M847.5 1063.8h5M877.5 1063.8h2.5M900 1063.8h2.5M955 1063.8h2.5M965 1063.8h5M762.5 1066.2h2.5M785 1066.2h2.5M837.5 1066.2h7.5M850 1066.2h2.5M960 1066.2h5M1022.5 1066.2h2.5M657.5 1068.8h2.5M762.5 1068.8h2.5M772.5 1068.8h2.5M785 1068.8h2.5M840 1068.8h5M850 1068.8h5M870 1068.8h2.5M962.5 1068.8h2.5M1025 1068.8h2.5M562.5 1071.2h2.5M655 1071.2h5M760 1071.2h7.5M772.5 1071.2h2.5M840 1071.2h2.5M962.5 1071.2h5M560 1073.8h2.5M650 1073.8h10M760 1073.8h2.5M772.5 1073.8h2.5M845 1073.8h2.5M962.5 1073.8h2.5M560 1076.2h2.5M647.5 1076.2h10M760 1076.2h2.5M770 1076.2h5M842.5 1076.2h2.5M560 1078.8h5M642.5 1078.8h12.5M707.5 1078.8h5M757.5 1078.8h2.5M770 1078.8h2.5M990 1078.8h2.5M557.5 1081.2h7.5M640 1081.2h10M702.5 1081.2h12.5M757.5 1081.2h2.5M767.5 1081.2h2.5M917.5 1081.2h7.5M557.5 1083.8h7.5M637.5 1083.8h10M700 1083.8h15M755 1083.8h2.5M920 1083.8h5M637.5 1086.2h2.5M702.5 1086.2h10M755 1086.2h2.5M765 1086.2h2.5M702.5 1088.8h10M755 1088.8h2.5M765 1088.8h2.5M907.5 1088.8h5M695 1091.2h15M725 1091.2h2.5M752.5 1091.2h2.5M762.5 1091.2h2.5M907.5 1091.2h7.5M695 1093.8h15M722.5 1093.8h5M752.5 1093.8h2.5M762.5 1093.8h2.5M855 1093.8h5M910 1093.8h5M695 1096.2h2.5M700 1096.2h10M715 1096.2h10M750 1096.2h5M855 1096.2h7.5M700 1098.8h10M715 1098.8h7.5M750 1098.8h2.5M855 1098.8h12.5M700 1101.2h7.5M715 1101.2h5M750 1101.2h2.5M827.5 1101.2h2.5M857.5 1101.2h10M697.5 1103.8h7.5M857.5 1103.8h10M900 1103.8h5M937.5 1103.8h5M987.5 1103.8h2.5M697.5 1106.2h7.5M707.5 1106.2h5M865 1106.2h2.5M897.5 1106.2h10M937.5 1106.2h10M985 1106.2h12.5M697.5 1108.8h5M897.5 1108.8h10M940 1108.8h10M977.5 1108.8h20M900 1111.2h7.5M942.5 1111.2h10M980 1111.2h22.5M767.5 1113.8h5M915 1113.8h2.5M925 1113.8h5M947.5 1113.8h5M990 1113.8h12.5M1020 1113.8h2.5M767.5 1116.2h5M832.5 1116.2h2.5M915 1116.2h20M945 1116.2h2.5M950 1116.2h2.5M765 1118.8h10M915 1118.8h20M945 1118.8h7.5M765 1121.2h10M785 1121.2h2.5M915 1121.2h22.5M945 1121.2h7.5M712.5 1123.8h2.5M765 1123.8h10M785 1123.8h2.5M917.5 1123.8h2.5M925 1123.8h15M947.5 1123.8h2.5M605 1126.2h2.5M765 1126.2h10M785 1126.2h2.5M917.5 1126.2h2.5M930 1126.2h10M602.5 1128.8h2.5M700 1128.8h2.5M767.5 1128.8h7.5M785 1128.8h2.5M917.5 1128.8h5M695 1131.2h7.5M920 1131.2h2.5M687.5 1133.8h12.5M735 1133.8h5M850 1133.8h2.5M920 1133.8h7.5M967.5 1133.8h5M692.5 1136.2h7.5M732.5 1136.2h5M852.5 1136.2h2.5M922.5 1136.2h5M967.5 1136.2h7.5M657.5 1138.8h7.5M732.5 1138.8h5M852.5 1138.8h5M967.5 1138.8h5M657.5 1141.2h12.5M852.5 1141.2h5M967.5 1141.2h5M657.5 1143.8h10M725 1143.8h5M662.5 1146.2h2.5M725 1146.2h2.5M957.5 1146.2h7.5M700 1148.8h2.5M725 1148.8h2.5M957.5 1148.8h10M700 1151.2h2.5M720 1151.2h5M955 1151.2h10M720 1153.8h7.5M955 1153.8h7.5M720 1156.2h5M952.5 1156.2h2.5M720 1158.8h5M717.5 1161.2h7.5M720 1163.8h5M670 1166.2h7.5M670 1168.8h5M670 1171.2h5M670 1173.8h2.5M765 1188.8h2.5M695 1191.2h2.5M762.5 1191.2h5M905 1191.2h2.5M692.5 1193.8h10M760 1193.8h5M905 1193.8h5M692.5 1196.2h10M742.5 1196.2h5M757.5 1196.2h7.5M905 1196.2h5M695 1198.8h10M742.5 1198.8h20M697.5 1201.2h7.5M742.5 1201.2h20M697.5 1203.8h7.5M745 1203.8h15M697.5 1206.2h2.5M747.5 1206.2h5M700 1208.8h2.5M660 1211.2h5M840 1223.8h2.5M840 1226.2h5M837.5 1228.8h10M835 1231.2h15M835 1233.8h15M810 1236.2h2.5M832.5 1236.2h12.5M810 1238.8h2.5M832.5 1238.8h7.5M810 1241.2h2.5M832.5 1241.2h5" stroke="#3585bc" stroke-width="2.65" fill="none"/><rect x="809.0" y="909.0" width="3" height="2.5" fill="#56f038"/><rect x="745.0" y="785.0" width="3" height="2.5" fill="#4ade34"/><rect x="748.0" y="827.0" width="3" height="2.5" fill="#36aa2a"/><rect x="795.0" y="995.0" width="3" height="2.5" fill="#4ade34"/><rect x="822.0" y="993.0" width="3" height="2.5" fill="#56f038"/><rect x="897.0" y="1000.0" width="3" height="2.5" fill="#4ade34"/><rect x="896.0" y="1015.0" width="3" height="2.5" fill="#2aacd8"/><rect x="775.0" y="1064.0" width="3" height="2.5" fill="#56f038"/><rect x="935.0" y="961.0" width="3" height="2.5" fill="#4ade34"/><rect x="865.0" y="889.0" width="3" height="2.5" fill="#4ade34"/><rect x="1055.0" y="1010.0" width="3" height="2.5" fill="#4ade34"/><rect x="1003" y="840" width="5" height="4" fill="#d8d230"/><rect x="1009" y="847" width="6" height="9" fill="#4ade34"/><rect x="1013" y="856" width="3" height="8" fill="#4ade34"/><rect x="1017" y="868" width="5" height="3" fill="#56f038"/><rect x="1027" y="868" width="4" height="3" fill="#56f038"/><rect x="1000" y="836" width="34" height="40" fill="#2f96cc" opacity="0.55"/><rect x="518" y="881" width="6" height="4" fill="#3a6fa5"/><rect x="572" y="902" width="5" height="3" fill="#3a6fa5"/><rect x="561" y="923" width="6" height="4" fill="#3a6fa5"/><rect x="513" y="922" width="7" height="7" fill="#3a6fa5"/><rect x="538" y="884" width="6" height="3" fill="#3a6fa5"/><rect x="520" y="908" width="7" height="3" fill="#3a6fa5"/><rect x="551" y="912" width="4" height="7" fill="#3a6fa5"/><rect x="513" y="898" width="7" height="3" fill="#3a6fa5"/><rect x="539" y="896" width="4" height="5" fill="#3a6fa5"/><rect x="509" y="881" width="4" height="6" fill="#3a6fa5"/><rect x="573" y="910" width="4" height="5" fill="#3a6fa5"/><rect x="509" y="900" width="6" height="4" fill="#3a6fa5"/><rect x="533" y="896" width="3" height="7" fill="#3a6fa5"/><rect x="561" y="885" width="5" height="8" fill="#3a6fa5"/><rect x="581" y="908" width="7" height="6" fill="#3a6fa5"/><rect x="564" y="912" width="4" height="6" fill="#3a6fa5"/><rect x="578" y="894" width="6" height="5" fill="#3a6fa5"/><rect x="557" y="895" width="5" height="7" fill="#3a6fa5"/><rect x="543" y="888" width="6" height="8" fill="#3a6fa5"/><rect x="506" y="882" width="7" height="4" fill="#3a6fa5"/><rect x="513" y="884" width="5" height="6" fill="#3a6fa5"/><rect x="504" y="909" width="5" height="5" fill="#3a6fa5"/><rect x="540" y="894" width="6" height="8" fill="#3a6fa5"/><rect x="526" y="882" width="8" height="4" fill="#3a6fa5"/><rect x="530" y="904" width="5" height="3" fill="#3a6fa5"/><rect x="520" y="893" width="4" height="6" fill="#3a6fa5"/><rect x="543" y="927" width="6" height="4" fill="#3a6fa5"/><rect x="589" y="905" width="5" height="3" fill="#3a6fa5"/><rect x="540" y="891" width="5" height="8" fill="#3a6fa5"/><rect x="541" y="915" width="5" height="6" fill="#3a6fa5"/><rect x="593" y="883" width="7" height="5" fill="#3a6fa5"/><rect x="510" y="886" width="6" height="6" fill="#3a6fa5"/><rect x="525" y="901" width="3" height="4" fill="#3a6fa5"/><rect x="564" y="906" width="3" height="4" fill="#3a6fa5"/><rect x="557" y="902" width="5" height="5" fill="#3a6fa5"/><rect x="531" y="911" width="7" height="8" fill="#3a6fa5"/><rect x="540" y="880" width="5" height="7" fill="#3a6fa5"/><rect x="510" y="919" width="6" height="7" fill="#3a6fa5"/><rect x="528" y="893" width="5" height="3" fill="#3a6fa5"/><rect x="533" y="896" width="5" height="7" fill="#3a6fa5"/><rect x="524" y="1032" width="5" height="6" fill="#3a6fa5"/><rect x="497" y="1004" width="6" height="5" fill="#3a6fa5"/><rect x="486" y="1059" width="6" height="6" fill="#3a6fa5"/><rect x="538" y="1040" width="7" height="8" fill="#3a6fa5"/><rect x="512" y="1019" width="4" height="3" fill="#3a6fa5"/><rect x="519" y="1056" width="7" height="4" fill="#3a6fa5"/><rect x="501" y="1081" width="4" height="6" fill="#3a6fa5"/><rect x="521" y="1014" width="5" height="4" fill="#3a6fa5"/><rect x="503" y="1015" width="4" height="7" fill="#3a6fa5"/><rect x="520" y="960" width="5" height="3" fill="#3a6fa5"/><rect x="509" y="937" width="4" height="3" fill="#3a6fa5"/><rect x="544" y="970" width="5" height="6" fill="#3a6fa5"/><rect x="506" y="994" width="4" height="6" fill="#3a6fa5"/><rect x="537" y="1010" width="7" height="5" fill="#3a6fa5"/><rect x="518" y="974" width="6" height="6" fill="#3a6fa5"/><rect x="575" y="994" width="7" height="5" fill="#3a6fa5"/><rect x="516" y="1035" width="5" height="7" fill="#3a6fa5"/><rect x="537" y="928" width="5" height="3" fill="#3a6fa5"/><rect x="515" y="967" width="3" height="6" fill="#3a6fa5"/><rect x="534" y="1014" width="4" height="8" fill="#3a6fa5"/><rect x="519" y="1040" width="5" height="7" fill="#3a6fa5"/><rect x="517" y="961" width="8" height="6" fill="#3a6fa5"/><rect x="522" y="973" width="4" height="7" fill="#3a6fa5"/><rect x="513" y="989" width="6" height="4" fill="#3a6fa5"/><rect x="526" y="1029" width="7" height="4" fill="#3a6fa5"/><rect x="584" y="1090" width="5" height="6" fill="#3a6fa5"/><rect x="551" y="1116" width="5" height="3" fill="#3a6fa5"/><rect x="507" y="1136" width="6" height="6" fill="#3a6fa5"/><rect x="520" y="1152" width="7" height="4" fill="#3a6fa5"/><rect x="549" y="1103" width="5" height="8" fill="#3a6fa5"/><rect x="555" y="1092" width="5" height="5" fill="#3a6fa5"/><rect x="559" y="1102" width="6" height="4" fill="#3a6fa5"/><rect x="515" y="1116" width="5" height="7" fill="#3a6fa5"/><rect x="562" y="1071" width="4" height="6" fill="#3a6fa5"/><rect x="533" y="1074" width="3" height="3" fill="#3a6fa5"/><rect x="542" y="1055" width="7" height="4" fill="#3a6fa5"/><rect x="596" y="1098" width="3" height="3" fill="#3a6fa5"/><rect x="574" y="1127" width="3" height="8" fill="#3a6fa5"/><rect x="623" y="1094" width="6" height="4" fill="#3a6fa5"/><rect x="518" y="1081" width="6" height="6" fill="#3a6fa5"/><rect x="576" y="1022" width="8" height="6" fill="#3a6fa5"/><rect x="591" y="1116" width="6" height="5" fill="#3a6fa5"/><rect x="576" y="1102" width="5" height="6" fill="#3a6fa5"/><rect x="538" y="1079" width="4" height="4" fill="#3a6fa5"/><rect x="550" y="1126" width="4" height="6" fill="#3a6fa5"/><rect x="616" y="1101" width="5" height="6" fill="#3a6fa5"/><rect x="599" y="1122" width="6" height="6" fill="#3a6fa5"/><rect x="549" y="1054" width="3" height="4" fill="#3a6fa5"/><rect x="510" y="1106" width="4" height="3" fill="#3a6fa5"/><rect x="531" y="1084" width="3" height="4" fill="#3a6fa5"/><rect x="558" y="1087" width="7" height="8" fill="#3a6fa5"/><rect x="571" y="1080" width="3" height="5" fill="#3a6fa5"/><rect x="554" y="1099" width="7" height="7" fill="#3a6fa5"/><rect x="570" y="1110" width="4" height="8" fill="#3a6fa5"/><rect x="567" y="1100" width="4" height="6" fill="#3a6fa5"/><rect x="579" y="1185" width="3" height="4" fill="#3a6fa5"/><rect x="631" y="1155" width="7" height="6" fill="#3a6fa5"/><rect x="587" y="1220" width="6" height="6" fill="#3a6fa5"/><rect x="629" y="1192" width="4" height="5" fill="#3a6fa5"/><rect x="628" y="1140" width="4" height="7" fill="#3a6fa5"/><rect x="576" y="1169" width="8" height="3" fill="#3a6fa5"/><rect x="562" y="1218" width="5" height="4" fill="#3a6fa5"/><rect x="663" y="1199" width="4" height="4" fill="#3a6fa5"/><rect x="587" y="1163" width="8" height="7" fill="#3a6fa5"/><rect x="633" y="1176" width="7" height="5" fill="#3a6fa5"/><rect x="639" y="1213" width="3" height="6" fill="#3a6fa5"/><rect x="644" y="1192" width="6" height="6" fill="#3a6fa5"/><rect x="587" y="1155" width="3" height="4" fill="#3a6fa5"/><rect x="645" y="1179" width="4" height="7" fill="#3a6fa5"/><rect x="599" y="1210" width="4" height="6" fill="#3a6fa5"/><rect x="624" y="1149" width="7" height="7" fill="#3a6fa5"/><rect x="643" y="1186" width="6" height="4" fill="#3a6fa5"/><rect x="629" y="1209" width="7" height="5" fill="#3a6fa5"/><rect x="629" y="1197" width="3" height="4" fill="#3a6fa5"/><rect x="563" y="1176" width="7" height="6" fill="#3a6fa5"/><rect x="583" y="1151" width="6" height="3" fill="#3a6fa5"/><rect x="565" y="1152" width="3" height="3" fill="#3a6fa5"/><rect x="662" y="1177" width="7" height="4" fill="#3a6fa5"/><rect x="661" y="1190" width="6" height="7" fill="#3a6fa5"/><rect x="545" y="1143" width="7" height="5" fill="#3a6fa5"/><rect x="810" y="1258" width="7" height="5" fill="#3a6fa5"/><rect x="754" y="1255" width="4" height="4" fill="#3a6fa5"/><rect x="808" y="1246" width="4" height="5" fill="#3a6fa5"/><rect x="804" y="1266" width="4" height="6" fill="#3a6fa5"/><rect x="815" y="1261" width="5" height="4" fill="#3a6fa5"/><rect x="823" y="1239" width="4" height="7" fill="#3a6fa5"/><rect x="748" y="1239" width="5" height="5" fill="#3a6fa5"/><rect x="672" y="1251" width="6" height="3" fill="#3a6fa5"/><rect x="801" y="1255" width="5" height="5" fill="#3a6fa5"/><rect x="780" y="1239" width="5" height="3" fill="#3a6fa5"/><rect x="732" y="1230" width="4" height="3" fill="#3a6fa5"/><rect x="780" y="1249" width="6" height="5" fill="#3a6fa5"/><rect x="709" y="1252" width="3" height="5" fill="#3a6fa5"/><rect x="748" y="1241" width="3" height="3" fill="#3a6fa5"/><rect x="835" y="1266" width="4" height="3" fill="#3a6fa5"/><rect x="743" y="1243" width="6" height="6" fill="#3a6fa5"/><rect x="691" y="1202" width="5" height="6" fill="#3a6fa5"/><rect x="700" y="1226" width="6" height="3" fill="#3a6fa5"/><rect x="701" y="1244" width="5" height="4" fill="#3a6fa5"/><rect x="684" y="1215" width="4" height="5" fill="#3a6fa5"/><rect x="672" y="1234" width="6" height="4" fill="#3a6fa5"/><rect x="615" y="1225" width="7" height="6" fill="#3a6fa5"/><rect x="665" y="1184" width="6" height="3" fill="#3a6fa5"/><rect x="691" y="1226" width="6" height="4" fill="#3a6fa5"/><rect x="681" y="1227" width="4" height="3" fill="#3a6fa5"/><rect x="736" y="1210" width="4" height="6" fill="#3a6fa5"/><rect x="656" y="1197" width="6" height="4" fill="#3a6fa5"/><rect x="667" y="1236" width="5" height="4" fill="#3a6fa5"/><rect x="687" y="1241" width="6" height="5" fill="#3a6fa5"/><rect x="717" y="1229" width="5" height="3" fill="#3a6fa5"/><rect x="713" y="1213" width="3" height="5" fill="#3a6fa5"/><rect x="681" y="1258" width="3" height="5" fill="#3a6fa5"/><rect x="780" y="1294" width="4" height="4" fill="#3a6fa5"/><rect x="798" y="1292" width="4" height="7" fill="#3a6fa5"/><rect x="738" y="1308" width="5" height="6" fill="#3a6fa5"/><rect x="898" y="1312" width="4" height="7" fill="#3a6fa5"/><rect x="1037" y="1099" width="3" height="5" fill="#3a78b0"/><rect x="1082" y="1104" width="5" height="6" fill="#3a78b0"/><rect x="1105" y="1074" width="8" height="6" fill="#3a78b0"/><rect x="1051" y="1131" width="8" height="5" fill="#3a78b0"/><rect x="1113" y="1133" width="4" height="5" fill="#3a78b0"/><rect x="1142" y="1083" width="4" height="4" fill="#3a78b0"/><rect x="1120" y="1096" width="5" height="6" fill="#3a78b0"/><rect x="1094" y="1072" width="6" height="5" fill="#3a78b0"/><rect x="1058" y="1079" width="5" height="5" fill="#3a78b0"/><rect x="1081" y="1082" width="3" height="3" fill="#3a78b0"/><rect x="1054" y="1085" width="7" height="6" fill="#3a78b0"/><rect x="1065" y="1063" width="5" height="6" fill="#3a78b0"/><rect x="704" y="698" width="3" height="3" fill="#3a6fa5"/><rect x="636" y="697" width="4" height="7" fill="#3a6fa5"/><rect x="665" y="746" width="7" height="5" fill="#3a6fa5"/><rect x="688" y="656" width="8" height="4" fill="#3a6fa5"/><rect x="647" y="692" width="6" height="6" fill="#3a6fa5"/><rect x="592" y="648" width="4" height="8" fill="#3a6fa5"/><rect x="571" y="713" width="6" height="4" fill="#3a6fa5"/><rect x="633" y="684" width="3" height="3" fill="#3a6fa5"/><rect x="1097" y="855" width="8" height="5" fill="#3a78b0"/><rect x="1115" y="821" width="4" height="5" fill="#3a78b0"/><rect x="1096" y="811" width="4" height="3" fill="#3a78b0"/><rect x="1114" y="831" width="6" height="5" fill="#3a78b0"/><rect x="1122" y="852" width="5" height="4" fill="#3a78b0"/><rect x="408" y="1112" width="6" height="5" fill="#3a78b0"/><rect x="411" y="1061" width="7" height="8" fill="#3a78b0"/><rect x="399" y="1135" width="8" height="6" fill="#3a78b0"/><rect x="376" y="1113" width="6" height="4" fill="#3a78b0"/><rect x="374" y="1090" width="6" height="7" fill="#3a78b0"/><rect x="417" y="1182" width="4" height="7" fill="#3a78b0"/><rect x="398" y="1104" width="5" height="7" fill="#3a78b0"/><rect x="397" y="1057" width="8" height="7" fill="#3a78b0"/><rect x="377" y="1123" width="8" height="8" fill="#3a78b0"/><rect x="406" y="1107" width="4" height="8" fill="#3a78b0"/><rect x="469" y="1051" width="6" height="5" fill="#3a78b0"/><rect x="459" y="1073" width="7" height="6" fill="#3a78b0"/><rect x="471" y="1048" width="7" height="4" fill="#3a78b0"/><rect x="474" y="1068" width="5" height="7" fill="#3a78b0"/><rect x="463" y="1042" width="6" height="5" fill="#3a78b0"/><rect x="434" y="1052" width="6" height="6" fill="#3a78b0"/><rect x="1010" y="783" width="3" height="6" fill="#3a78b0"/><rect x="992" y="774" width="6" height="4" fill="#3a78b0"/><rect x="969" y="808" width="5" height="5" fill="#3a78b0"/><rect x="1015" y="800" width="6" height="3" fill="#3a78b0"/><rect x="980" y="785" width="6" height="4" fill="#3a78b0"/><polygon points="445.1,343.6 455.2,341.1 460.2,335.2 468.6,331.0 473.6,328.5 480.4,325.1 491.2,323.5 495.4,319.3 503.0,321.0 505.5,328.5 512.2,328.5 518.9,328.5 522.3,333.5 520.6,340.2 516.4,346.9 517.2,355.3 521.4,362.0 521.4,370.4 513.0,372.9 515.6,380.5 518.9,390.5 523.1,394.7 522.3,402.3 515.6,404.8 508.9,404.8 500.5,408.1 498.0,412.3 492.9,413.2 492.9,421.5 487.1,424.9 482.0,421.5 482.9,413.2 478.7,408.1 472.0,403.1 472.8,394.7 478.7,383.8 473.6,380.5 466.9,369.6 458.6,372.1 453.5,367.1 448.5,358.7 445.1,352.0" fill="#2a94c6"/><polygon points="480.4,328.5 492.1,325.1 500.5,327.7 502.1,338.6 495.4,346.9 485.4,346.9 480.4,338.6" fill="#26a2d2"/><polygon points="456.0,364.5 463.6,362.0 478.7,362.0 483.7,373.8 482.0,382.1 474.5,378.8 468.6,369.6 459.4,371.2" fill="#3088c0"/><polygon points="509.7,360.4 520.6,362.0 520.6,369.6 513.0,372.1" fill="#3088c0"/><polygon points="506.3,380.5 514.7,380.5 518.1,390.5 510.5,392.2 504.7,387.2" fill="#3088c0"/><polygon points="489.6,398.1 508.9,394.7 514.7,403.9 500.5,408.1 498.0,412.3 492.9,413.2 492.9,421.5 487.1,424.9 482.0,421.5 482.9,413.2" fill="#3088c0"/><polygon points="917.2,384.2 923.5,380.3 929.7,382.6 934.4,377.1 940.7,377.9 945.4,371.6 953.2,372.4 959.5,369.3 965.7,373.2 966.5,377.9 973.6,378.7 976.2,384.2 973.6,388.9 965.7,390.4 951.6,388.9 950.1,392.8 939.1,394.3 937.6,404.5 931.3,407.6 924.3,404.5 925.0,393.6 918.8,391.2" fill="#2f8fc6"/><polygon points="940.7,379.5 946.9,373.2 962.6,373.2 964.2,382.6 950.1,387.3 941.5,387.3" fill="#2a9ace"/><polygon points="1085.4,351.3 1092.5,347.4 1095.6,332.5 1101.9,327.8 1108.1,329.4 1111.3,334.1 1119.1,335.6 1125.4,334.9 1131.6,338.8 1141.0,341.9 1145.7,348.2 1153.5,349.7 1155.1,359.1 1150.4,368.5 1144.1,374.0 1134.7,374.0 1130.0,378.7 1122.2,380.3 1116.0,376.3 1109.7,377.1 1103.4,370.1 1095.6,365.4 1092.5,359.1" fill="#2a94c6"/><polygon points="1112.8,351.3 1119.1,345.0 1137.9,346.6 1142.6,356.0 1134.7,366.9 1125.4,368.5 1114.4,363.8" fill="#26a2d2"/><polygon points="1129.3,421.7 1134.7,412.3 1141.0,410.0 1147.3,413.1 1153.5,407.6 1161.3,409.2 1169.2,406.1 1177.0,409.2 1180.1,413.9 1186.4,417.0 1187.9,423.3 1181.7,432.7 1175.4,440.5 1166.0,438.9 1158.2,442.1 1150.4,437.4 1142.6,434.2 1134.7,429.5" fill="#2a94c6"/><polygon points="307.5,1276.8 313.7,1270.5 324.3,1262.6 333.2,1264.3 340.3,1267.0 350.9,1268.8 358.0,1267.9 368.7,1271.4 379.3,1273.2 390.0,1275.0 404.2,1275.0 414.8,1267.9 427.2,1266.1 429.0,1258.1 436.1,1256.4 439.6,1264.3 445.0,1271.4 450.3,1278.5 457.4,1284.7 464.5,1282.1 466.2,1276.8 473.3,1278.5 482.2,1280.3 491.1,1278.5 492.8,1273.2 499.9,1273.2 508.8,1276.8 515.9,1275.0 528.3,1276.8 533.6,1271.4 544.3,1270.5 553.1,1266.1 558.5,1262.6 570.9,1259.9 581.5,1261.7 588.6,1269.7 595.7,1278.5 597.5,1287.4 593.9,1292.7 581.5,1294.5 570.9,1292.7 565.6,1298.0 556.7,1301.6 556.7,1308.7 553.1,1314.0 558.5,1321.1 570.9,1324.6 585.1,1326.4 592.2,1328.2 590.4,1334.4 581.5,1335.3 572.7,1337.1 563.8,1342.4 563.8,1351.3 553.1,1354.8 542.5,1353.0 528.3,1353.9 517.7,1351.3 508.8,1347.7 492.8,1347.7 482.2,1344.2 471.6,1342.4 457.4,1341.5 446.7,1340.6 436.1,1337.1 421.9,1336.2 411.3,1333.5 400.6,1329.1 390.0,1326.4 379.3,1328.2 372.2,1324.6 365.1,1322.0 358.0,1318.4 350.9,1312.2 343.9,1305.1 333.2,1298.0 322.6,1294.5 311.9,1290.9 308.4,1283.9" fill="#3382be"/><polygon points="492.8,1278.5 528.3,1278.5 556.7,1267.9 581.5,1264.3 593.9,1280.3 581.5,1292.7 563.8,1296.3 553.1,1312.2 567.3,1326.4 556.7,1344.2 528.3,1351.3 510.6,1335.3 517.7,1319.3 501.7,1298.0" fill="#3a7ab2"/><polygon points="320.8,1271.4 336.8,1267.9 361.6,1273.2 379.3,1280.3 386.4,1294.5 379.3,1308.7 363.4,1312.2 347.4,1303.4 333.2,1294.5 320.8,1285.6" fill="#2a94c6"/><polygon points="327.9,1276.8 340.3,1273.2 354.5,1280.3 368.7,1290.9 375.8,1303.4 363.4,1306.9 350.9,1298.0 336.8,1290.9" fill="#29a6d8"/><polygon points="400.6,1315.8 421.9,1319.3 450.3,1324.6 468.0,1333.5 457.4,1338.8 436.1,1335.3 414.8,1330.0 400.6,1324.6" fill="#2a94c6"/><polygon points="339.4,1288.3 343.9,1284.2 350.1,1284.7 351.8,1289.5 347.4,1291.8 341.2,1291.3" fill="#4ade34"/><polygon points="354.5,1296.3 358.9,1294.1 363.4,1297.2 364.2,1301.9 359.8,1303.7 355.4,1300.7" fill="#4ade34"/><polygon points="465.3,1311.3 469.8,1309.6 476.9,1314.0 482.2,1319.3 475.1,1321.1 468.0,1316.7" fill="#1a1a1a"/><polygon points="489.3,1315.8 496.4,1316.7 501.7,1322.9 512.4,1324.6 512.4,1326.4 499.9,1326.4 492.8,1322.9" fill="#1a1a1a"/><polygon points="528.3,1312.2 537.2,1310.5 542.5,1306.9 547.8,1306.9 553.1,1315.8 558.5,1321.1 546.1,1319.3 535.4,1317.6" fill="#1a1a1a"/><polygon points="290.6,1285.6 294.2,1281.2 301.3,1279.4 305.7,1283.9 304.8,1290.1 296.0,1292.7 291.5,1290.1" fill="#3088c0"/><polygon points="280.0,1271.4 282.7,1273.2 282.7,1276.8 280.0,1277.6" fill="#3088c0"/><ellipse cx="275.0" cy="1271.5" rx="8.5" ry="11.0" fill="#3088c0"/><ellipse cx="393.0" cy="1193.0" rx="16.0" ry="5.0" fill="#3382be"/><ellipse cx="402.0" cy="1198.0" rx="8.0" ry="5.0" fill="#2a94c6"/><ellipse cx="1440.0" cy="1150.0" rx="5.5" ry="5.5" fill="#2a94c6"/><ellipse cx="1279.0" cy="1256.0" rx="4.5" ry="4.5" fill="#2aa4d4"/><ellipse cx="409.0" cy="1536.0" rx="6.3" ry="6.3" fill="#2aa4d4"/><ellipse cx="1095.0" cy="668.0" rx="3.5" ry="3.5" fill="#3382be"/><ellipse cx="990.0" cy="720.0" rx="3.0" ry="3.0" fill="#3382be"/><ellipse cx="1155.0" cy="1013.0" rx="3.5" ry="3.5" fill="#2a94c6"/><ellipse cx="340.0" cy="1167.0" rx="4.0" ry="4.0" fill="#3382be"/><ellipse cx="377.0" cy="1133.0" rx="4.0" ry="4.0" fill="#3382be"/><ellipse cx="320.0" cy="1146.0" rx="4.0" ry="4.0" fill="#3382be"/><ellipse cx="362.0" cy="1184.0" rx="3.5" ry="3.5" fill="#3382be"/><ellipse cx="1158.0" cy="1016.0" rx="3.0" ry="3.0" fill="#2a94c6"/><ellipse cx="1108.0" cy="826.0" rx="3.5" ry="3.5" fill="#3a78b0"/><ellipse cx="1130.0" cy="818.0" rx="3.0" ry="3.0" fill="#3a78b0"/><rect x="1344" y="949" width="5" height="5" fill="#2a94c6"/><rect x="1322" y="962" width="3" height="9" fill="#3a78b0"/><ellipse cx="1067" cy="1262" rx="4" ry="9" transform="rotate(35 1067 1262)" fill="#2a8420"/><ellipse cx="1068" cy="1262" rx="3.2" ry="3.4" fill="#dc7e14"/><rect x="1072" y="1251" width="3" height="3" fill="#2a94c6"/>
<path class="wl" d="M539.5 218.0 C541.7 219.0 548.0 221.6 552.0 223.8 C556.1 225.9 558.9 227.1 562.1 230.1 C565.3 233.0 567.8 236.0 569.6 240.1 C571.4 244.2 572.4 248.6 572.1 252.7 C571.9 256.8 569.7 259.6 568.4 262.7 C567.0 265.9 564.4 267.6 564.6 270.3 C564.8 273.0 569.2 275.1 569.6 277.8 C570.1 280.5 568.9 283.1 567.1 285.4 C565.3 287.6 561.8 287.7 559.6 290.4 C557.3 293.1 556.8 298.0 554.5 300.5 C552.3 303.0 549.7 305.1 547.0 304.2 C544.3 303.3 542.2 296.1 539.5 295.4 C536.7 294.8 532.4 297.7 531.9 300.5 C531.5 303.2 537.4 307.4 536.9 310.5 C536.5 313.7 532.6 317.6 529.4 318.1 C526.2 318.5 522.5 313.0 519.3 313.0 C516.2 313.0 514.3 315.3 511.8 318.1 C509.3 320.8 506.0 325.0 505.5 328.1 C505.1 331.3 506.8 334.1 509.3 335.7 C511.8 337.2 517.5 335.6 519.3 336.9 C521.1 338.3 521.1 340.7 519.3 343.2 C517.5 345.7 512.9 348.7 509.3 350.8 C505.7 352.8 502.8 354.5 499.2 354.5 C495.6 354.5 491.2 349.6 489.2 350.8 C487.1 351.9 487.0 357.6 487.9 360.8 C488.8 364.0 492.6 365.6 494.2 368.4 C495.8 371.1 497.6 373.2 496.7 375.9 C495.8 378.6 492.3 381.2 489.2 383.4 C486.0 385.7 481.6 386.2 479.1 388.5 C476.6 390.7 474.9 393.3 475.3 396.0 C475.8 398.7 480.9 400.8 481.6 403.6 C482.3 406.3 481.4 408.4 479.1 411.1 C476.8 413.8 471.3 416.2 469.0 418.6 C466.8 421.1 465.6 422.9 466.5 424.9 C467.4 427.0 471.6 427.9 474.1 430.0 C476.6 432.0 479.0 434.0 480.4 436.2 C481.7 438.5 483.2 441.2 481.6 442.5 C480.0 443.9 475.2 442.7 471.6 443.8 C467.9 444.9 465.1 446.3 461.5 448.8 C457.9 451.3 455.5 454.7 451.4 457.6 C447.4 460.6 443.4 462.7 438.9 465.2 C434.3 467.6 430.8 469.2 426.3 471.4 C421.8 473.7 417.8 475.0 413.7 477.7 C409.7 480.4 406.4 483.1 403.7 486.5 C401.0 489.9 400.0 493.4 398.6 496.6 C397.3 499.8 395.2 501.4 396.1 504.1 C397.0 506.8 403.2 509.0 403.7 511.7 C404.1 514.4 401.6 516.7 398.6 519.2 C395.7 521.7 389.8 522.8 387.3 525.5 C384.8 528.2 384.8 530.5 384.8 534.3 C384.8 538.2 387.3 542.8 387.3 546.9 C387.3 551.0 386.8 553.8 384.8 556.9 C382.8 560.1 379.0 561.8 376.0 564.5 C373.1 567.2 369.6 568.9 368.5 572.0 C367.3 575.2 367.9 578.7 369.7 582.1 C371.5 585.5 377.4 588.2 378.5 590.9 C379.7 593.6 378.3 595.6 376.0 597.2 C373.7 598.8 367.5 597.9 366.0 599.7 C364.4 601.5 366.1 604.5 367.2 607.2 C368.3 609.9 372.0 612.1 372.2 614.8 C372.5 617.5 368.2 619.1 368.5 622.3 C368.7 625.5 371.9 628.8 373.5 632.4 C375.1 636.0 376.4 638.8 377.3 642.4 C378.2 646.0 377.8 649.3 378.5 652.5 C379.2 655.7 382.4 658.4 381.0 660.0 C379.7 661.6 375.1 660.8 371.0 661.3 C366.9 661.7 360.9 660.5 358.4 662.5 C355.9 664.6 356.5 668.5 357.2 672.6 C357.8 676.7 362.0 681.1 362.2 685.2 C362.4 689.2 360.5 693.0 358.4 695.2 C356.3 697.5 351.8 697.3 350.4 697.7"/>
<path class="wl" d="M350.3 696.1 C350.0 698.6 351.4 705.6 348.6 709.6 C345.9 713.5 336.7 714.0 335.2 717.9 C333.7 721.9 342.7 727.7 340.3 731.3 C337.8 735.0 330.6 734.1 321.8 738.0 C313.1 742.0 296.5 747.4 291.7 753.1 C286.8 758.9 296.2 765.7 295.0 769.9 C293.8 774.1 286.5 773.6 284.9 776.6 C283.4 779.6 287.2 783.0 286.6 786.7 C286.0 790.3 284.9 795.2 281.6 796.7 C278.3 798.2 270.6 792.0 268.2 795.0 C265.8 798.1 272.4 809.0 268.2 813.5 C264.0 818.0 250.2 815.1 244.7 820.2 C239.3 825.3 239.2 838.0 238.0 842.0"/>
<path class="wl7" d="M18.4 555.3 L31.8 553.7 L46.9 562.1 L65.4 553.7 L72.1 545.3 L83.8 545.3 L88.8 555.3 L107.3 567.1 L127.4 568.8 L140.8 575.5 L149.2 588.9 L160.9 598.9 L171.0 600.6 L176.0 614.0 L191.1 619.0 L201.1 627.4 L206.2 642.5 L222.9 642.5 L228.0 655.9 L241.4 666.0 L259.8 674.4 L264.8 687.8 L278.2 699.5 L291.7 716.3 L311.8 724.6 L321.8 733.0 L335.2 733.0"/>
<path class="gl" d="M20.8 231.8 L33.5 220.8"/>
<path class="gl" d="M192.8 220.8 L246.4 257.0"/>
<path class="gl" d="M317.8 218.4 L317.8 230.2 L246.4 231.8 L246.4 257.0 L248.1 295.5 L248.7 362.6 L149.2 364.3 L150.9 501.7"/>
<path class="gl" d="M248.1 295.5 L367.1 296.2 L367.1 287.2 L375.5 292.2 L387.2 287.8 L398.9 292.2 L419.0 300.6 L425.7 310.6 L425.1 320.7 L432.5 332.4 L449.2 340.8 L466.0 345.8 L486.1 349.2"/>
<path class="gl" d="M135.8 568.8 L135.8 504.4 L202.8 501.7 L202.8 493.3 L261.5 493.3 L261.5 496.7 L280.9 497.4 L282.3 555.3 L331.9 557.0 L355.3 555.3 L370.4 568.8"/>
<path class="gl" d="M382.2 625.7 L388.9 639.2 L377.1 649.2"/>
<path class="gl" d="M224.6 647.5 L164.3 709.6 L157.6 706.2 L145.8 711.2 L145.8 813.5 L148.5 818.5"/>
<path class="gl" d="M18.4 717.9 L68.7 716.3 L70.4 722.3 L83.8 722.3 L84.5 738.0 L80.5 739.7 L80.5 749.8 L124.0 792.7 L80.5 842.0"/>
<path class="gl" d="M80.5 739.7 L145.8 738.0"/>
<path class="gl" d="M80.5 749.8 L40.2 790.0 L40.2 780.0 L25.1 780.0 L23.5 795.0 L18.4 795.0"/>
<path class="ol" d="M75.4 218.4 L345.3 339.1 L355.3 218.4"/>
<path class="ol" d="M18.4 353.2 L28.5 353.2 L63.7 479.2 L18.4 494.0"/>
<path class="wl" d="M1275.3 759.2 C1278.9 761.1 1287.9 769.2 1295.4 769.9 C1303.0 770.6 1312.7 766.2 1317.2 763.2 C1321.8 760.2 1321.2 757.4 1320.6 753.1 C1320.0 748.9 1312.1 744.6 1313.9 739.7 C1315.7 734.9 1324.3 731.1 1330.6 726.3 C1337.0 721.5 1342.4 715.9 1349.1 712.9 C1355.7 709.9 1362.4 712.6 1367.5 709.6 C1372.6 706.5 1375.8 701.6 1377.6 696.1 C1379.4 690.7 1374.6 684.5 1377.6 679.4 C1380.6 674.3 1388.3 669.5 1394.3 667.7 C1400.4 665.8 1406.3 670.2 1411.1 669.3 C1415.9 668.4 1418.4 667.4 1421.2 662.6 C1423.9 657.8 1426.2 648.5 1426.2 642.5 C1426.2 636.5 1420.2 633.9 1421.2 629.1 C1422.1 624.3 1427.0 620.5 1431.2 615.7 C1435.4 610.9 1440.7 607.7 1444.6 602.3 C1448.5 596.8 1451.2 591.3 1453.0 585.5 C1454.8 579.8 1452.3 576.5 1454.7 570.4 C1457.1 564.4 1463.4 557.1 1466.4 552.0 C1469.4 546.9 1472.3 545.6 1471.4 541.9 C1470.5 538.3 1462.3 535.5 1461.4 531.9 C1460.5 528.3 1463.1 525.1 1466.4 521.8 C1469.7 518.5 1478.6 517.1 1479.8 513.4 C1481.0 509.8 1476.1 505.6 1473.1 501.7 C1470.1 497.8 1464.0 495.9 1463.1 491.7 C1462.1 487.4 1466.3 483.1 1468.1 478.2 C1469.9 473.4 1473.1 469.7 1473.1 464.8 C1473.1 460.0 1469.9 455.6 1468.1 451.4 C1466.3 447.2 1463.1 445.0 1463.1 441.4 C1463.1 437.7 1464.8 433.1 1468.1 431.3 C1471.4 429.5 1478.5 433.1 1481.5 431.3 C1484.5 429.5 1485.1 424.9 1484.8 421.3 C1484.5 417.6 1479.5 416.0 1479.8 411.2 C1480.1 406.4 1484.1 399.6 1486.5 394.4 C1488.9 389.3 1493.2 386.9 1493.2 382.7 C1493.2 378.5 1488.6 375.5 1486.5 371.0 C1484.4 366.4 1483.3 362.4 1481.5 357.6 C1479.7 352.7 1478.3 349.0 1476.5 344.2 C1474.7 339.3 1470.5 334.4 1471.4 330.7 C1472.3 327.1 1477.9 325.2 1481.5 324.0 C1485.1 322.8 1489.7 327.1 1491.5 324.0 C1493.4 321.0 1490.0 310.6 1491.5 307.3 C1493.1 304.0 1496.9 306.5 1499.9 305.6 C1502.9 304.7 1506.2 301.3 1508.3 302.2 C1510.4 303.2 1509.2 309.4 1511.7 310.6 C1514.1 311.8 1518.1 307.4 1521.7 309.0 C1525.3 310.5 1528.5 314.5 1531.8 319.0 C1535.1 323.5 1538.3 332.9 1540.2 334.1 C1542.0 335.3 1539.1 328.7 1541.8 325.7 C1544.5 322.7 1552.5 321.0 1555.2 317.3 C1558.0 313.7 1553.9 307.7 1556.9 305.6 C1559.9 303.5 1569.3 305.6 1572.0 305.6"/>
<path class="wl2" d="M1499.9 218.4 C1497.8 222.4 1490.6 232.7 1488.2 240.2 C1485.8 247.8 1485.6 253.1 1486.5 260.3 C1487.4 267.6 1492.3 273.8 1493.2 280.5 C1494.1 287.1 1491.2 292.7 1491.5 297.2 C1491.9 301.7 1494.3 304.1 1494.9 305.6"/>
<path class="gj" d="M1469.8 495.0 L1478.1 496.7 L1491.5 488.3 L1508.3 496.7 L1525.1 490.0 L1538.5 491.7 L1540.2 483.3 L1572.0 489.0"/>
<path class="gj" d="M1451.3 595.6 L1464.7 602.3 L1474.8 614.0 L1491.5 602.3 L1511.7 614.0 L1525.1 617.4 L1541.8 619.0 L1572.0 611.7"/>
<path class="gl" d="M1421.2 666.0 L1463.1 769.9 L1449.6 774.9 L1444.6 761.5 L1434.6 764.9 L1441.3 796.7 L1424.5 786.7 L1414.4 778.3 L1394.3 776.6 L1389.3 790.0 L1392.7 800.1 L1367.5 815.2 L1357.5 803.4 L1327.3 801.7 L1310.5 800.1 L1297.1 773.2"/>
<path class="gl" d="M1327.3 801.7 L1326.6 842.0"/>
<path class="gl" d="M1572.0 671.0 L1541.8 686.1 L1535.1 694.5 L1525.1 706.2 L1499.9 724.6 L1505.0 733.0 L1491.5 749.8 L1463.1 769.9"/>
<path class="gl" d="M1478.1 763.2 L1498.3 813.5 L1511.7 813.5 L1515.0 826.9 L1511.7 842.0"/>
<path class="wl7" d="M254.0 891.7 C256.2 890.5 262.0 888.1 266.5 885.4 C271.1 882.7 274.6 878.8 279.1 876.6 C283.6 874.3 286.2 873.3 291.7 872.8 C297.1 872.4 303.4 873.2 309.3 874.1 C315.2 875.0 319.4 878.5 324.4 877.8 C329.3 877.2 332.0 872.1 336.9 870.3 C341.9 868.5 345.7 868.5 352.0 867.8 C358.4 867.1 364.9 866.5 372.1 866.5 C379.4 866.5 385.0 867.3 392.3 867.8 C399.5 868.2 405.1 868.6 412.4 869.0 C419.6 869.5 425.2 870.3 432.5 870.3 C439.7 870.3 446.7 868.8 452.6 869.0 C458.5 869.3 460.0 870.6 465.2 871.5 C470.4 872.5 478.6 873.6 481.5 874.1"/>
<path class="wl" d="M266.5 818.7 C262.9 819.6 251.6 820.8 246.4 823.8 C241.2 826.7 238.7 831.2 237.6 835.1 C236.5 838.9 237.6 842.0 240.1 845.1 C242.6 848.3 248.3 849.5 251.4 852.7 C254.6 855.9 256.8 858.9 257.7 862.7 C258.6 866.6 257.6 870.0 256.5 874.1 C255.3 878.1 251.9 882.2 251.4 885.4 C251.0 888.5 255.8 889.4 254.0 891.7 C252.1 893.9 246.4 895.7 241.4 897.9 C236.4 900.2 231.7 902.4 226.3 904.2 C220.9 906.0 216.2 905.5 211.2 908.0 C206.2 910.5 202.3 914.0 198.6 918.1 C195.0 922.1 194.3 926.6 191.1 930.6 C187.9 934.7 184.2 937.1 181.0 940.7 C177.9 944.3 175.1 946.7 173.5 950.8 C171.9 954.8 171.8 958.8 172.2 963.3 C172.7 967.9 176.2 971.6 176.0 975.9 C175.8 980.2 170.5 983.6 171.0 987.2 C171.4 990.8 175.6 992.8 178.5 996.0 C181.5 999.2 184.8 1001.2 187.3 1004.8 C189.8 1008.4 191.2 1011.4 192.4 1016.1 C193.5 1020.9 192.9 1025.3 193.6 1031.2 C194.3 1037.1 196.4 1042.9 196.1 1048.8 C195.9 1054.7 194.2 1058.5 192.4 1063.9 C190.5 1069.3 187.4 1073.6 186.1 1079.0 C184.7 1084.4 184.4 1088.6 184.8 1094.1 C185.3 1099.5 188.1 1104.2 188.6 1109.2 C189.0 1114.1 188.7 1117.2 187.3 1121.7 C186.0 1126.3 182.4 1130.7 181.0 1134.3 C179.7 1137.9 181.1 1139.6 179.8 1141.9 C178.4 1144.1 176.4 1143.7 173.5 1146.9 C170.6 1150.0 167.1 1155.2 163.4 1159.5 C159.8 1163.8 157.5 1168.3 153.4 1170.8 C149.3 1173.3 146.2 1173.7 140.8 1173.3 C135.4 1172.8 127.7 1167.6 123.2 1168.3 C118.7 1168.9 117.7 1172.8 115.7 1177.1 C113.6 1181.4 113.5 1187.6 111.9 1192.1 C110.3 1196.7 107.5 1197.2 106.9 1202.2 C106.2 1207.2 107.4 1213.9 108.1 1219.8 C108.8 1225.7 109.1 1230.4 110.6 1234.9 C112.2 1239.4 115.6 1240.9 116.9 1244.9 C118.3 1249.0 118.4 1253.0 118.2 1257.5 C118.0 1262.0 114.8 1266.0 115.7 1270.1 C116.6 1274.2 120.9 1276.1 123.2 1280.1 C125.5 1284.2 127.8 1288.9 128.2 1292.7 C128.7 1296.6 126.2 1299.9 125.7 1301.5"/>
<path class="wl" d="M18.9 1125.9 L173.5 1124.8 L176.0 1127.3 L173.5 1138.8 L176.0 1143.1 L179.8 1141.9"/>
<path class="ol" d="M114.4 1148.1 L221.3 1116.2 L408.6 1257.5 L310.5 1312.8 L162.2 1253.7 Z"/>
<path class="ol" d="M17.6 1151.9 L56.6 1232.4 L75.4 1332.9 L17.6 1310.3"/>
<path class="gl" d="M18.9 901.7 L37.7 882.9 L33.9 879.1 L46.5 865.3 L52.8 869.0 L81.7 837.6 L100.6 818.7"/>
<path class="gl" d="M81.7 837.6 L103.1 860.2 L108.1 864.0 L113.2 874.1 L116.9 882.9 L123.2 884.1 L125.7 880.3 L143.3 897.9 L176.0 929.4 L173.5 938.2 L171.0 943.2 L166.0 944.5"/>
<path class="gl" d="M18.9 939.4 L69.1 937.7 L83.0 924.4 L100.6 942.0 L143.3 897.9"/>
<path class="gl" d="M148.4 818.7 L155.9 823.8 L166.0 823.8 L176.0 827.5 L181.0 835.1 L188.6 840.1 L198.6 845.1 L201.2 852.7 L208.7 857.7 L210.0 870.3 L216.2 880.3 L211.2 887.9 L206.2 894.2 L204.9 905.5 L203.7 908.0"/>
<path class="gl" d="M235.1 925.6 L233.8 940.7 L245.2 944.5 L247.7 953.3 L256.5 958.3 L266.5 955.8 L274.1 948.2 L291.7 942.0 L292.9 930.6 L294.2 925.6 L309.3 919.3 L324.4 916.8 L334.4 915.5 L340.7 919.3 L344.5 903.0 L348.3 903.0 L331.9 877.8"/>
<path class="gl" d="M340.7 919.3 L352.0 925.6 L369.6 930.6 L382.2 928.1 L392.3 920.6 L407.3 916.8 L427.5 915.5 L450.1 916.8 L467.7 920.6 L481.5 925.6"/>
<path class="gl" d="M247.7 953.3 L241.4 960.8 L236.4 988.5 L242.6 987.2 L251.4 993.5 L257.7 1001.0 L259.0 1026.2 L275.3 1021.2 L276.6 1027.4 L289.2 1028.7 L289.2 1038.8 L299.2 1040.0 L300.5 1047.6 L324.4 1048.8 L321.9 1072.7 L336.9 1071.4 L343.2 1074.0 L350.8 1104.1"/>
<path class="gl" d="M236.4 988.5 L226.3 993.5 L216.2 998.5 L203.7 1007.3 L194.9 1007.3 L193.6 1011.1"/>
<path class="gl" d="M481.5 959.6 L472.7 970.9 L465.2 975.9 L462.7 986.0 L442.5 999.8 L427.5 1004.8 L412.4 1013.6 L392.3 1023.7 L377.2 1033.7 L362.1 1043.8 L350.8 1050.1 L362.1 1061.4 L372.1 1065.2 L384.7 1065.2 L397.3 1060.1 L412.4 1056.4 L435.0 1060.1 L414.9 1076.5 L417.4 1087.8 L430.0 1086.5 L435.0 1104.1 L445.1 1106.6 L461.4 1100.4 L467.7 1121.7"/>
<path class="gl" d="M392.3 1065.2 L397.3 1072.7 L393.5 1086.5 L382.2 1087.8 L372.1 1095.3 L350.8 1104.1 L334.4 1111.7 L324.4 1118.0 L311.8 1119.2 L301.7 1112.9 L284.1 1116.7 L269.0 1121.7 L254.0 1130.5 L241.4 1139.3 L233.8 1149.4 L221.3 1154.4 L208.7 1164.5 L196.1 1168.3 L191.1 1179.6 L176.0 1184.6 L160.9 1189.6 L143.3 1192.1 L134.5 1184.6 L133.3 1192.1 L140.8 1189.6"/>
<path class="gl" d="M301.7 1112.9 L342.0 1162.0 L331.9 1170.8 L348.3 1193.4"/>
<path class="gl" d="M481.5 1120.5 L467.7 1121.7 L450.1 1126.8 L427.5 1140.6 L402.3 1156.9 L377.2 1174.5 L348.3 1193.4 L336.9 1207.2 L324.4 1216.0 L313.1 1226.1 L306.8 1234.9 L294.2 1242.4 L289.2 1250.0 L279.1 1255.0 L271.6 1267.6 L261.5 1280.1 L251.4 1290.2 L241.4 1301.5"/>
<path class="gl" d="M313.1 1226.1 L349.5 1275.1 L336.9 1287.7 L331.9 1301.5"/>
<path class="gl" d="M135.8 1197.2 L135.8 1214.8 L130.8 1216.0 L140.8 1219.8 L155.9 1228.6 L171.0 1222.3 L184.8 1219.8 L186.1 1211.0 L196.1 1206.0 L213.7 1244.9 L215.0 1258.8 L233.8 1267.6 L227.6 1275.1 L245.2 1301.5"/>
<path class="gl" d="M118.2 1190.9 L123.2 1192.1 L124.5 1199.7 L130.8 1197.2 L135.8 1197.2"/>
<path class="wl7" d="M478.0 871.5 C480.2 873.1 485.2 877.4 490.1 880.3 C494.9 883.3 497.9 886.5 505.1 887.9 C512.4 889.2 523.0 885.6 530.3 887.9 C537.5 890.2 539.0 895.9 545.4 900.5 C551.7 905.0 558.2 909.0 565.5 913.0 C572.7 917.1 577.5 921.7 585.6 923.1 C593.8 924.5 602.6 921.7 610.8 920.6 C618.9 919.4 624.5 917.5 630.9 916.8 C637.2 916.1 640.5 915.2 646.0 916.8 C651.4 918.4 655.2 922.2 661.0 925.6 C666.9 929.0 672.3 932.7 678.6 935.7 C685.0 938.6 690.8 940.4 696.2 942.0 C701.7 943.5 704.3 944.7 708.8 944.5 C713.3 944.2 715.5 941.6 721.4 940.7 C727.3 939.8 735.6 939.0 741.5 939.4 C747.4 939.9 750.9 940.7 754.1 943.2 C757.2 945.7 756.4 949.6 759.1 953.3 C761.8 956.9 765.5 959.7 769.2 963.3 C772.8 966.9 775.1 970.2 779.2 973.4 C783.3 976.6 787.3 980.2 791.8 980.9 C796.3 981.6 799.8 979.0 804.4 977.2 C808.9 975.3 812.9 972.9 816.9 970.9 C821.0 968.8 824.3 968.6 827.0 965.8 C829.7 963.1 830.9 959.9 832.0 955.8 C833.2 951.7 832.4 946.8 833.3 943.2 C834.2 939.6 834.6 937.2 837.1 935.7 C839.5 934.1 843.5 935.5 847.1 934.4 C850.7 933.3 853.5 931.2 857.2 929.4 C860.8 927.6 863.6 924.1 867.2 924.4 C870.8 924.6 873.7 928.1 877.3 930.6 C880.9 933.1 883.7 934.1 887.3 938.2 C891.0 942.3 893.8 947.8 897.4 953.3 C901.0 958.7 903.4 963.8 907.5 968.4 C911.5 972.9 915.5 976.1 920.0 978.4 C924.6 980.7 928.5 981.4 932.6 980.9 C936.7 980.5 940.2 979.1 942.7 975.9 C945.1 972.7 945.1 967.9 946.4 963.3 C947.8 958.8 947.5 956.2 950.2 950.8 C952.9 945.3 959.5 936.3 961.5 933.2"/>
<path class="wl" d="M741.5 939.4 C743.8 937.4 749.5 931.5 754.1 928.1 C758.6 924.7 762.1 921.9 766.6 920.6 C771.2 919.2 775.1 919.2 779.2 920.6 C783.3 921.9 785.2 925.0 789.3 928.1 C793.4 931.3 797.3 935.0 801.9 938.2 C806.4 941.3 809.9 943.5 814.4 945.7 C818.9 948.0 823.6 951.2 827.0 950.8 C830.4 950.3 832.1 944.6 833.3 943.2"/>
<path class="wl" d="M759.1 953.3 C761.4 955.5 767.2 962.0 771.7 965.8 C776.2 969.7 780.2 971.5 784.2 974.6 C788.3 977.8 789.8 982.3 794.3 983.4 C798.8 984.6 804.0 982.1 809.4 980.9 C814.8 979.8 819.0 978.1 824.5 977.2 C829.9 976.2 835.7 977.5 839.6 975.9 C843.4 974.3 845.4 971.5 845.9 968.4 C846.3 965.2 844.1 961.5 842.1 958.3 C840.0 955.1 835.9 952.1 834.5 950.8"/>
<path class="wl" d="M478.0 876.6 C481.1 878.2 488.8 883.2 495.1 885.9 C501.3 888.6 505.0 889.9 512.7 891.7 C520.4 893.4 530.1 892.5 537.8 895.4 C545.5 898.4 548.6 903.7 555.4 908.0 C562.2 912.3 567.9 916.2 575.5 919.3 C583.2 922.5 590.0 925.4 598.2 925.6 C606.3 925.8 616.7 921.5 620.8 920.6"/>
<path class="wl2" d="M708.8 944.5 C712.9 943.1 724.7 939.4 731.4 936.9 C738.2 934.4 741.6 933.1 746.5 930.6 C751.5 928.1 756.8 924.5 759.1 923.1"/>
<path class="wl2" d="M867.2 926.9 C869.9 928.9 877.3 933.0 882.3 938.2 C887.3 943.4 890.4 949.9 894.9 955.8 C899.4 961.7 902.5 967.0 907.5 970.9 C912.4 974.7 917.1 976.0 922.5 977.2 C928.0 978.3 933.6 978.7 937.6 977.2 C941.7 975.6 943.8 969.9 945.2 968.4"/>
<path class="gl" d="M478.0 923.6 L490.1 916.8 L502.6 915.5 L516.5 913.0 L519.0 900.5 L505.1 900.5 L502.6 896.7"/>
<path class="gl" d="M478.0 928.6 L492.6 944.5 L505.1 950.8 L522.7 948.2 L534.1 945.7 L536.6 970.9 L550.4 973.4 L551.7 980.9 L569.3 986.0 L570.5 999.8 L579.3 999.8 L588.1 987.2 L593.2 986.0 L600.7 975.9 L608.2 970.9 L612.0 959.6 L624.6 945.7 L628.4 923.1"/>
<path class="gl" d="M492.6 944.5 L478.0 964.6"/>
<path class="gl" d="M668.6 938.2 L671.1 940.7 L678.6 949.5 L661.0 960.8 L643.4 973.4 L625.8 988.5 L613.3 1001.0 L595.7 1013.6 L580.6 1028.7 L565.5 1041.3 L550.4 1058.9 L537.8 1076.5 L525.3 1094.1 L510.2 1110.4 L495.1 1118.0 L478.0 1120.7"/>
<path class="gl" d="M510.2 1110.4 L555.4 1167.0 L542.9 1175.8 L563.0 1206.0 L547.9 1222.3 L563.0 1242.4 L550.4 1262.5 L554.2 1272.6 L550.4 1285.2 L537.8 1295.2 L542.9 1301.5"/>
<path class="gl" d="M764.1 970.9 L756.6 978.4 L744.0 986.0 L726.4 996.0 L713.8 1011.1 L706.3 1026.2 L691.2 1038.8 L688.7 1048.8 L676.1 1063.9 L666.1 1076.5 L651.0 1085.3 L638.4 1096.6 L633.4 1111.7 L628.4 1126.8 L620.8 1141.9 L620.8 1151.9 L625.8 1162.0 L623.3 1179.6 L615.8 1197.2 L610.8 1217.3 L600.7 1232.4 L580.6 1247.5 L563.0 1257.5 L550.4 1262.5"/>
<path class="gl" d="M860.9 1067.7 L857.2 1084.0 L849.6 1101.6 L837.1 1119.2 L819.5 1136.8 L806.9 1156.9 L796.8 1179.6 L784.2 1198.4 L756.6 1219.8 L731.4 1242.4 L706.3 1265.1 L681.2 1290.2 L668.6 1301.5"/>
<path class="gl" d="M860.9 1067.7 L882.3 1081.5 L907.5 1099.1 L922.5 1079.0 L930.1 1084.0 L947.7 1096.6 L952.7 1079.0 L961.5 1077.7"/>
<path class="gl" d="M784.2 1198.4 L801.9 1207.2 L822.0 1208.5 L839.6 1207.2 L854.7 1208.5 L855.9 1219.8 L874.8 1222.3 L884.8 1234.9 L892.4 1244.9 L891.1 1257.5 L894.9 1267.6 L887.3 1277.6 L882.3 1290.2 L872.3 1301.5"/>
<path class="gl" d="M887.3 1280.1 L902.4 1278.9 L922.5 1285.2 L937.6 1301.5"/>
<path class="gl" d="M681.2 1290.2 L686.2 1301.5"/>
<path class="wl9" d="M753.9 948.3 C755.1 951.0 757.0 958.6 760.7 963.2 C764.4 967.9 768.4 970.7 774.3 974.1 C780.1 977.5 787.1 981.5 793.2 982.2 C799.3 983.0 802.8 978.2 808.2 978.2 C813.5 978.2 818.0 982.5 823.1 982.2 C828.2 982.0 832.5 979.2 836.6 976.8 C840.8 974.4 845.2 972.1 846.1 968.7 C847.1 965.2 844.0 960.5 842.1 957.8 C840.1 955.1 836.5 954.5 835.3 953.7"/>
<path class="wl" d="M958.7 930.6 C959.9 927.9 962.1 919.8 965.0 915.5 C968.0 911.2 971.9 909.5 975.1 906.7 C978.3 904.0 978.6 903.9 982.6 900.5 C986.7 897.1 992.3 891.3 997.7 887.9 C1003.1 884.5 1007.4 882.7 1012.8 881.6 C1018.2 880.5 1022.9 880.2 1027.9 881.6 C1032.9 883.0 1035.5 886.7 1040.5 889.1 C1045.4 891.6 1050.1 894.5 1055.5 895.4 C1061.0 896.3 1065.7 894.2 1070.6 894.2 C1075.6 894.2 1079.6 893.8 1083.2 895.4 C1086.8 897.0 1087.6 899.4 1090.8 903.0 C1093.9 906.6 1096.7 911.5 1100.8 915.5 C1104.9 919.6 1108.9 923.1 1113.4 925.6 C1117.9 928.1 1121.9 929.4 1126.0 929.4 C1130.0 929.4 1132.8 928.3 1136.0 925.6 C1139.2 922.9 1139.9 918.4 1143.6 914.3 C1147.2 910.2 1151.1 906.4 1156.1 903.0 C1161.1 899.6 1166.7 898.1 1171.2 895.4 C1175.7 892.7 1178.8 891.5 1181.3 887.9 C1183.8 884.3 1185.0 879.8 1185.0 875.3 C1185.0 870.8 1182.0 865.0 1181.3 862.7"/>
<path class="wl" d="M1040.5 889.1 L1039.2 903.0 L1043.0 913.0 L1035.4 920.6 L1034.2 930.6 L1040.5 943.2 L1050.5 955.8 L1060.6 965.8 L1073.2 991.0 L1085.7 1016.1 L1097.0 1038.8 L1104.6 1050.1 L1098.3 1061.4 L1100.8 1074.0 L1103.3 1086.5 L1104.6 1099.1 L1110.9 1109.2 L1120.9 1124.2 L1126.0 1136.8 L1136.0 1144.4 L1141.0 1151.9 L1151.1 1159.5 L1161.2 1168.3"/>
<path class="wl" d="M1441.5 970.4 C1439.0 971.4 1431.1 976.3 1427.7 975.9 C1424.3 975.5 1424.9 970.6 1422.7 968.4 C1420.4 966.1 1417.8 962.0 1415.1 963.3 C1412.4 964.7 1410.3 970.9 1407.6 975.9 C1404.9 980.9 1403.7 987.4 1400.0 991.0 C1396.4 994.6 1390.2 992.4 1387.5 996.0 C1384.7 999.6 1385.8 1005.7 1384.9 1011.1 C1384.0 1016.5 1384.7 1021.2 1382.4 1026.2 C1380.2 1031.2 1376.4 1035.1 1372.4 1038.8 C1368.3 1042.4 1363.4 1044.0 1359.8 1046.3 C1356.2 1048.6 1356.3 1051.8 1352.3 1051.3 C1348.2 1050.9 1341.2 1044.2 1337.2 1043.8 C1333.1 1043.3 1328.7 1045.6 1329.6 1048.8 C1330.5 1052.0 1339.0 1057.8 1342.2 1061.4 C1345.4 1065.0 1348.1 1067.1 1347.2 1068.9 C1346.3 1070.7 1341.2 1070.5 1337.2 1071.4 C1333.1 1072.4 1328.7 1071.7 1324.6 1074.0 C1320.5 1076.2 1317.7 1083.1 1314.5 1084.0 C1311.4 1084.9 1310.2 1081.3 1307.0 1079.0 C1303.8 1076.7 1301.0 1071.0 1296.9 1071.4 C1292.9 1071.9 1288.9 1077.4 1284.4 1081.5 C1279.8 1085.6 1276.8 1091.8 1271.8 1094.1 C1266.8 1096.3 1260.8 1092.3 1256.7 1094.1 C1252.6 1095.9 1252.3 1100.5 1249.2 1104.1 C1246.0 1107.8 1240.5 1109.7 1239.1 1114.2 C1237.7 1118.7 1243.0 1124.8 1241.6 1129.3 C1240.3 1133.8 1236.1 1134.8 1231.6 1139.3 C1227.0 1143.9 1221.0 1153.1 1216.5 1154.4 C1211.9 1155.8 1209.6 1146.9 1206.4 1146.9 C1203.2 1146.9 1201.6 1150.8 1198.9 1154.4 C1196.2 1158.0 1194.0 1163.1 1191.3 1167.0 C1188.6 1170.8 1187.0 1175.3 1183.8 1175.8 C1180.6 1176.2 1176.0 1172.5 1173.7 1169.5 C1171.5 1166.6 1173.0 1160.4 1171.2 1159.5 C1169.4 1158.5 1165.5 1161.8 1163.7 1164.5 C1161.9 1167.2 1162.5 1171.4 1161.2 1174.5 C1159.8 1177.7 1159.7 1179.4 1156.1 1182.1 C1152.5 1184.8 1146.9 1186.9 1141.0 1189.6 C1135.2 1192.3 1128.2 1194.0 1123.4 1197.2 C1118.7 1200.3 1115.1 1204.1 1114.6 1207.2 C1114.2 1210.4 1117.1 1212.5 1120.9 1214.8 C1124.8 1217.0 1131.0 1216.6 1136.0 1219.8 C1141.0 1223.0 1147.2 1227.4 1148.6 1232.4 C1149.9 1237.3 1145.4 1241.6 1143.6 1247.5 C1141.7 1253.3 1140.3 1263.2 1138.5 1265.1 C1136.7 1266.9 1135.3 1260.7 1133.5 1257.5 C1131.7 1254.3 1132.5 1249.9 1128.5 1247.5 C1124.4 1245.0 1117.2 1244.6 1110.9 1243.7 C1104.5 1242.8 1098.7 1241.8 1093.3 1242.4 C1087.8 1243.1 1083.9 1244.7 1080.7 1247.5 C1077.5 1250.2 1076.1 1253.4 1075.7 1257.5 C1075.2 1261.6 1076.8 1265.1 1078.2 1270.1 C1079.5 1275.1 1085.5 1281.6 1083.2 1285.2 C1080.9 1288.8 1071.9 1288.4 1065.6 1290.2 C1059.3 1292.0 1052.5 1293.2 1048.0 1295.2 C1043.5 1297.3 1041.8 1300.4 1040.5 1301.5"/>
<path class="gl" d="M1110.9 929.4 L1108.4 938.2 L1118.4 948.2 L1117.2 968.4 L1110.9 973.4 L1115.9 978.4 L1133.5 980.9 L1136.0 986.0 L1148.6 982.2 L1153.6 991.0 L1158.6 993.5 L1161.2 996.0 L1170.0 999.8 L1167.4 1016.1 L1166.2 1022.4 L1154.9 1023.7 L1151.1 1035.0 L1141.0 1032.5 L1133.5 1023.7 L1126.0 1021.2 L1120.9 1014.9 L1118.4 1023.7 L1110.9 1032.5 L1097.0 1037.5"/>
<path class="gl" d="M1167.4 1016.1 L1205.2 1021.2 L1202.6 1038.8 L1195.1 1040.0 L1161.2 1101.6 L1178.8 1102.9 L1182.5 1116.7 L1185.0 1131.8 L1181.3 1144.4 L1180.0 1154.4 L1173.7 1156.9"/>
<path class="gl" d="M1195.1 1040.0 L1246.6 1047.6 L1254.2 1047.6 L1268.0 1030.0 L1271.8 1035.0 L1296.9 1032.5 L1296.9 1019.9 L1304.5 1018.6 L1304.5 992.2 L1298.2 989.7 L1276.8 972.1 L1283.1 965.8 L1279.3 957.0 L1286.9 957.0 L1271.8 948.2 L1264.2 938.2 L1249.2 936.9 L1244.1 938.2"/>
<path class="gl" d="M1246.6 1047.6 L1259.2 1092.8"/>
<path class="gl" d="M1158.6 993.5 L1186.3 975.9 L1181.3 965.8 L1198.9 955.8 L1202.6 963.3 L1271.8 921.8"/>
<path class="gj" d="M1271.8 921.8 L1270.5 913.0 L1261.7 915.5 L1251.7 913.0 L1241.6 910.5 L1231.6 908.0 L1216.5 908.0 L1206.4 903.0 L1205.2 895.4 L1211.4 887.9 L1201.4 880.3 L1186.3 879.1"/>
<path class="gj" d="M1271.8 921.8 L1270.5 895.4 L1284.4 892.9 L1294.4 886.6 L1307.0 879.1 L1315.8 876.6"/>
<path class="gl" d="M1315.8 876.6 L1317.1 843.9 L1328.4 842.6 L1328.4 818.7"/>
<path class="gl" d="M1328.4 842.6 L1337.2 845.1 L1337.2 852.7 L1377.4 908.0 L1382.4 904.2 L1407.6 913.0 L1412.6 903.0 L1412.6 870.3 L1407.6 866.5 L1441.5 857.2"/>
<path class="gj" d="M1382.4 904.2 L1384.9 938.2 L1395.0 955.8 L1400.0 975.9 L1396.3 991.0"/>
<path class="gl" d="M1304.5 992.2 L1332.1 991.0 L1342.2 1006.1 L1349.7 1023.7 L1357.3 1036.2 L1362.3 1041.3"/>
<path class="gl" d="M958.7 1079.0 L968.8 1068.9 L971.3 1056.4 L981.4 1041.3 L990.2 1046.3 L1002.7 1048.8 L1010.3 1061.4 L1022.9 1065.2 L1035.4 1071.4 L1043.0 1074.0 L1048.0 1084.0 L1058.1 1089.0 L1065.6 1091.6 L1074.4 1084.0 L1080.7 1096.6 L1088.2 1105.4 L1085.7 1121.7 L1083.2 1128.0 L1100.8 1106.6"/>
<path class="wl" d="M125.7 1301.6 C125.3 1301.7 125.0 1300.6 123.2 1302.6 C121.4 1304.6 117.7 1308.6 115.7 1312.6 C113.6 1316.7 112.8 1320.7 111.9 1325.2 C111.0 1329.7 110.2 1333.7 110.6 1337.8 C111.1 1341.8 112.6 1345.3 114.4 1347.8 C116.2 1350.3 120.2 1349.3 120.7 1351.6 C121.1 1353.9 118.7 1356.6 116.9 1360.4 C115.1 1364.3 113.1 1368.5 110.6 1373.0 C108.1 1377.5 105.6 1381.5 103.1 1385.5 C100.6 1389.6 98.2 1391.5 96.8 1395.6 C95.4 1399.7 95.5 1403.2 95.5 1408.2 C95.5 1413.2 97.3 1418.3 96.8 1423.3 C96.4 1428.2 95.1 1431.3 93.0 1435.8 C91.0 1440.4 87.5 1443.9 85.5 1448.4 C83.5 1452.9 81.7 1456.5 81.7 1461.0 C81.7 1465.5 85.3 1469.5 85.5 1473.6 C85.7 1477.6 85.2 1480.0 83.0 1483.6 C80.7 1487.2 77.0 1490.3 72.9 1493.7 C68.8 1497.1 65.3 1500.2 60.3 1502.5 C55.4 1504.7 49.1 1504.2 45.3 1506.2 C41.4 1508.3 40.6 1510.6 39.0 1513.8 C37.4 1517.0 38.0 1520.7 36.5 1523.8 C34.9 1527.0 32.0 1528.2 30.2 1531.4 C28.4 1534.6 27.8 1538.7 26.4 1541.4 C25.0 1544.2 24.2 1545.6 22.6 1546.5 C21.0 1547.4 18.5 1546.5 17.6 1546.5"/>
<path class="gl" d="M241.4 1301.6 L236.4 1302.6 L226.3 1317.7 L216.2 1327.7 L201.2 1335.3 L188.6 1339.0 L181.0 1350.3 L173.5 1357.9 L166.0 1375.5 L155.9 1390.6 L148.4 1405.7"/>
<path class="gl" d="M105.6 1390.6 L130.8 1395.6 L132.0 1403.2 L148.4 1406.9 L173.5 1410.7 L191.1 1420.8 L213.7 1435.8 L233.8 1448.4 L251.4 1466.0 L266.5 1481.1"/>
<path class="gl" d="M481.5 1352.4 L462.7 1360.4 L440.0 1364.2 L412.4 1365.4 L409.9 1361.7 L392.3 1370.5 L377.2 1378.0 L359.6 1385.5 L352.0 1395.6 L352.0 1405.7 L344.5 1415.7 L339.5 1423.3 L326.9 1433.3 L316.8 1440.9 L301.7 1438.4 L292.9 1440.9 L289.2 1450.9 L276.6 1466.0 L266.5 1481.1 L248.9 1491.2 L236.4 1501.2 L228.8 1516.3 L218.8 1531.4 L208.7 1546.5 L206.2 1559.0 L193.6 1574.1 L188.6 1584.2 L191.1 1591.7 L183.6 1604.3 L176.0 1616.9 L173.5 1625.7 L160.9 1644.5 L148.4 1654.6 L133.3 1662.1 L125.7 1682.3 L108.1 1702.4 L88.0 1722.5 L62.9 1742.6 L22.6 1752.7"/>
<path class="gl" d="M352.0 1405.7 L316.8 1375.5 L309.3 1385.5 L296.7 1390.6 L286.6 1385.5 L279.1 1370.5 L284.1 1357.9 L296.7 1345.3 L291.7 1330.2 L299.2 1320.2 L314.3 1310.1"/>
<path class="gl" d="M77.9 1493.7 L83.0 1500.0 L90.5 1488.6 L100.6 1484.9 L103.1 1493.7 L110.6 1491.2 L110.6 1496.2 L138.3 1498.7 L140.8 1488.6 L160.9 1493.7 L163.4 1491.2 L210.0 1505.0 L201.2 1516.3 L191.1 1526.4 L186.1 1541.4 L188.6 1552.8 L198.6 1549.0 L208.7 1549.0"/>
<path class="gl" d="M173.5 1625.7 L191.1 1629.5 L186.1 1654.6 L216.2 1659.6 L231.3 1672.2 L241.4 1692.3 L241.4 1712.4 L231.3 1732.5 L223.8 1760.2"/>
<path class="gl" d="M266.5 1481.1 L276.6 1481.1 L284.1 1491.2 L286.6 1498.7 L296.7 1501.2 L306.8 1511.3 L314.3 1521.3 L326.9 1528.9 L334.4 1541.4 L352.0 1551.5 L364.6 1564.1 L374.7 1579.2 L384.7 1596.8 L402.3 1609.3 L414.9 1616.9 L427.5 1624.4 L445.1 1629.5 L460.1 1642.0 L477.7 1649.6 L481.5 1654.6"/>
<path class="gl" d="M427.5 1760.2 L437.5 1750.1 L450.1 1743.9 L465.2 1745.1 L477.7 1752.7 L481.5 1757.7"/>
<path class="gl" d="M140.8 1760.2 L176.0 1750.1 L208.7 1737.6 L231.3 1732.5"/>
<path class="gl" d="M223.8 1760.2 L246.4 1750.1 L271.6 1747.6 L281.6 1760.2"/>
<path class="wl" d="M1040.6 1300.9 C1040.3 1301.2 1037.7 1300.5 1038.9 1302.6 C1040.1 1304.7 1046.1 1308.5 1047.3 1312.7 C1048.5 1316.9 1049.0 1321.9 1045.6 1326.1 C1042.3 1330.3 1034.9 1331.9 1028.9 1336.1 C1022.8 1340.4 1017.5 1343.5 1012.1 1349.6 C1006.7 1355.6 1002.9 1363.6 998.7 1369.7 C994.5 1375.7 995.3 1379.5 988.6 1383.1 C982.0 1386.7 967.3 1387.1 961.8 1389.8 C956.4 1392.5 959.1 1396.7 958.5 1398.2"/>
<path class="wl" d="M960.0 1390.6 C959.4 1392.4 956.9 1396.1 956.5 1400.6 C956.1 1405.2 958.4 1410.7 957.7 1415.7 C957.1 1420.7 955.9 1424.2 952.7 1428.3 C949.5 1432.4 944.7 1435.2 940.1 1438.4 C935.6 1441.5 930.7 1442.3 927.6 1445.9 C924.4 1449.5 922.5 1454.4 922.5 1458.5 C922.5 1462.5 927.6 1464.0 927.6 1468.5 C927.6 1473.1 925.3 1479.8 922.5 1483.6 C919.8 1487.5 917.0 1488.1 912.5 1489.9 C908.0 1491.7 902.8 1492.1 897.4 1493.7 C892.0 1495.3 887.3 1496.9 882.3 1498.7 C877.3 1500.5 873.4 1500.6 869.7 1503.7 C866.1 1506.9 865.4 1511.8 862.2 1516.3 C859.0 1520.8 854.4 1524.3 852.1 1528.9 C849.9 1533.4 849.6 1537.4 849.6 1541.4 C849.6 1545.5 853.0 1547.0 852.1 1551.5 C851.2 1556.0 847.8 1560.7 844.6 1566.6 C841.4 1572.5 838.2 1580.3 834.5 1584.2 C830.9 1588.0 828.1 1586.2 824.5 1588.0 C820.9 1589.8 816.7 1590.9 814.4 1594.2 C812.2 1597.6 813.7 1602.7 811.9 1606.8 C810.1 1610.9 806.2 1613.3 804.4 1616.9 C802.6 1620.5 805.0 1623.3 801.9 1626.9 C798.7 1630.6 791.7 1633.8 786.8 1637.0 C781.8 1640.2 778.3 1641.4 774.2 1644.5 C770.1 1647.7 767.5 1650.5 764.1 1654.6 C760.7 1658.7 756.7 1662.6 755.3 1667.2 C754.0 1671.7 758.2 1676.1 756.6 1679.7 C755.0 1683.4 750.2 1684.1 746.5 1687.3 C742.9 1690.5 740.1 1693.7 736.5 1697.3 C732.9 1701.0 730.5 1703.3 726.4 1707.4 C722.3 1711.5 718.4 1716.4 713.8 1720.0 C709.3 1723.6 707.2 1725.7 701.3 1727.5 C695.4 1729.3 687.5 1727.8 681.2 1730.0 C674.8 1732.3 670.6 1736.5 666.1 1740.1 C661.5 1743.7 659.0 1746.1 656.0 1750.1 C653.1 1754.2 650.9 1760.5 649.7 1762.7"/>
<path class="gl" d="M478.0 1354.6 L505.1 1346.6 L530.3 1335.3 L560.5 1323.9 L593.2 1320.2 L630.9 1317.7 L653.5 1312.6 L668.6 1300.1 L681.2 1290.0"/>
<path class="gl" d="M542.9 1300.1 L550.4 1302.6 L560.5 1322.7"/>
<path class="gl" d="M681.2 1290.0 L688.7 1303.8 L693.7 1315.1 L697.5 1335.3 L693.7 1355.4 L695.0 1385.5 L691.2 1403.2 L681.2 1423.3 L666.1 1443.4 L651.0 1458.5 L635.9 1471.0 L620.8 1478.6 L610.8 1493.7 L600.7 1508.8 L593.2 1518.8 L585.6 1531.4 L583.1 1544.0 L576.8 1559.0 L573.0 1571.6 L580.6 1581.7 L588.1 1591.7 L586.9 1609.3 L595.7 1615.6 L591.9 1632.0 L595.7 1652.1 L588.1 1664.7 L584.4 1677.2 L580.6 1689.8 L568.0 1694.8 L568.0 1707.4 L563.0 1717.5 L542.9 1723.7 L542.9 1740.1 L552.9 1743.9 L542.9 1750.1 L537.8 1762.7"/>
<path class="gl" d="M593.2 1522.6 L603.2 1523.8 L618.3 1538.9 L630.9 1540.2 L643.4 1541.4 L661.0 1546.5 L686.2 1545.2 L706.3 1545.2 L716.4 1549.0 L739.0 1538.9 L761.6 1530.1 L769.2 1532.6 L786.8 1530.1 L790.5 1549.0 L789.3 1566.6 L791.8 1574.1 L789.3 1591.7 L791.8 1606.8 L786.8 1616.9 L791.8 1628.2"/>
<path class="gl" d="M872.3 1300.1 L869.7 1300.1 L857.2 1308.9 L849.6 1315.1 L847.1 1332.7 L854.7 1347.8 L842.1 1359.1 L834.5 1370.5 L839.6 1385.5 L837.1 1400.6 L844.6 1420.8 L847.1 1438.4 L852.1 1453.4 L862.2 1463.5 L867.2 1476.1 L872.3 1486.1 L864.7 1496.2 L872.3 1498.7"/>
<path class="gl" d="M937.6 1300.1 L935.1 1325.2 L938.9 1330.2 L912.5 1356.6 L922.5 1359.1 L923.8 1374.2 L947.7 1386.8 L960.0 1385.5"/>
<path class="gl" d="M478.0 1652.1 L487.5 1674.7 L502.6 1694.8 L507.7 1702.4 L517.7 1704.9 L529.0 1716.2 L540.3 1707.4 L552.9 1708.7 L563.0 1717.5"/>
<path class="wl" d="M1571.5 924.4 C1569.4 923.9 1563.1 919.6 1560.1 921.9 C1557.2 924.1 1556.9 933.3 1555.1 936.9 C1553.3 940.6 1552.4 943.3 1550.1 942.0 C1547.8 940.6 1545.3 932.6 1542.5 929.4 C1539.8 926.2 1538.2 924.8 1535.0 924.4 C1531.8 923.9 1527.7 924.6 1524.9 926.9 C1522.2 929.1 1519.9 933.8 1519.9 936.9 C1519.9 940.1 1526.3 942.2 1524.9 944.5 C1523.6 946.7 1516.9 948.2 1512.4 949.5 C1507.8 950.9 1503.4 953.4 1499.8 952.0 C1496.2 950.7 1495.0 944.2 1492.3 942.0 C1489.5 939.7 1487.4 938.1 1484.7 939.5 C1482.0 940.8 1479.9 945.4 1477.2 949.5 C1474.5 953.6 1472.3 958.9 1469.6 962.1 C1466.9 965.3 1464.3 968.0 1462.1 967.1 C1459.8 966.2 1458.9 958.4 1457.1 957.1 C1455.2 955.7 1452.9 956.4 1452.0 959.6 C1451.1 962.7 1453.9 972.4 1452.0 974.7 C1450.1 976.9 1443.4 972.6 1441.5 972.1"/>
<path class="gl" d="M1440.0 856.5 L1449.5 854.0 L1443.2 837.6 L1477.2 838.9 L1479.7 845.2 L1472.1 851.4 L1477.2 861.5 L1482.2 866.5 L1484.7 876.6 L1502.3 872.8 L1527.5 867.8 L1552.6 862.8 L1556.4 871.6 L1560.1 884.1 L1565.2 896.7 L1567.7 916.8"/>
<path class="gl" d="M1512.4 841.4 L1504.8 848.9 L1499.8 861.5 L1502.3 872.8"/>
<path class="wl" d="M1275.3 759.2 C1273.1 760.4 1268.7 764.7 1263.4 766.0 C1258.1 767.2 1251.7 764.6 1245.8 766.0 C1240.0 767.3 1235.3 769.4 1230.8 773.5 C1226.2 777.6 1222.7 783.6 1220.7 788.6 C1218.7 793.6 1220.3 796.6 1219.4 801.2 C1218.5 805.7 1219.1 811.5 1215.7 813.7 C1212.3 816.0 1206.0 813.3 1200.6 813.7 C1195.1 814.2 1188.7 814.0 1185.5 816.2 C1182.3 818.5 1185.2 823.6 1183.0 826.3 C1180.7 829.0 1175.6 828.6 1172.9 831.3 C1170.2 834.0 1167.9 837.3 1167.9 841.4 C1167.9 845.5 1170.7 849.9 1172.9 854.0 C1175.1 858.0 1178.5 862.4 1180.0 864.0 C1181.5 865.6 1181.0 863.0 1181.2 862.8"/>
<circle cx="794.7" cy="989.7" r="743.85" fill="none" stroke="#fff" stroke-width="3"/>
<circle class="dot" cx="95.5" cy="349.8" r="6.7"/>
<circle class="dot" cx="481.7" cy="442.0" r="6.7"/>
<circle class="dot" cx="388.2" cy="499.0" r="6.7"/>
<circle class="dot" cx="356.4" cy="773.2" r="6.7"/>
<circle class="dot" cx="461.6" cy="826.2" r="6.7"/>
<circle class="dot" cx="699.7" cy="305.6" r="6.7"/>
<circle class="dot" cx="914.6" cy="357.2" r="6.7"/>
<circle class="dot" cx="674.5" cy="425.3" r="6.7"/>
<circle class="dot" cx="709.4" cy="575.5" r="6.7"/>
<circle class="dot" cx="702.7" cy="665.3" r="6.7"/>
<circle class="dot" cx="738.2" cy="739.4" r="6.7"/>
<circle class="dot" cx="1305.5" cy="429.6" r="6.7"/>
<circle class="dot" cx="1499.5" cy="307.5" r="6.7"/>
<circle class="dot" cx="1482.2" cy="578.5" r="6.7"/>
<circle class="dot" cx="1280.5" cy="618.4" r="6.7"/>
<circle class="dot" cx="1195.5" cy="865.3" r="6.7"/>
<circle class="dot" cx="1326.3" cy="945.4" r="6.7"/>
<circle class="dot" cx="1083.7" cy="903.5" r="6.7"/>
<circle class="dot" cx="1125.2" cy="1091.5" r="6.7"/>
<circle class="dot" cx="1312.5" cy="1081.5" r="6.7"/>
<circle class="dot" cx="1518.4" cy="1080.2" r="6.7"/>
<circle class="dot" cx="185.6" cy="940.7" r="6.7"/>
<circle class="dot" cx="203.2" cy="1107.2" r="6.7"/>
<circle class="dot" cx="477.6" cy="1254.3" r="6.7"/>
<circle class="dot" cx="694.3" cy="1304.3" r="6.7"/>
<circle class="dot" cx="842.0" cy="968.5" r="6.7"/>
<circle class="dot" cx="1035.6" cy="1308.8" r="6.7"/>
<circle class="dot" cx="230.0" cy="1320.3" r="6.7"/>
<circle class="dot" cx="423.4" cy="1526.0" r="6.7"/>
<text class="city" x="104.8" y="339.5">PIRANE</text>
<text class="city" x="491.0" y="431.7">VA. OLIVA</text>
<text class="city" x="397.5" y="488.7">FORMOSA</text>
<text class="city" x="365.7" y="762.9">ISLA UMBÚ</text>
<text class="city" x="470.9" y="815.9">VILLALBÍN</text>
<text class="city" x="709.0" y="295.3">PARAGUARÍ</text>
<text class="city" x="923.9" y="346.9">VILLARRICA</text>
<text class="city" x="683.8" y="415.0">QUIINDY</text>
<text class="city" x="718.7" y="565.2">VA. FLORIDA</text>
<text class="city" x="712.0" y="655.0">SAN JUAN BAUTISTA</text>
<text class="city" x="747.5" y="729.1">SAN IGNACIO</text>
<text class="city" x="1314.8" y="419.3">NARANJAL</text>
<text class="city" x="1508.8" y="297.2">PUERTO IGUAZÚ</text>
<text class="city" x="1491.5" y="568.2">ELDORADO</text>
<text class="city" x="1289.8" y="608.1">MARÍA AUXILIADORA</text>
<text class="city" x="1204.8" y="855.0">SAN IGNACIO</text>
<text class="city" x="1335.6" y="935.1">OBERÁ</text>
<text class="city" x="1093.0" y="893.2">POSADAS</text>
<text class="city" x="1134.5" y="1081.2">APÓSTOLES</text>
<text class="city" x="1321.8" y="1071.2">SAN JAVIER</text>
<text class="city" x="1527.7" y="1069.9">SAN VICENTE</text>
<text class="city" x="194.9" y="930.4">CORRIENTES</text>
<text class="city" x="212.5" y="1096.9">EMPEDRADO</text>
<text class="city" x="486.9" y="1244.0">CONCEPCIÓN</text>
<text class="city" x="703.6" y="1294.0">COL. C. PELLEGRINI</text>
<text class="city" x="851.3" y="958.2">ITUZAINGÓ</text>
<text class="city" x="1044.9" y="1298.5">SANTO TOMÉ</text>
<text class="city" x="239.3" y="1310.0">SAN ROQUE</text>
<text class="city" x="432.7" y="1515.7">MERCEDES</text>
<rect x="26" y="1653" width="333" height="101.6" fill="#6e6e6e" fill-opacity="0.8"/>
<rect x="40.1" y="1667.9" width="303" height="71.8" fill="none" stroke="#ffa500" stroke-width="6"/>
<text class="leg" x="51" y="1697.6" xml:space="preserve">Avisos Meteorológicos</text>
<text class="leg" x="51" y="1724.4" xml:space="preserve">a Muy Corto Plazo</text>
</g>

<!-- right panel -->
<clipPath id="cright"><rect x="1570" y="220" width="150" height="1540"/></clipPath>
<rect x="1570" y="220" width="150" height="1540" fill="#1a1a1a"/>
<g clip-path="url(#cright)">
<polygon points="1599.1,356.7 1605.9,351.2 1614.0,348.5 1615.4,326.7 1622.2,321.2 1644.0,319.1 1674.0,320.7 1679.4,326.7 1682.1,332.1 1693.0,332.1 1697.9,338.9 1697.9,356.7 1691.7,367.5 1688.9,381.2 1684.9,392.1 1683.5,405.7 1674.0,409.8 1672.6,413.9 1687.6,417.9 1687.6,423.4 1676.7,424.8 1669.9,426.1 1668.5,435.6 1654.9,441.1 1630.4,441.1 1624.9,432.9 1623.6,422.0 1629.0,411.1 1635.8,407.0 1611.3,405.7 1603.1,401.6 1604.5,378.4 1612.7,370.3 1605.9,366.2 1599.1,362.1" fill="#2a94c6"/><polygon points="1619.5,332.1 1644.0,326.7 1674.0,329.4 1676.7,356.7 1654.9,370.3 1624.9,367.5" fill="#26a2d2"/><polygon points="1575.9,670.0 1584.1,665.9 1605.9,665.1 1609.9,668.6 1597.7,678.1 1581.3,680.9 1575.9,678.1" fill="#3382be"/><path d="M1572.5 712.7H1593.3M1572.5 714.7H1591.4M1572.5 716.7H1595.9M1572.5 718.7H1599.4M1572.5 720.7H1602.4M1572.5 722.7H1602.3M1572.5 724.7H1599.1M1572.5 726.7H1599.1M1572.5 728.7H1595.2M1572.5 744.7H1595.6M1572.5 746.7H1600.5M1572.5 748.7H1611.4M1572.5 750.7H1614.4M1572.5 752.7H1615.9M1572.5 754.7H1609.8M1572.5 756.7H1602.8M1572.5 772.7H1598.7M1572.5 774.7H1597.0M1572.5 776.7H1600.9M1572.5 778.7H1600.5M1572.5 780.7H1604.1M1572.5 782.7H1603.1M1572.5 784.7H1603.5M1572.5 786.7H1608.7M1572.5 788.7H1604.4M1572.5 790.7H1603.0M1572.5 792.7H1595.1M1572.5 794.7H1596.0M1572.5 796.7H1595.7M1572.5 798.7H1602.5M1572.5 812.7H1603.9M1572.5 814.7H1607.7M1572.5 816.7H1607.6M1572.5 818.7H1605.5M1572.5 820.7H1601.5M1572.5 822.7H1601.7M1572.5 824.7H1602.4M1572.5 826.7H1607.6M1572.5 828.7H1609.3M1572.5 830.7H1612.1M1572.5 832.7H1615.5M1572.5 834.7H1612.0M1572.5 836.7H1606.4M1572.5 838.7H1602.5M1572.5 840.7H1598.9M1572.5 842.7H1605.7M1572.5 844.7H1618.7M1572.5 846.7H1628.1M1572.5 848.7H1627.0M1572.5 850.7H1610.6M1572.5 852.7H1599.9M1572.5 854.7H1604.2M1572.5 868.7H1630.4M1572.5 870.7H1630.7M1572.5 872.7H1619.3M1572.5 874.7H1612.4M1572.5 876.7H1608.7M1572.5 878.7H1609.1M1572.5 880.7H1622.0M1572.5 882.7H1620.7M1572.5 884.7H1620.1M1572.5 886.7H1606.7M1572.5 888.7H1594.3M1572.5 890.7H1596.7M1572.5 892.7H1602.4M1572.5 894.7H1607.4M1572.5 896.7H1602.7M1572.5 898.7H1596.2M1572.5 900.7H1589.2M1572.5 902.7H1590.9M1572.5 904.7H1596.9M1572.5 906.7H1599.2M1572.5 908.7H1597.3M1572.5 910.7H1593.6M1572.5 922.7H1597.2M1572.5 924.7H1598.9M1572.5 926.7H1598.4M1572.5 928.7H1594.5M1572.5 930.7H1593.7M1572.5 932.7H1596.4M1572.5 934.7H1600.2M1572.5 936.7H1601.6M1572.5 938.7H1601.8M1572.5 940.7H1600.8M1572.5 942.7H1598.6M1572.5 944.7H1597.4M1572.5 946.7H1595.5M1572.5 948.7H1592.4M1572.5 950.7H1590.9M1572.5 952.7H1592.4M1572.5 954.7H1593.3M1572.5 956.7H1591.3M1572.5 958.7H1589.1M1572.5 960.7H1587.5M1572.5 962.7H1589.9M1572.5 964.7H1594.5M1572.5 966.7H1597.9M1572.5 968.7H1599.2M1572.5 980.7H1595.8M1572.5 982.7H1594.5M1572.5 984.7H1595.9M1572.5 986.7H1593.5M1572.5 988.7H1595.4M1572.5 990.7H1596.1M1572.5 992.7H1595.4M1572.5 994.7H1594.7M1572.5 996.7H1591.7M1572.5 998.7H1590.3M1572.5 1000.7H1591.7M1572.5 1002.7H1593.1M1572.5 1004.7H1596.1M1572.5 1006.7H1599.4M1572.5 1008.7H1606.4M1572.5 1010.7H1605.6M1572.5 1012.7H1604.5M1572.5 1014.7H1602.6M1572.5 1016.7H1599.5M1572.5 1018.7H1593.7M1572.5 1020.7H1590.7M1572.5 1022.7H1594.7M1572.5 1036.7H1602.1M1572.5 1038.7H1603.6M1572.5 1040.7H1601.3M1572.5 1042.7H1596.6M1572.5 1044.7H1597.6M1572.5 1046.7H1597.2M1572.5 1048.7H1596.2M1572.5 1050.7H1597.6M1572.5 1052.7H1593.1M1572.5 1054.7H1591.4M1572.5 1074.7H1593.3M1572.5 1076.7H1594.4M1572.5 1078.7H1590.9M1572.5 1080.7H1590.3M1572.5 1082.7H1588.1M1572.5 1084.7H1588.5M1572.5 1086.7H1589.8M1572.5 1088.7H1590.1M1572.5 1090.7H1587.2M1572.5 1092.7H1587.6M1572.5 1094.7H1589.6M1572.5 1096.7H1592.5M1572.5 1098.7H1594.7M1572.5 1100.7H1592.7M1572.5 1102.7H1591.8M1572.5 1104.7H1592.0M1572.5 1106.7H1591.8M1572.5 1108.7H1593.0M1572.5 1110.7H1592.8M1572.5 1112.7H1591.8M1572.5 1114.7H1586.8M1572.5 1116.7H1587.8M1572.5 1118.7H1588.0M1572.5 1120.7H1594.9M1572.5 1122.7H1592.4M1572.5 1132.7H1588.4M1572.5 1134.7H1589.7M1572.5 1136.7H1589.6M1572.5 1138.7H1590.6M1572.5 1140.7H1587.4M1572.5 1142.7H1588.5M1572.5 1144.7H1587.7M1572.5 1146.7H1586.7M1572.5 1148.7H1586.8M1572.5 1150.7H1588.5M1572.5 1152.7H1588.7M1572.5 1154.7H1588.8M1572.5 1156.7H1585.3M1572.5 1158.7H1582.0M1572.5 1160.7H1581.8M1572.5 1162.7H1583.3M1572.5 1164.7H1583.2M1572.5 1166.7H1583.8M1572.5 1168.7H1584.7M1572.5 1170.7H1584.1M1572.5 1172.7H1582.9M1572.5 1174.7H1582.7M1572.5 1176.7H1584.3M1572.5 1178.7H1587.7M1572.5 1180.7H1595.6M1572.5 1182.7H1599.8M1572.5 1184.7H1594.5M1572.5 1186.7H1591.2M1572.5 1188.7H1586.4M1572.5 1190.7H1587.4M1572.5 1192.7H1589.8M1572.5 1194.7H1591.6M1572.5 1196.7H1589.0M1572.5 1198.7H1586.5M1572.5 1200.7H1583.9M1572.5 1202.7H1584.1M1572.5 1204.7H1586.8M1572.5 1206.7H1585.4M1572.5 1208.7H1586.3M1572.5 1220.7H1588.4M1572.5 1222.7H1589.1M1572.5 1224.7H1586.6M1572.5 1226.7H1587.1M1572.5 1228.7H1584.7M1572.5 1230.7H1583.7M1572.5 1232.7H1584.9M1572.5 1234.7H1586.1M1572.5 1236.7H1587.5M1572.5 1238.7H1587.9M1572.5 1240.7H1591.0M1572.5 1242.7H1592.4M1572.5 1244.7H1590.5M1572.5 1246.7H1588.9M1572.5 1248.7H1588.4M1572.5 1250.7H1584.7M1572.5 1252.7H1583.5M1572.5 1254.7H1586.3M1572.5 1256.7H1591.0M1572.5 1258.7H1592.9" stroke="#3a70a4" stroke-width="2.1" fill="none"/><path d="M1572.5 688.7H1605.6M1572.5 690.7H1607.2M1572.5 692.7H1604.5M1572.5 694.7H1597.4M1572.5 696.7H1594.9M1572.5 698.7H1596.3M1572.5 700.7H1598.3M1572.5 702.7H1597.6M1572.5 704.7H1593.3M1572.5 706.7H1596.8M1572.5 708.7H1598.7M1572.5 710.7H1595.6M1572.5 730.7H1600.5M1572.5 732.7H1597.8M1572.5 734.7H1602.2M1572.5 736.7H1601.8M1572.5 738.7H1598.6M1572.5 740.7H1596.5M1572.5 742.7H1594.5M1572.5 758.7H1596.4M1572.5 760.7H1594.0M1572.5 762.7H1594.8M1572.5 764.7H1596.2M1572.5 766.7H1597.0M1572.5 768.7H1603.2M1572.5 770.7H1603.4M1572.5 800.7H1600.2M1572.5 802.7H1605.0M1572.5 804.7H1604.1M1572.5 806.7H1601.0M1572.5 808.7H1606.1M1572.5 810.7H1606.5M1572.5 856.7H1614.4M1572.5 858.7H1623.0M1572.5 860.7H1624.8M1572.5 862.7H1618.1M1572.5 864.7H1615.9M1572.5 866.7H1616.9M1572.5 912.7H1593.5M1572.5 914.7H1591.1M1572.5 916.7H1595.8M1572.5 918.7H1598.5M1572.5 920.7H1598.0M1572.5 970.7H1595.4M1572.5 972.7H1594.4M1572.5 974.7H1594.8M1572.5 976.7H1593.7M1572.5 978.7H1598.1M1572.5 1024.7H1599.3M1572.5 1026.7H1605.9M1572.5 1028.7H1603.2M1572.5 1030.7H1606.1M1572.5 1032.7H1603.0M1572.5 1034.7H1604.2M1572.5 1056.7H1591.8M1572.5 1058.7H1594.9M1572.5 1060.7H1599.6M1572.5 1062.7H1600.9M1572.5 1064.7H1599.5M1572.5 1066.7H1596.9M1572.5 1068.7H1591.8M1572.5 1070.7H1592.9M1572.5 1072.7H1596.9M1572.5 1124.7H1590.7M1572.5 1126.7H1587.1M1572.5 1128.7H1584.5M1572.5 1130.7H1586.5M1572.5 1210.7H1588.7M1572.5 1212.7H1588.7M1572.5 1214.7H1589.3M1572.5 1216.7H1589.9M1572.5 1218.7H1590.7M1572.5 1260.7H1599.1M1572.5 1262.7H1598.6M1572.5 1264.7H1598.9M1572.5 1266.7H1596.3" stroke="#3a78b0" stroke-width="2.1" fill="none"/><path d="M1572.5 688.7H1604.9M1572.5 690.7H1604.1M1572.5 692.7H1600.9M1572.5 694.7H1599.3M1572.5 696.7H1595.9M1572.5 698.7H1595.4M1572.5 710.7H1593.0M1572.5 712.7H1589.7M1572.5 714.7H1585.2M1572.5 716.7H1586.2M1572.5 718.7H1589.9M1572.5 720.7H1589.9M1572.5 722.7H1588.6M1572.5 724.7H1588.0M1572.5 726.7H1588.8M1572.5 728.7H1590.7M1572.5 730.7H1598.9M1572.5 732.7H1601.7M1572.5 734.7H1601.3M1572.5 736.7H1600.6M1572.5 738.7H1598.5M1572.5 740.7H1594.2M1572.5 742.7H1595.5M1572.5 744.7H1596.0M1572.5 746.7H1594.3M1572.5 760.7H1591.7M1572.5 762.7H1590.6M1572.5 772.7H1590.0M1572.5 774.7H1589.3M1572.5 776.7H1589.6M1572.5 790.7H1590.3M1572.5 792.7H1591.5M1572.5 794.7H1591.2M1572.5 796.7H1591.7M1572.5 798.7H1594.6M1572.5 800.7H1599.1M1572.5 802.7H1600.9M1572.5 804.7H1604.7M1572.5 806.7H1605.0M1572.5 808.7H1600.9M1572.5 810.7H1598.4M1572.5 812.7H1600.2M1572.5 814.7H1600.5M1572.5 816.7H1594.7M1572.5 818.7H1590.1M1572.5 820.7H1588.9M1572.5 822.7H1590.1M1572.5 824.7H1589.9M1572.5 838.7H1596.3M1572.5 840.7H1598.1M1572.5 842.7H1595.6M1572.5 850.7H1601.8M1572.5 852.7H1598.8M1572.5 854.7H1598.3M1572.5 862.7H1611.0M1572.5 864.7H1613.4M1572.5 866.7H1612.4M1572.5 874.7H1594.8M1572.5 876.7H1595.9M1572.5 878.7H1589.9M1572.5 886.7H1588.0M1572.5 888.7H1584.5M1572.5 890.7H1586.0M1572.5 892.7H1589.4M1572.5 894.7H1591.3M1572.5 896.7H1591.7M1572.5 898.7H1587.9M1572.5 900.7H1582.3M1572.5 902.7H1584.7M1572.5 910.7H1589.7M1572.5 912.7H1590.8M1572.5 914.7H1593.9M1572.5 916.7H1595.5M1572.5 918.7H1596.6M1572.5 920.7H1597.0M1572.5 922.7H1593.7M1572.5 924.7H1591.0M1572.5 926.7H1590.7M1572.5 928.7H1587.2M1572.5 930.7H1584.5M1572.5 932.7H1585.7M1572.5 958.7H1584.9M1572.5 960.7H1584.4M1572.5 962.7H1586.3M1572.5 964.7H1589.8M1572.5 966.7H1593.4M1572.5 968.7H1592.7M1572.5 970.7H1591.7M1572.5 972.7H1591.9M1572.5 974.7H1590.6M1572.5 982.7H1589.3M1572.5 984.7H1589.7M1572.5 986.7H1590.7M1572.5 988.7H1592.1M1572.5 990.7H1592.0M1572.5 992.7H1588.6M1572.5 994.7H1589.1M1572.5 996.7H1587.7M1572.5 998.7H1587.0M1572.5 1000.7H1588.5M1572.5 1002.7H1586.2M1572.5 1004.7H1586.9M1572.5 1016.7H1590.7M1572.5 1018.7H1590.0M1572.5 1020.7H1589.2M1572.5 1022.7H1589.1M1572.5 1042.7H1589.2M1572.5 1044.7H1586.5M1572.5 1046.7H1585.6M1572.5 1048.7H1585.8M1572.5 1050.7H1588.2M1572.5 1052.7H1589.1M1572.5 1054.7H1587.6M1572.5 1056.7H1589.2M1572.5 1058.7H1588.5M1572.5 1066.7H1591.2M1572.5 1068.7H1589.2M1572.5 1070.7H1591.2M1572.5 1072.7H1588.8M1572.5 1078.7H1585.9M1572.5 1080.7H1583.5M1572.5 1082.7H1584.3M1572.5 1084.7H1583.8M1572.5 1086.7H1584.3M1572.5 1088.7H1584.2M1572.5 1090.7H1586.3M1572.5 1092.7H1585.9M1572.5 1094.7H1589.5M1572.5 1096.7H1588.3M1572.5 1098.7H1591.6M1572.5 1100.7H1590.2M1572.5 1102.7H1589.1M1572.5 1104.7H1586.6M1572.5 1106.7H1584.7M1572.5 1112.7H1581.8M1572.5 1114.7H1581.1M1572.5 1116.7H1582.1M1572.5 1118.7H1584.7M1572.5 1126.7H1583.6M1572.5 1128.7H1582.0M1572.5 1140.7H1579.8M1572.5 1142.7H1580.3M1572.5 1144.7H1579.3M1572.5 1146.7H1578.7M1572.5 1148.7H1580.6M1572.5 1156.7H1580.6M1572.5 1158.7H1580.6M1572.5 1160.7H1581.0M1572.5 1162.7H1581.6M1572.5 1164.7H1580.8M1572.5 1166.7H1581.9M1572.5 1168.7H1582.0M1572.5 1170.7H1581.9M1572.5 1172.7H1581.9M1572.5 1174.7H1583.7M1572.5 1176.7H1584.0M1572.5 1178.7H1584.6M1572.5 1186.7H1582.0M1572.5 1188.7H1579.6M1572.5 1190.7H1580.2M1572.5 1196.7H1579.9M1572.5 1198.7H1581.5M1572.5 1200.7H1582.2M1572.5 1202.7H1583.1M1572.5 1204.7H1582.5M1572.5 1206.7H1584.7M1572.5 1208.7H1584.5M1572.5 1210.7H1585.5M1572.5 1212.7H1584.5M1572.5 1220.7H1584.0M1572.5 1222.7H1585.3M1572.5 1224.7H1584.6M1572.5 1226.7H1584.7M1572.5 1228.7H1581.9M1572.5 1230.7H1580.3M1572.5 1232.7H1580.8M1572.5 1234.7H1580.2M1572.5 1236.7H1581.4M1572.5 1238.7H1581.5M1572.5 1246.7H1580.6M1572.5 1248.7H1582.4M1572.5 1250.7H1582.2M1572.5 1252.7H1583.2M1572.5 1254.7H1585.2M1572.5 1256.7H1587.5M1572.5 1258.7H1588.4" stroke="#3382be" stroke-width="2.1" fill="none"/><path d="M1572.5 700.7H1591.3M1572.5 702.7H1588.7M1572.5 704.7H1586.4M1572.5 706.7H1588.8M1572.5 708.7H1594.4M1572.5 748.7H1592.4M1572.5 750.7H1592.4M1572.5 752.7H1595.4M1572.5 754.7H1592.7M1572.5 756.7H1590.4M1572.5 758.7H1589.8M1572.5 764.7H1591.8M1572.5 766.7H1590.9M1572.5 768.7H1590.6M1572.5 770.7H1589.9M1572.5 778.7H1588.8M1572.5 780.7H1586.7M1572.5 782.7H1586.9M1572.5 784.7H1587.8M1572.5 786.7H1587.5M1572.5 788.7H1591.4M1572.5 826.7H1589.7M1572.5 828.7H1590.7M1572.5 830.7H1590.5M1572.5 832.7H1594.0M1572.5 834.7H1593.5M1572.5 836.7H1594.6M1572.5 844.7H1597.6M1572.5 846.7H1598.3M1572.5 848.7H1597.3M1572.5 856.7H1600.5M1572.5 858.7H1605.8M1572.5 860.7H1608.9M1572.5 868.7H1608.6M1572.5 870.7H1605.6M1572.5 872.7H1599.4M1572.5 880.7H1589.9M1572.5 882.7H1590.1M1572.5 884.7H1590.1M1572.5 904.7H1585.2M1572.5 906.7H1585.3M1572.5 908.7H1586.2M1572.5 934.7H1586.0M1572.5 936.7H1587.0M1572.5 938.7H1585.3M1572.5 940.7H1587.8M1572.5 942.7H1585.4M1572.5 944.7H1587.0M1572.5 946.7H1586.0M1572.5 948.7H1585.3M1572.5 950.7H1583.6M1572.5 952.7H1584.2M1572.5 954.7H1583.7M1572.5 956.7H1582.8M1572.5 976.7H1586.9M1572.5 978.7H1587.5M1572.5 980.7H1589.9M1572.5 1006.7H1586.9M1572.5 1008.7H1588.5M1572.5 1010.7H1590.6M1572.5 1012.7H1591.2M1572.5 1014.7H1590.9M1572.5 1024.7H1589.8M1572.5 1026.7H1592.6M1572.5 1028.7H1593.1M1572.5 1030.7H1593.4M1572.5 1032.7H1591.3M1572.5 1034.7H1593.3M1572.5 1036.7H1590.3M1572.5 1038.7H1589.6M1572.5 1040.7H1587.5M1572.5 1060.7H1589.0M1572.5 1062.7H1588.5M1572.5 1064.7H1589.0M1572.5 1074.7H1587.9M1572.5 1076.7H1586.3M1572.5 1108.7H1583.0M1572.5 1110.7H1582.8M1572.5 1120.7H1584.5M1572.5 1122.7H1584.7M1572.5 1124.7H1585.3M1572.5 1130.7H1581.9M1572.5 1132.7H1582.1M1572.5 1134.7H1582.8M1572.5 1136.7H1581.6M1572.5 1138.7H1580.1M1572.5 1150.7H1579.4M1572.5 1152.7H1580.7M1572.5 1154.7H1581.0M1572.5 1180.7H1585.2M1572.5 1182.7H1584.0M1572.5 1184.7H1582.7M1572.5 1192.7H1581.1M1572.5 1194.7H1579.9M1572.5 1214.7H1583.5M1572.5 1216.7H1584.1M1572.5 1218.7H1583.5M1572.5 1240.7H1580.4M1572.5 1242.7H1580.2M1572.5 1244.7H1581.8M1572.5 1260.7H1589.6M1572.5 1262.7H1591.6M1572.5 1264.7H1590.2M1572.5 1266.7H1587.3" stroke="#2f8fc6" stroke-width="2.1" fill="none"/><polygon points="1588.2,975.1 1605.9,977.8 1603.1,1002.3 1590.9,1005.0" fill="#4a5c94"/><rect x="1575.4" y="841.6" width="14.2" height="3.3" fill="#d8d230"/><rect x="1575.4" y="848.4" width="14.2" height="12.3" fill="#4ade34"/><rect x="1575.4" y="868.3" width="14.2" height="4.4" fill="#44cc30"/><rect x="1573.2" y="881.9" width="9.5" height="2.7" fill="#4ade34"/><rect x="1573.2" y="887.3" width="4.9" height="2.2" fill="#4ade34"/><rect x="1573.2" y="961.4" width="6.8" height="2.7" fill="#4ade34"/><rect x="1573.2" y="970.4" width="5.4" height="3.3" fill="#4ade34"/><rect x="1573.2" y="992.8" width="4.1" height="2.2" fill="#4ade34"/><rect x="1573.2" y="1001.8" width="4.1" height="2.2" fill="#4ade34"/><rect x="1573.2" y="783.0" width="6.0" height="1.6" fill="#4ade34"/><rect x="1577.3" y="826.6" width="5.4" height="1.4" fill="#4ade34"/><rect x="1571.8" y="911.0" width="2.7" height="1.6" fill="#4ade34"/><polygon points="1639.9,663.2 1646.7,659.6 1661.7,661.2 1662.5,666.7 1646.7,667.2" fill="#3a78b0"/><polygon points="1639.9,674.1 1661.7,671.3 1664.4,680.9 1663.1,694.5 1660.3,710.8 1661.7,729.9 1667.2,734.0 1660.3,738.1 1661.7,754.4 1667.2,758.5 1660.3,768.0 1659.0,787.1 1664.4,792.5 1654.9,796.6 1668.5,803.4 1665.8,819.8 1663.1,836.1 1672.6,849.8 1668.5,853.8 1657.6,855.2 1654.9,866.1 1641.3,867.5 1638.5,874.3 1623.6,879.7 1623.6,871.5 1629.0,857.9 1638.5,855.2 1630.4,847.0 1633.1,830.7 1630.4,819.8 1633.1,808.9 1642.6,803.4 1637.2,798.0 1638.5,784.4 1630.4,778.9 1638.5,770.8 1629.0,766.7 1627.7,743.5 1631.7,740.8 1626.3,732.6 1623.6,721.7 1623.6,713.5 1634.5,708.1 1635.8,691.8 1639.9,680.9" fill="#3a70a4"/><polygon points="1675.3,871.5 1684.9,870.5 1694.4,872.1 1694.4,874.8 1684.9,876.4 1675.3,875.4" fill="#3a78b0"/><polygon points="1622.2,898.2 1637.2,897.7 1637.2,901.5 1622.2,901.5" fill="#3a78b0"/><polygon points="1645.4,915.1 1657.6,915.1 1657.6,918.4 1645.4,918.4" fill="#3a78b0"/><polygon points="1614.0,987.3 1619.5,987.3 1619.5,989.5 1614.0,989.5" fill="#3a78b0"/><polygon points="1624.9,1050.0 1630.4,1050.0 1630.4,1051.9 1624.9,1051.9" fill="#3a78b0"/><polygon points="1627.7,1053.5 1633.1,1053.5 1633.1,1055.7 1627.7,1055.7" fill="#3a78b0"/><polygon points="1622.2,1082.7 1629.0,1082.7 1629.0,1086.7 1622.2,1086.7" fill="#3a78b0"/><polygon points="1603.1,949.2 1608.0,949.2 1608.0,951.4 1603.1,951.4" fill="#3a78b0"/><ellipse cx="1682.7" cy="1015.1" rx="12.0" ry="3.5" fill="#2a9ace"/><polygon points="1645.4,999.6 1657.6,998.2 1657.6,1005.0 1659.0,1015.9 1669.9,1024.1 1668.5,1029.5 1659.0,1035.0 1659.0,1047.2 1646.7,1048.6 1641.3,1040.4 1644.0,1032.3 1639.9,1024.1 1644.0,1015.9 1645.4,1007.7" fill="#3a70a4"/><polygon points="1629.0,1114.0 1646.7,1111.3 1652.2,1116.7 1653.5,1127.6 1657.6,1135.8 1646.7,1138.5 1630.4,1130.3 1627.7,1119.4" fill="#3382be"/><polygon points="1609.9,1130.3 1619.5,1127.6 1654.9,1130.3 1656.3,1138.5 1619.5,1138.5 1611.3,1135.8" fill="#3382be"/><polygon points="1595.0,1148.0 1605.9,1141.2 1619.5,1138.5 1646.7,1141.2 1663.1,1148.0 1654.9,1152.1 1633.1,1156.2 1605.9,1155.4" fill="#2f8fc6"/><polygon points="1627.7,1120.0 1652.2,1120.0 1654.9,1130.9 1657.6,1136.3 1646.7,1139.1 1619.5,1137.7 1609.9,1132.3 1616.8,1128.2" fill="#3382be"/><polygon points="1612.7,1163.6 1619.5,1160.9 1633.1,1159.5 1638.5,1152.7 1665.8,1152.7 1668.5,1158.1 1665.8,1169.0 1641.3,1170.4 1619.5,1169.6" fill="#3a78b0"/><polygon points="1652.2,1175.8 1660.3,1173.1 1669.9,1174.5 1669.9,1178.6 1660.3,1180.5" fill="#3a78b0"/><polygon points="1648.1,1207.2 1659.0,1197.6 1664.4,1201.7 1668.5,1223.5 1657.6,1224.9 1649.4,1215.3" fill="#3a6ea4"/><polygon points="1600.4,1192.2 1614.0,1188.1 1614.0,1181.3 1627.7,1177.2 1644.0,1178.6 1654.9,1185.4 1654.9,1193.5 1646.7,1204.4 1633.1,1208.5 1616.8,1207.2 1608.6,1199.0" fill="#2f8fc6"/><ellipse cx="1697.4" cy="1193.8" rx="12.8" ry="3.8" fill="#3382be"/><ellipse cx="1697.4" cy="1202.8" rx="12.8" ry="3.8" fill="#3382be"/><polygon points="1603.1,1230.3 1614.0,1229.0 1624.4,1231.7 1623.6,1237.1 1611.3,1238.5 1603.1,1235.8" fill="#3a78b0"/><polygon points="1597.7,1275.3 1605.9,1264.4 1624.9,1257.6 1654.9,1256.2 1653.5,1250.8 1674.0,1249.4 1679.4,1253.5 1674.0,1261.7 1676.7,1278.0 1674.0,1305.2 1675.3,1324.3 1684.9,1327.0 1684.3,1333.8 1676.7,1337.9 1674.0,1354.3 1652.2,1356.4 1630.4,1354.3 1622.2,1343.4 1615.4,1335.2 1615.4,1318.9 1608.6,1310.7 1598.2,1305.2" fill="#2a94c6"/><polygon points="1605.9,1278.0 1627.7,1267.1 1657.6,1272.5 1663.1,1294.3 1652.2,1316.1 1624.9,1316.1 1608.6,1305.2" fill="#29a6d8"/><polygon points="1652.7,1253.5 1660.3,1250.2 1674.0,1249.7 1678.0,1254.0 1668.5,1260.3 1656.3,1258.9" fill="#2aacd8"/><polygon points="1615.4,1290.3 1622.2,1284.8 1652.2,1284.0 1652.7,1291.6 1646.7,1303.9 1630.4,1306.6 1620.8,1303.9" fill="#4ade34"/><polygon points="1624.4,1286.7 1633.6,1286.2 1634.5,1302.0 1625.5,1302.5" fill="#3cbc2e"/><polygon points="1674.0,1261.7 1679.4,1253.5 1693.0,1252.1 1702.6,1256.2 1703.4,1264.4 1698.5,1271.2 1684.9,1271.2 1675.3,1267.1" fill="#2a8420"/><polygon points="1676.7,1259.5 1684.9,1257.6 1701.2,1258.4 1702.6,1264.9 1684.9,1266.6 1676.7,1264.4" fill="#dc7e14"/><ellipse cx="1588.2" cy="1314.0" rx="9.8" ry="3.5" fill="#3a70a4"/><ellipse cx="1681.6" cy="1537.3" rx="24.0" ry="6.3" fill="#2aa4d4"/>
<line x1="1620.5" x2="1620.5" y1="220" y2="1760" stroke="#fff" stroke-width="1.5"/>
<line x1="1670.8" x2="1670.8" y1="220" y2="1760" stroke="#fff" stroke-width="1.5"/>
<text transform="translate(1597.6,221.5) rotate(90)" class="km">5 km</text>
<text transform="translate(1647.8,221.5) rotate(90)" class="km">10 km</text>
<text transform="translate(1698,221.5) rotate(90)" class="km">15 km</text>
</g>

<!-- frames -->
<rect x="20" y="63.8" width="1549" height="154.7" fill="none" stroke="#000" stroke-width="2.5"/>
<rect x="20" y="219.7" width="1549" height="1540.5" fill="none" stroke="#000" stroke-width="2.5"/>
<rect x="1569.6" y="219.7" width="150.4" height="1540.5" fill="none" stroke="#000" stroke-width="2.5"/>

<rect x="1720" y="1639.1" width="38.5" height="120.9" fill="#3c406c"/>
<rect x="1720" y="1566.9" width="38.5" height="72.8" fill="#3c4c78"/>
<rect x="1720" y="1494.7" width="38.5" height="72.8" fill="#3c5888"/>
<rect x="1720" y="1422.5" width="38.5" height="72.8" fill="#3c6498"/>
<rect x="1720" y="1350.4" width="38.5" height="72.8" fill="#3a70a4"/>
<rect x="1720" y="1302.2" width="38.5" height="48.7" fill="#367aac"/>
<rect x="1720" y="1254.1" width="38.5" height="48.7" fill="#3088bc"/>
<rect x="1720" y="1206.0" width="38.5" height="48.7" fill="#2a94c6"/>
<rect x="1720" y="1181.9" width="38.5" height="24.7" fill="#26a2d2"/>
<rect x="1720" y="1157.9" width="38.5" height="24.7" fill="#2aacd8"/>
<rect x="1720" y="1133.8" width="38.5" height="24.7" fill="#56f038"/>
<rect x="1720" y="1109.8" width="38.5" height="24.7" fill="#4ade34"/>
<rect x="1720" y="1085.7" width="38.5" height="24.7" fill="#44cc30"/>
<rect x="1720" y="1061.6" width="38.5" height="24.7" fill="#3cbc2e"/>
<rect x="1720" y="1037.6" width="38.5" height="24.7" fill="#36aa2a"/>
<rect x="1720" y="1013.5" width="38.5" height="24.7" fill="#309a24"/>
<rect x="1720" y="989.5" width="38.5" height="24.7" fill="#2a8420"/>
<rect x="1720" y="965.4" width="38.5" height="24.7" fill="#22701a"/>
<rect x="1720" y="941.3" width="38.5" height="24.7" fill="#f0f040"/>
<rect x="1720" y="917.3" width="38.5" height="24.7" fill="#e4e63a"/>
<rect x="1720" y="893.2" width="38.5" height="24.7" fill="#d8dc36"/>
<rect x="1720" y="869.2" width="38.5" height="24.7" fill="#d0d230"/>
<rect x="1720" y="845.1" width="38.5" height="24.7" fill="#c4c42c"/>
<rect x="1720" y="821.0" width="38.5" height="24.7" fill="#d0a820"/>
<rect x="1720" y="797.0" width="38.5" height="24.7" fill="#d8961a"/>
<rect x="1720" y="772.9" width="38.5" height="24.7" fill="#dc7e14"/>
<rect x="1720" y="748.9" width="38.5" height="24.7" fill="#ea0c30"/>
<rect x="1720" y="724.8" width="38.5" height="24.7" fill="#c80020"/>
<rect x="1720" y="700.7" width="38.5" height="24.7" fill="#c00018"/>
<rect x="1720" y="676.7" width="38.5" height="24.7" fill="#b0000c"/>
<rect x="1720" y="652.6" width="38.5" height="24.7" fill="#9a0000"/>
<rect x="1720" y="628.6" width="38.5" height="24.7" fill="#c0005c"/>
<rect x="1720" y="604.5" width="38.5" height="24.7" fill="#d8009a"/>
<rect x="1720" y="580.4" width="38.5" height="24.7" fill="#e600e6"/>
<rect x="1720" y="556.4" width="38.5" height="24.7" fill="#cc00cc"/>
<rect x="1720" y="532.3" width="38.5" height="24.7" fill="#b400b4"/>
<rect x="1720" y="508.3" width="38.5" height="24.7" fill="#9a009a"/>
<rect x="1720" y="484.2" width="38.5" height="24.7" fill="#ffffff"/>
<rect x="1720" y="460.1" width="38.5" height="24.7" fill="#e0f7ee"/>
<rect x="1720" y="436.1" width="38.5" height="24.7" fill="#c8f2e2"/>
<rect x="1720" y="412.0" width="38.5" height="24.7" fill="#b4eed8"/>
<rect x="1720" y="388.0" width="38.5" height="24.7" fill="#a5ebd0"/>
<rect x="1720" y="339.8" width="38.5" height="48.7" fill="#95e4c4"/>
<rect x="1720" y="219.5" width="38.5" height="120.9" fill="#88dfbc"/>
<rect x="1720.2" y="220" width="38" height="1540.4" fill="none" stroke="#000" stroke-width="2"/>
<line x1="1759" x2="1768" y1="1687.2" y2="1687.2" stroke="#000" stroke-width="2"/>
<text x="1777.6" y="1699.5" class="cbl">−15</text>
<line x1="1759" x2="1768" y1="1607.0" y2="1607.0" stroke="#000" stroke-width="2"/>
<text x="1777.6" y="1619.3" class="cbl">−10</text>
<line x1="1759" x2="1768" y1="1526.8" y2="1526.8" stroke="#000" stroke-width="2"/>
<text x="1777.6" y="1539.1" class="cbl">−5</text>
<line x1="1759" x2="1768" y1="1446.6" y2="1446.6" stroke="#000" stroke-width="2"/>
<text x="1777.6" y="1458.9" class="cbl">0</text>
<line x1="1759" x2="1768" y1="1366.4" y2="1366.4" stroke="#000" stroke-width="2"/>
<text x="1777.6" y="1378.7" class="cbl">5</text>
<line x1="1759" x2="1768" y1="1286.2" y2="1286.2" stroke="#000" stroke-width="2"/>
<text x="1777.6" y="1298.5" class="cbl">10</text>
<line x1="1759" x2="1768" y1="1206.0" y2="1206.0" stroke="#000" stroke-width="2"/>
<text x="1777.6" y="1218.3" class="cbl">15</text>
<line x1="1759" x2="1768" y1="1125.8" y2="1125.8" stroke="#000" stroke-width="2"/>
<text x="1777.6" y="1138.1" class="cbl">20</text>
<line x1="1759" x2="1768" y1="1045.6" y2="1045.6" stroke="#000" stroke-width="2"/>
<text x="1777.6" y="1057.9" class="cbl">25</text>
<line x1="1759" x2="1768" y1="965.4" y2="965.4" stroke="#000" stroke-width="2"/>
<text x="1777.6" y="977.7" class="cbl">30</text>
<line x1="1759" x2="1768" y1="885.2" y2="885.2" stroke="#000" stroke-width="2"/>
<text x="1777.6" y="897.5" class="cbl">35</text>
<line x1="1759" x2="1768" y1="805.0" y2="805.0" stroke="#000" stroke-width="2"/>
<text x="1777.6" y="817.3" class="cbl">40</text>
<line x1="1759" x2="1768" y1="724.8" y2="724.8" stroke="#000" stroke-width="2"/>
<text x="1777.6" y="737.1" class="cbl">45</text>
<line x1="1759" x2="1768" y1="644.6" y2="644.6" stroke="#000" stroke-width="2"/>
<text x="1777.6" y="656.9" class="cbl">50</text>
<line x1="1759" x2="1768" y1="564.4" y2="564.4" stroke="#000" stroke-width="2"/>
<text x="1777.6" y="576.7" class="cbl">55</text>
<line x1="1759" x2="1768" y1="484.2" y2="484.2" stroke="#000" stroke-width="2"/>
<text x="1777.6" y="496.5" class="cbl">60</text>
<line x1="1759" x2="1768" y1="404.0" y2="404.0" stroke="#000" stroke-width="2"/>
<text x="1777.6" y="416.3" class="cbl">65</text>
<line x1="1759" x2="1768" y1="323.8" y2="323.8" stroke="#000" stroke-width="2"/>
<text x="1777.6" y="336.1" class="cbl">70</text>
<line x1="1759" x2="1768" y1="243.6" y2="243.6" stroke="#000" stroke-width="2"/>
<text x="1777.6" y="255.9" class="cbl">75</text>

<path d="M148.3 1813.3 A47.6 47.6 0 1 0 146.9 1856.4 L127.6 1852.8 A29 29 0 1 1 123.9 1811.9 C131 1815.6 140 1816.6 148.3 1813.3 Z" fill="#ffb400"/>
<path d="M99.17 1820.01 C102.90 1816.62 108.32 1814.72 116.46 1814.59 C127.99 1814.59 138.16 1819.33 150.37 1819.33 C157.15 1819.33 162.57 1816.96 166.30 1813.57 L166.30 1824.76 C162.57 1829.50 157.15 1832.22 150.37 1832.22 C138.16 1832.22 127.99 1827.47 116.46 1827.47 C108.32 1827.61 102.90 1829.84 99.17 1832.56 Z" fill="#0093d6"/>
<path d="M99.17 1840.49 C102.90 1837.10 108.32 1835.20 116.46 1835.07 C127.99 1835.07 138.16 1839.81 150.37 1839.81 C157.15 1839.81 162.57 1837.44 166.30 1834.05 L166.30 1845.24 C162.57 1849.99 157.15 1852.70 150.37 1852.70 C138.16 1852.70 127.99 1847.95 116.46 1847.95 C108.32 1848.09 102.90 1850.32 99.17 1853.04 Z" fill="#0093d6"/>
<text x="177.3" y="1808.1" style="font-family:'Liberation Sans','DejaVu Sans',sans-serif;fill:#222021;font-size:28.4px" textLength="114" lengthAdjust="spacingAndGlyphs">Servicio</text>
<text x="177.9" y="1833.9" style="font-family:'Liberation Sans','DejaVu Sans',sans-serif;fill:#222021;font-size:28.4px" textLength="203.5" lengthAdjust="spacingAndGlyphs">Meteorológico</text>
<text x="177.9" y="1860.3" style="font-family:'Liberation Sans','DejaVu Sans',sans-serif;fill:#222021;font-size:28.4px" textLength="121.5" lengthAdjust="spacingAndGlyphs">Nacional</text>
<text x="180.2" y="1881" style="font-family:'Liberation Sans','DejaVu Sans',sans-serif;fill:#222021;font-size:18.9px;stroke:#222021;stroke-width:0.35" textLength="93.5" lengthAdjust="spacingAndGlyphs">Argentina</text>
<g transform="translate(533.6,1841.3)" opacity="0.95"><path d="M-10.33 -42.44 L-22.00 -38.88 M-10.65 -43.80 L-20.70 -42.09 M-10.79 -45.18 L-22.98 -44.70 M-10.76 -46.57 L-20.92 -47.48 M-10.54 -47.94 L-22.45 -50.58 M-10.16 -49.28 L-19.75 -52.75 M-9.60 -50.55 L-20.44 -56.14 M-8.88 -51.74 L-17.27 -57.54 M-8.02 -52.83 L-17.08 -61.00 M-7.03 -53.80 L-13.66 -61.55 M-5.91 -54.64 L-12.60 -64.84 M-4.71 -55.32 L-9.15 -64.50 M-3.42 -55.84 L-7.28 -67.42 M-2.07 -56.20 L-4.03 -66.21 M-0.70 -56.38 L-1.48 -68.55 M0.70 -56.38 L1.35 -66.56 M2.07 -56.20 L4.42 -68.17 M3.42 -55.84 L6.65 -65.52 M4.71 -55.32 L10.02 -66.30 M5.91 -54.64 L11.50 -63.17 M7.03 -53.80 L14.96 -63.07 M8.02 -52.83 L15.60 -59.66 M8.88 -51.74 L18.92 -58.68 M9.60 -50.55 L18.67 -55.22 M10.16 -49.28 L21.63 -53.43 M10.54 -47.94 L20.50 -50.15 M10.76 -46.57 L22.91 -47.66 M10.79 -45.18 L20.98 -44.78 M10.65 -43.80 L22.68 -41.76 M10.33 -42.44 L20.08 -39.46" stroke="#3a446e" stroke-width="0.95" fill="none" stroke-linecap="round"/><circle cx="0" cy="-45.6" r="10.2" fill="#e6e6e6" stroke="#8a90ab" stroke-width="0.8"/><ellipse cx="-4.2" cy="-46.4" rx="2.6" ry="1.3" fill="#3a446e"/><ellipse cx="4.2" cy="-46.4" rx="2.6" ry="1.3" fill="#3a446e"/><path d="M-1.2 -43.5 L0 -41.5 L1.2 -43.5" stroke="#3a446e" stroke-width="0.7" fill="none"/><g fill="#e6e6e6" stroke="#3a446e" stroke-width="0.7"><ellipse cx="5.37" cy="41.26" rx="3.3" ry="1.35" transform="rotate(-45.2 5.37 41.26)"/><ellipse cx="6.16" cy="45.79" rx="3.3" ry="1.35" transform="rotate(18.8 6.16 45.79)"/><ellipse cx="5.77" cy="43.53" rx="3.3" ry="1.35" transform="rotate(-13.2 5.77 43.53)"/><ellipse cx="9.80" cy="39.73" rx="3.3" ry="1.35" transform="rotate(-56.0 9.80 39.73)"/><ellipse cx="11.26" cy="44.10" rx="3.3" ry="1.35" transform="rotate(8.0 11.26 44.10)"/><ellipse cx="10.53" cy="41.92" rx="3.3" ry="1.35" transform="rotate(-24.0 10.53 41.92)"/><ellipse cx="14.03" cy="37.33" rx="3.3" ry="1.35" transform="rotate(-66.2 14.03 37.33)"/><ellipse cx="16.12" cy="41.43" rx="3.3" ry="1.35" transform="rotate(-2.2 16.12 41.43)"/><ellipse cx="15.07" cy="39.38" rx="3.3" ry="1.35" transform="rotate(-34.2 15.07 39.38)"/><ellipse cx="17.94" cy="34.11" rx="3.3" ry="1.35" transform="rotate(-75.5 17.94 34.11)"/><ellipse cx="20.61" cy="37.86" rx="3.3" ry="1.35" transform="rotate(-11.5 20.61 37.86)"/><ellipse cx="19.28" cy="35.98" rx="3.3" ry="1.35" transform="rotate(-43.5 19.28 35.98)"/><ellipse cx="21.46" cy="30.14" rx="3.3" ry="1.35" transform="rotate(-84.1 21.46 30.14)"/><ellipse cx="24.66" cy="33.45" rx="3.3" ry="1.35" transform="rotate(-20.1 24.66 33.45)"/><ellipse cx="23.06" cy="31.79" rx="3.3" ry="1.35" transform="rotate(-52.1 23.06 31.79)"/><ellipse cx="24.51" cy="25.51" rx="3.3" ry="1.35" transform="rotate(-92.0 24.51 25.51)"/><ellipse cx="28.16" cy="28.31" rx="3.3" ry="1.35" transform="rotate(-28.0 28.16 28.31)"/><ellipse cx="26.34" cy="26.91" rx="3.3" ry="1.35" transform="rotate(-60.0 26.34 26.91)"/><ellipse cx="27.03" cy="20.31" rx="3.3" ry="1.35" transform="rotate(-99.4 27.03 20.31)"/><ellipse cx="31.05" cy="22.54" rx="3.3" ry="1.35" transform="rotate(-35.4 31.05 22.54)"/><ellipse cx="29.04" cy="21.43" rx="3.3" ry="1.35" transform="rotate(-67.4 29.04 21.43)"/><ellipse cx="28.94" cy="14.67" rx="3.3" ry="1.35" transform="rotate(-106.3 28.94 14.67)"/><ellipse cx="33.25" cy="16.28" rx="3.3" ry="1.35" transform="rotate(-42.3 33.25 16.28)"/><ellipse cx="31.10" cy="15.48" rx="3.3" ry="1.35" transform="rotate(-74.3 31.10 15.48)"/><ellipse cx="30.22" cy="8.71" rx="3.3" ry="1.35" transform="rotate(-112.9 30.22 8.71)"/><ellipse cx="34.72" cy="9.67" rx="3.3" ry="1.35" transform="rotate(-48.9 34.72 9.67)"/><ellipse cx="32.47" cy="9.19" rx="3.3" ry="1.35" transform="rotate(-80.9 32.47 9.19)"/><ellipse cx="30.84" cy="2.56" rx="3.3" ry="1.35" transform="rotate(-119.4 30.84 2.56)"/><ellipse cx="35.43" cy="2.84" rx="3.3" ry="1.35" transform="rotate(-55.4 35.43 2.84)"/><ellipse cx="33.14" cy="2.70" rx="3.3" ry="1.35" transform="rotate(-87.4 33.14 2.70)"/><ellipse cx="30.78" cy="-3.65" rx="3.3" ry="1.35" transform="rotate(-125.8 30.78 -3.65)"/><ellipse cx="35.36" cy="-4.05" rx="3.3" ry="1.35" transform="rotate(-61.8 35.36 -4.05)"/><ellipse cx="33.07" cy="-3.85" rx="3.3" ry="1.35" transform="rotate(-93.8 33.07 -3.85)"/><ellipse cx="30.05" cy="-9.78" rx="3.3" ry="1.35" transform="rotate(-132.2 30.05 -9.78)"/><ellipse cx="34.52" cy="-10.86" rx="3.3" ry="1.35" transform="rotate(-68.2 34.52 -10.86)"/><ellipse cx="32.28" cy="-10.32" rx="3.3" ry="1.35" transform="rotate(-100.2 32.28 -10.32)"/><ellipse cx="28.65" cy="-15.70" rx="3.3" ry="1.35" transform="rotate(-138.9 28.65 -15.70)"/><ellipse cx="32.92" cy="-17.42" rx="3.3" ry="1.35" transform="rotate(-74.9 32.92 -17.42)"/><ellipse cx="30.78" cy="-16.56" rx="3.3" ry="1.35" transform="rotate(-106.9 30.78 -16.56)"/><ellipse cx="26.62" cy="-21.27" rx="3.3" ry="1.35" transform="rotate(-145.9 26.62 -21.27)"/><ellipse cx="30.59" cy="-23.60" rx="3.3" ry="1.35" transform="rotate(-81.9 30.59 -23.60)"/><ellipse cx="28.61" cy="-22.43" rx="3.3" ry="1.35" transform="rotate(-113.9 28.61 -22.43)"/><ellipse cx="24.01" cy="-26.37" rx="3.3" ry="1.35" transform="rotate(-153.3 24.01 -26.37)"/><ellipse cx="27.59" cy="-29.26" rx="3.3" ry="1.35" transform="rotate(-89.3 27.59 -29.26)"/><ellipse cx="25.80" cy="-27.82" rx="3.3" ry="1.35" transform="rotate(-121.3 25.80 -27.82)"/><ellipse cx="20.88" cy="-30.89" rx="3.3" ry="1.35" transform="rotate(-161.3 20.88 -30.89)"/><ellipse cx="23.98" cy="-34.28" rx="3.3" ry="1.35" transform="rotate(-97.3 23.98 -34.28)"/><ellipse cx="22.43" cy="-32.59" rx="3.3" ry="1.35" transform="rotate(-129.3 22.43 -32.59)"/><ellipse cx="17.28" cy="-34.74" rx="3.3" ry="1.35" transform="rotate(-170.1 17.28 -34.74)"/><ellipse cx="19.85" cy="-38.55" rx="3.3" ry="1.35" transform="rotate(-106.1 19.85 -38.55)"/><ellipse cx="18.57" cy="-36.64" rx="3.3" ry="1.35" transform="rotate(-138.1 18.57 -36.64)"/><ellipse cx="-5.37" cy="41.26" rx="3.3" ry="1.35" transform="rotate(-134.8 -5.37 41.26)"/><ellipse cx="-6.16" cy="45.79" rx="3.3" ry="1.35" transform="rotate(-198.8 -6.16 45.79)"/><ellipse cx="-5.77" cy="43.53" rx="3.3" ry="1.35" transform="rotate(-166.8 -5.77 43.53)"/><ellipse cx="-9.80" cy="39.73" rx="3.3" ry="1.35" transform="rotate(-124.0 -9.80 39.73)"/><ellipse cx="-11.26" cy="44.10" rx="3.3" ry="1.35" transform="rotate(-188.0 -11.26 44.10)"/><ellipse cx="-10.53" cy="41.92" rx="3.3" ry="1.35" transform="rotate(-156.0 -10.53 41.92)"/><ellipse cx="-14.03" cy="37.33" rx="3.3" ry="1.35" transform="rotate(-113.8 -14.03 37.33)"/><ellipse cx="-16.12" cy="41.43" rx="3.3" ry="1.35" transform="rotate(-177.8 -16.12 41.43)"/><ellipse cx="-15.07" cy="39.38" rx="3.3" ry="1.35" transform="rotate(-145.8 -15.07 39.38)"/><ellipse cx="-17.94" cy="34.11" rx="3.3" ry="1.35" transform="rotate(-104.5 -17.94 34.11)"/><ellipse cx="-20.61" cy="37.86" rx="3.3" ry="1.35" transform="rotate(-168.5 -20.61 37.86)"/><ellipse cx="-19.28" cy="35.98" rx="3.3" ry="1.35" transform="rotate(-136.5 -19.28 35.98)"/><ellipse cx="-21.46" cy="30.14" rx="3.3" ry="1.35" transform="rotate(-95.9 -21.46 30.14)"/><ellipse cx="-24.66" cy="33.45" rx="3.3" ry="1.35" transform="rotate(-159.9 -24.66 33.45)"/><ellipse cx="-23.06" cy="31.79" rx="3.3" ry="1.35" transform="rotate(-127.9 -23.06 31.79)"/><ellipse cx="-24.51" cy="25.51" rx="3.3" ry="1.35" transform="rotate(-88.0 -24.51 25.51)"/><ellipse cx="-28.16" cy="28.31" rx="3.3" ry="1.35" transform="rotate(-152.0 -28.16 28.31)"/><ellipse cx="-26.34" cy="26.91" rx="3.3" ry="1.35" transform="rotate(-120.0 -26.34 26.91)"/><ellipse cx="-27.03" cy="20.31" rx="3.3" ry="1.35" transform="rotate(-80.6 -27.03 20.31)"/><ellipse cx="-31.05" cy="22.54" rx="3.3" ry="1.35" transform="rotate(-144.6 -31.05 22.54)"/><ellipse cx="-29.04" cy="21.43" rx="3.3" ry="1.35" transform="rotate(-112.6 -29.04 21.43)"/><ellipse cx="-28.94" cy="14.67" rx="3.3" ry="1.35" transform="rotate(-73.7 -28.94 14.67)"/><ellipse cx="-33.25" cy="16.28" rx="3.3" ry="1.35" transform="rotate(-137.7 -33.25 16.28)"/><ellipse cx="-31.10" cy="15.48" rx="3.3" ry="1.35" transform="rotate(-105.7 -31.10 15.48)"/><ellipse cx="-30.22" cy="8.71" rx="3.3" ry="1.35" transform="rotate(-67.1 -30.22 8.71)"/><ellipse cx="-34.72" cy="9.67" rx="3.3" ry="1.35" transform="rotate(-131.1 -34.72 9.67)"/><ellipse cx="-32.47" cy="9.19" rx="3.3" ry="1.35" transform="rotate(-99.1 -32.47 9.19)"/><ellipse cx="-30.84" cy="2.56" rx="3.3" ry="1.35" transform="rotate(-60.6 -30.84 2.56)"/><ellipse cx="-35.43" cy="2.84" rx="3.3" ry="1.35" transform="rotate(-124.6 -35.43 2.84)"/><ellipse cx="-33.14" cy="2.70" rx="3.3" ry="1.35" transform="rotate(-92.6 -33.14 2.70)"/><ellipse cx="-30.78" cy="-3.65" rx="3.3" ry="1.35" transform="rotate(-54.2 -30.78 -3.65)"/><ellipse cx="-35.36" cy="-4.05" rx="3.3" ry="1.35" transform="rotate(-118.2 -35.36 -4.05)"/><ellipse cx="-33.07" cy="-3.85" rx="3.3" ry="1.35" transform="rotate(-86.2 -33.07 -3.85)"/><ellipse cx="-30.05" cy="-9.78" rx="3.3" ry="1.35" transform="rotate(-47.8 -30.05 -9.78)"/><ellipse cx="-34.52" cy="-10.86" rx="3.3" ry="1.35" transform="rotate(-111.8 -34.52 -10.86)"/><ellipse cx="-32.28" cy="-10.32" rx="3.3" ry="1.35" transform="rotate(-79.8 -32.28 -10.32)"/><ellipse cx="-28.65" cy="-15.70" rx="3.3" ry="1.35" transform="rotate(-41.1 -28.65 -15.70)"/><ellipse cx="-32.92" cy="-17.42" rx="3.3" ry="1.35" transform="rotate(-105.1 -32.92 -17.42)"/><ellipse cx="-30.78" cy="-16.56" rx="3.3" ry="1.35" transform="rotate(-73.1 -30.78 -16.56)"/><ellipse cx="-26.62" cy="-21.27" rx="3.3" ry="1.35" transform="rotate(-34.1 -26.62 -21.27)"/><ellipse cx="-30.59" cy="-23.60" rx="3.3" ry="1.35" transform="rotate(-98.1 -30.59 -23.60)"/><ellipse cx="-28.61" cy="-22.43" rx="3.3" ry="1.35" transform="rotate(-66.1 -28.61 -22.43)"/><ellipse cx="-24.01" cy="-26.37" rx="3.3" ry="1.35" transform="rotate(-26.7 -24.01 -26.37)"/><ellipse cx="-27.59" cy="-29.26" rx="3.3" ry="1.35" transform="rotate(-90.7 -27.59 -29.26)"/><ellipse cx="-25.80" cy="-27.82" rx="3.3" ry="1.35" transform="rotate(-58.7 -25.80 -27.82)"/><ellipse cx="-20.88" cy="-30.89" rx="3.3" ry="1.35" transform="rotate(-18.7 -20.88 -30.89)"/><ellipse cx="-23.98" cy="-34.28" rx="3.3" ry="1.35" transform="rotate(-82.7 -23.98 -34.28)"/><ellipse cx="-22.43" cy="-32.59" rx="3.3" ry="1.35" transform="rotate(-50.7 -22.43 -32.59)"/><ellipse cx="-17.28" cy="-34.74" rx="3.3" ry="1.35" transform="rotate(-9.9 -17.28 -34.74)"/><ellipse cx="-19.85" cy="-38.55" rx="3.3" ry="1.35" transform="rotate(-73.9 -19.85 -38.55)"/><ellipse cx="-18.57" cy="-36.64" rx="3.3" ry="1.35" transform="rotate(-41.9 -18.57 -36.64)"/></g><ellipse cx="0" cy="0" rx="28.4" ry="39.8" fill="#e6e6e6" stroke="#3a446e" stroke-width="1.05"/><line x1="-8.1" x2="8.1" y1="-37.3" y2="-37.3" stroke="#8a90ab" stroke-width="0.9"/><line x1="-16.7" x2="16.7" y1="-31.1" y2="-31.1" stroke="#8a90ab" stroke-width="0.9"/><line x1="-21.2" x2="21.2" y1="-24.9" y2="-24.9" stroke="#8a90ab" stroke-width="0.9"/><line x1="-23.9" x2="23.9" y1="-19.4" y2="-19.4" stroke="#8a90ab" stroke-width="0.9"/><line x1="-25.8" x2="25.8" y1="-13.8" y2="-13.8" stroke="#8a90ab" stroke-width="0.9"/><line x1="-27.0" x2="27.0" y1="-8.0" y2="-8.0" stroke="#8a90ab" stroke-width="0.9"/><line x1="-27.6" x2="27.6" y1="-2.0" y2="-2.0" stroke="#8a90ab" stroke-width="0.9"/><line x1="-27.4" x2="27.4" y1="4.8" y2="4.8" stroke="#8a90ab" stroke-width="0.9"/><path d="M-26.5 10 C-18 9 -10 6.3 -3 5 M-23.5 20.8 C-17 18 -12 15 -7 13.3 M27 10 C20 9 10 5.5 3 6 M24.3 21.2 C18 19 13 15.7 9 14.5" stroke="#3a446e" stroke-width="0.9" fill="none"/><path d="M-9 13 C-8 8 -3 6.5 2 7.5 C7 8.5 10 11 10.5 14 C8 18 3 19 -1 18.2 C-5 18.6 -8 16.5 -9 13 Z" fill="#e6e6e6" stroke="#3a446e" stroke-width="0.9"/><path d="M-6 15.5 L-3 12 M-3.5 17 L-0.5 13.5 M-1 17.8 L2 14.5 M3 10.5 L7.5 15.5 M1 9.5 L6 9.8" stroke="#3a446e" stroke-width="0.7" fill="none"/><line x1="0" x2="0" y1="-14.5" y2="7" stroke="#3a446e" stroke-width="1.9"/><line x1="0" x2="0" y1="17.5" y2="31.2" stroke="#3a446e" stroke-width="1.9"/><path d="M-8.6 -13.8 C-9.6 -19 -8 -23 -9.3 -26.5 C-8.5 -29.5 -3 -29.8 1.5 -28.8 C8 -26.5 10.2 -19 9.6 -13.4 C5 -11.6 -4 -11.8 -8.6 -13.8 Z" fill="#e6e6e6" stroke="#3a446e" stroke-width="1"/><path d="M-8.8 -24.5 C-5 -22.5 -1 -23.5 1.5 -25.5 M-7 -20 C-2 -17.5 5 -18.5 9.4 -21" stroke="#3a446e" stroke-width="0.7" fill="none"/><path d="M-4.6 42.8 L4.6 42.8 L3.6 47.6 L-3.6 47.6 Z" fill="#3a446e"/><path d="M-2.6 47.5 L-11 54.8 L-9.2 55.6 L-8.6 57.2 L-0.8 49.2 M2.6 47.5 L11 54.8 L9.2 55.6 L8.6 57.2 L0.8 49.2" fill="#3a446e" stroke="#3a446e" stroke-width="0.3"/></g>
<g transform="translate(894.0,1841.3)" opacity="1.00"><path d="M-10.33 -42.44 L-22.00 -38.88 M-10.65 -43.80 L-20.70 -42.09 M-10.79 -45.18 L-22.98 -44.70 M-10.76 -46.57 L-20.92 -47.48 M-10.54 -47.94 L-22.45 -50.58 M-10.16 -49.28 L-19.75 -52.75 M-9.60 -50.55 L-20.44 -56.14 M-8.88 -51.74 L-17.27 -57.54 M-8.02 -52.83 L-17.08 -61.00 M-7.03 -53.80 L-13.66 -61.55 M-5.91 -54.64 L-12.60 -64.84 M-4.71 -55.32 L-9.15 -64.50 M-3.42 -55.84 L-7.28 -67.42 M-2.07 -56.20 L-4.03 -66.21 M-0.70 -56.38 L-1.48 -68.55 M0.70 -56.38 L1.35 -66.56 M2.07 -56.20 L4.42 -68.17 M3.42 -55.84 L6.65 -65.52 M4.71 -55.32 L10.02 -66.30 M5.91 -54.64 L11.50 -63.17 M7.03 -53.80 L14.96 -63.07 M8.02 -52.83 L15.60 -59.66 M8.88 -51.74 L18.92 -58.68 M9.60 -50.55 L18.67 -55.22 M10.16 -49.28 L21.63 -53.43 M10.54 -47.94 L20.50 -50.15 M10.76 -46.57 L22.91 -47.66 M10.79 -45.18 L20.98 -44.78 M10.65 -43.80 L22.68 -41.76 M10.33 -42.44 L20.08 -39.46" stroke="#252f58" stroke-width="0.95" fill="none" stroke-linecap="round"/><circle cx="0" cy="-45.6" r="10.2" fill="#e6e6e6" stroke="#7d84a3" stroke-width="0.8"/><ellipse cx="-4.2" cy="-46.4" rx="2.6" ry="1.3" fill="#252f58"/><ellipse cx="4.2" cy="-46.4" rx="2.6" ry="1.3" fill="#252f58"/><path d="M-1.2 -43.5 L0 -41.5 L1.2 -43.5" stroke="#252f58" stroke-width="0.7" fill="none"/><g fill="#e6e6e6" stroke="#252f58" stroke-width="0.7"><ellipse cx="5.37" cy="41.26" rx="3.3" ry="1.35" transform="rotate(-45.2 5.37 41.26)"/><ellipse cx="6.16" cy="45.79" rx="3.3" ry="1.35" transform="rotate(18.8 6.16 45.79)"/><ellipse cx="5.77" cy="43.53" rx="3.3" ry="1.35" transform="rotate(-13.2 5.77 43.53)"/><ellipse cx="9.80" cy="39.73" rx="3.3" ry="1.35" transform="rotate(-56.0 9.80 39.73)"/><ellipse cx="11.26" cy="44.10" rx="3.3" ry="1.35" transform="rotate(8.0 11.26 44.10)"/><ellipse cx="10.53" cy="41.92" rx="3.3" ry="1.35" transform="rotate(-24.0 10.53 41.92)"/><ellipse cx="14.03" cy="37.33" rx="3.3" ry="1.35" transform="rotate(-66.2 14.03 37.33)"/><ellipse cx="16.12" cy="41.43" rx="3.3" ry="1.35" transform="rotate(-2.2 16.12 41.43)"/><ellipse cx="15.07" cy="39.38" rx="3.3" ry="1.35" transform="rotate(-34.2 15.07 39.38)"/><ellipse cx="17.94" cy="34.11" rx="3.3" ry="1.35" transform="rotate(-75.5 17.94 34.11)"/><ellipse cx="20.61" cy="37.86" rx="3.3" ry="1.35" transform="rotate(-11.5 20.61 37.86)"/><ellipse cx="19.28" cy="35.98" rx="3.3" ry="1.35" transform="rotate(-43.5 19.28 35.98)"/><ellipse cx="21.46" cy="30.14" rx="3.3" ry="1.35" transform="rotate(-84.1 21.46 30.14)"/><ellipse cx="24.66" cy="33.45" rx="3.3" ry="1.35" transform="rotate(-20.1 24.66 33.45)"/><ellipse cx="23.06" cy="31.79" rx="3.3" ry="1.35" transform="rotate(-52.1 23.06 31.79)"/><ellipse cx="24.51" cy="25.51" rx="3.3" ry="1.35" transform="rotate(-92.0 24.51 25.51)"/><ellipse cx="28.16" cy="28.31" rx="3.3" ry="1.35" transform="rotate(-28.0 28.16 28.31)"/><ellipse cx="26.34" cy="26.91" rx="3.3" ry="1.35" transform="rotate(-60.0 26.34 26.91)"/><ellipse cx="27.03" cy="20.31" rx="3.3" ry="1.35" transform="rotate(-99.4 27.03 20.31)"/><ellipse cx="31.05" cy="22.54" rx="3.3" ry="1.35" transform="rotate(-35.4 31.05 22.54)"/><ellipse cx="29.04" cy="21.43" rx="3.3" ry="1.35" transform="rotate(-67.4 29.04 21.43)"/><ellipse cx="28.94" cy="14.67" rx="3.3" ry="1.35" transform="rotate(-106.3 28.94 14.67)"/><ellipse cx="33.25" cy="16.28" rx="3.3" ry="1.35" transform="rotate(-42.3 33.25 16.28)"/><ellipse cx="31.10" cy="15.48" rx="3.3" ry="1.35" transform="rotate(-74.3 31.10 15.48)"/><ellipse cx="30.22" cy="8.71" rx="3.3" ry="1.35" transform="rotate(-112.9 30.22 8.71)"/><ellipse cx="34.72" cy="9.67" rx="3.3" ry="1.35" transform="rotate(-48.9 34.72 9.67)"/><ellipse cx="32.47" cy="9.19" rx="3.3" ry="1.35" transform="rotate(-80.9 32.47 9.19)"/><ellipse cx="30.84" cy="2.56" rx="3.3" ry="1.35" transform="rotate(-119.4 30.84 2.56)"/><ellipse cx="35.43" cy="2.84" rx="3.3" ry="1.35" transform="rotate(-55.4 35.43 2.84)"/><ellipse cx="33.14" cy="2.70" rx="3.3" ry="1.35" transform="rotate(-87.4 33.14 2.70)"/><ellipse cx="30.78" cy="-3.65" rx="3.3" ry="1.35" transform="rotate(-125.8 30.78 -3.65)"/><ellipse cx="35.36" cy="-4.05" rx="3.3" ry="1.35" transform="rotate(-61.8 35.36 -4.05)"/><ellipse cx="33.07" cy="-3.85" rx="3.3" ry="1.35" transform="rotate(-93.8 33.07 -3.85)"/><ellipse cx="30.05" cy="-9.78" rx="3.3" ry="1.35" transform="rotate(-132.2 30.05 -9.78)"/><ellipse cx="34.52" cy="-10.86" rx="3.3" ry="1.35" transform="rotate(-68.2 34.52 -10.86)"/><ellipse cx="32.28" cy="-10.32" rx="3.3" ry="1.35" transform="rotate(-100.2 32.28 -10.32)"/><ellipse cx="28.65" cy="-15.70" rx="3.3" ry="1.35" transform="rotate(-138.9 28.65 -15.70)"/><ellipse cx="32.92" cy="-17.42" rx="3.3" ry="1.35" transform="rotate(-74.9 32.92 -17.42)"/><ellipse cx="30.78" cy="-16.56" rx="3.3" ry="1.35" transform="rotate(-106.9 30.78 -16.56)"/><ellipse cx="26.62" cy="-21.27" rx="3.3" ry="1.35" transform="rotate(-145.9 26.62 -21.27)"/><ellipse cx="30.59" cy="-23.60" rx="3.3" ry="1.35" transform="rotate(-81.9 30.59 -23.60)"/><ellipse cx="28.61" cy="-22.43" rx="3.3" ry="1.35" transform="rotate(-113.9 28.61 -22.43)"/><ellipse cx="24.01" cy="-26.37" rx="3.3" ry="1.35" transform="rotate(-153.3 24.01 -26.37)"/><ellipse cx="27.59" cy="-29.26" rx="3.3" ry="1.35" transform="rotate(-89.3 27.59 -29.26)"/><ellipse cx="25.80" cy="-27.82" rx="3.3" ry="1.35" transform="rotate(-121.3 25.80 -27.82)"/><ellipse cx="20.88" cy="-30.89" rx="3.3" ry="1.35" transform="rotate(-161.3 20.88 -30.89)"/><ellipse cx="23.98" cy="-34.28" rx="3.3" ry="1.35" transform="rotate(-97.3 23.98 -34.28)"/><ellipse cx="22.43" cy="-32.59" rx="3.3" ry="1.35" transform="rotate(-129.3 22.43 -32.59)"/><ellipse cx="17.28" cy="-34.74" rx="3.3" ry="1.35" transform="rotate(-170.1 17.28 -34.74)"/><ellipse cx="19.85" cy="-38.55" rx="3.3" ry="1.35" transform="rotate(-106.1 19.85 -38.55)"/><ellipse cx="18.57" cy="-36.64" rx="3.3" ry="1.35" transform="rotate(-138.1 18.57 -36.64)"/><ellipse cx="-5.37" cy="41.26" rx="3.3" ry="1.35" transform="rotate(-134.8 -5.37 41.26)"/><ellipse cx="-6.16" cy="45.79" rx="3.3" ry="1.35" transform="rotate(-198.8 -6.16 45.79)"/><ellipse cx="-5.77" cy="43.53" rx="3.3" ry="1.35" transform="rotate(-166.8 -5.77 43.53)"/><ellipse cx="-9.80" cy="39.73" rx="3.3" ry="1.35" transform="rotate(-124.0 -9.80 39.73)"/><ellipse cx="-11.26" cy="44.10" rx="3.3" ry="1.35" transform="rotate(-188.0 -11.26 44.10)"/><ellipse cx="-10.53" cy="41.92" rx="3.3" ry="1.35" transform="rotate(-156.0 -10.53 41.92)"/><ellipse cx="-14.03" cy="37.33" rx="3.3" ry="1.35" transform="rotate(-113.8 -14.03 37.33)"/><ellipse cx="-16.12" cy="41.43" rx="3.3" ry="1.35" transform="rotate(-177.8 -16.12 41.43)"/><ellipse cx="-15.07" cy="39.38" rx="3.3" ry="1.35" transform="rotate(-145.8 -15.07 39.38)"/><ellipse cx="-17.94" cy="34.11" rx="3.3" ry="1.35" transform="rotate(-104.5 -17.94 34.11)"/><ellipse cx="-20.61" cy="37.86" rx="3.3" ry="1.35" transform="rotate(-168.5 -20.61 37.86)"/><ellipse cx="-19.28" cy="35.98" rx="3.3" ry="1.35" transform="rotate(-136.5 -19.28 35.98)"/><ellipse cx="-21.46" cy="30.14" rx="3.3" ry="1.35" transform="rotate(-95.9 -21.46 30.14)"/><ellipse cx="-24.66" cy="33.45" rx="3.3" ry="1.35" transform="rotate(-159.9 -24.66 33.45)"/><ellipse cx="-23.06" cy="31.79" rx="3.3" ry="1.35" transform="rotate(-127.9 -23.06 31.79)"/><ellipse cx="-24.51" cy="25.51" rx="3.3" ry="1.35" transform="rotate(-88.0 -24.51 25.51)"/><ellipse cx="-28.16" cy="28.31" rx="3.3" ry="1.35" transform="rotate(-152.0 -28.16 28.31)"/><ellipse cx="-26.34" cy="26.91" rx="3.3" ry="1.35" transform="rotate(-120.0 -26.34 26.91)"/><ellipse cx="-27.03" cy="20.31" rx="3.3" ry="1.35" transform="rotate(-80.6 -27.03 20.31)"/><ellipse cx="-31.05" cy="22.54" rx="3.3" ry="1.35" transform="rotate(-144.6 -31.05 22.54)"/><ellipse cx="-29.04" cy="21.43" rx="3.3" ry="1.35" transform="rotate(-112.6 -29.04 21.43)"/><ellipse cx="-28.94" cy="14.67" rx="3.3" ry="1.35" transform="rotate(-73.7 -28.94 14.67)"/><ellipse cx="-33.25" cy="16.28" rx="3.3" ry="1.35" transform="rotate(-137.7 -33.25 16.28)"/><ellipse cx="-31.10" cy="15.48" rx="3.3" ry="1.35" transform="rotate(-105.7 -31.10 15.48)"/><ellipse cx="-30.22" cy="8.71" rx="3.3" ry="1.35" transform="rotate(-67.1 -30.22 8.71)"/><ellipse cx="-34.72" cy="9.67" rx="3.3" ry="1.35" transform="rotate(-131.1 -34.72 9.67)"/><ellipse cx="-32.47" cy="9.19" rx="3.3" ry="1.35" transform="rotate(-99.1 -32.47 9.19)"/><ellipse cx="-30.84" cy="2.56" rx="3.3" ry="1.35" transform="rotate(-60.6 -30.84 2.56)"/><ellipse cx="-35.43" cy="2.84" rx="3.3" ry="1.35" transform="rotate(-124.6 -35.43 2.84)"/><ellipse cx="-33.14" cy="2.70" rx="3.3" ry="1.35" transform="rotate(-92.6 -33.14 2.70)"/><ellipse cx="-30.78" cy="-3.65" rx="3.3" ry="1.35" transform="rotate(-54.2 -30.78 -3.65)"/><ellipse cx="-35.36" cy="-4.05" rx="3.3" ry="1.35" transform="rotate(-118.2 -35.36 -4.05)"/><ellipse cx="-33.07" cy="-3.85" rx="3.3" ry="1.35" transform="rotate(-86.2 -33.07 -3.85)"/><ellipse cx="-30.05" cy="-9.78" rx="3.3" ry="1.35" transform="rotate(-47.8 -30.05 -9.78)"/><ellipse cx="-34.52" cy="-10.86" rx="3.3" ry="1.35" transform="rotate(-111.8 -34.52 -10.86)"/><ellipse cx="-32.28" cy="-10.32" rx="3.3" ry="1.35" transform="rotate(-79.8 -32.28 -10.32)"/><ellipse cx="-28.65" cy="-15.70" rx="3.3" ry="1.35" transform="rotate(-41.1 -28.65 -15.70)"/><ellipse cx="-32.92" cy="-17.42" rx="3.3" ry="1.35" transform="rotate(-105.1 -32.92 -17.42)"/><ellipse cx="-30.78" cy="-16.56" rx="3.3" ry="1.35" transform="rotate(-73.1 -30.78 -16.56)"/><ellipse cx="-26.62" cy="-21.27" rx="3.3" ry="1.35" transform="rotate(-34.1 -26.62 -21.27)"/><ellipse cx="-30.59" cy="-23.60" rx="3.3" ry="1.35" transform="rotate(-98.1 -30.59 -23.60)"/><ellipse cx="-28.61" cy="-22.43" rx="3.3" ry="1.35" transform="rotate(-66.1 -28.61 -22.43)"/><ellipse cx="-24.01" cy="-26.37" rx="3.3" ry="1.35" transform="rotate(-26.7 -24.01 -26.37)"/><ellipse cx="-27.59" cy="-29.26" rx="3.3" ry="1.35" transform="rotate(-90.7 -27.59 -29.26)"/><ellipse cx="-25.80" cy="-27.82" rx="3.3" ry="1.35" transform="rotate(-58.7 -25.80 -27.82)"/><ellipse cx="-20.88" cy="-30.89" rx="3.3" ry="1.35" transform="rotate(-18.7 -20.88 -30.89)"/><ellipse cx="-23.98" cy="-34.28" rx="3.3" ry="1.35" transform="rotate(-82.7 -23.98 -34.28)"/><ellipse cx="-22.43" cy="-32.59" rx="3.3" ry="1.35" transform="rotate(-50.7 -22.43 -32.59)"/><ellipse cx="-17.28" cy="-34.74" rx="3.3" ry="1.35" transform="rotate(-9.9 -17.28 -34.74)"/><ellipse cx="-19.85" cy="-38.55" rx="3.3" ry="1.35" transform="rotate(-73.9 -19.85 -38.55)"/><ellipse cx="-18.57" cy="-36.64" rx="3.3" ry="1.35" transform="rotate(-41.9 -18.57 -36.64)"/></g><ellipse cx="0" cy="0" rx="28.4" ry="39.8" fill="#e6e6e6" stroke="#252f58" stroke-width="1.05"/><line x1="-8.1" x2="8.1" y1="-37.3" y2="-37.3" stroke="#7d84a3" stroke-width="0.9"/><line x1="-16.7" x2="16.7" y1="-31.1" y2="-31.1" stroke="#7d84a3" stroke-width="0.9"/><line x1="-21.2" x2="21.2" y1="-24.9" y2="-24.9" stroke="#7d84a3" stroke-width="0.9"/><line x1="-23.9" x2="23.9" y1="-19.4" y2="-19.4" stroke="#7d84a3" stroke-width="0.9"/><line x1="-25.8" x2="25.8" y1="-13.8" y2="-13.8" stroke="#7d84a3" stroke-width="0.9"/><line x1="-27.0" x2="27.0" y1="-8.0" y2="-8.0" stroke="#7d84a3" stroke-width="0.9"/><line x1="-27.6" x2="27.6" y1="-2.0" y2="-2.0" stroke="#7d84a3" stroke-width="0.9"/><line x1="-27.4" x2="27.4" y1="4.8" y2="4.8" stroke="#7d84a3" stroke-width="0.9"/><path d="M-26.5 10 C-18 9 -10 6.3 -3 5 M-23.5 20.8 C-17 18 -12 15 -7 13.3 M27 10 C20 9 10 5.5 3 6 M24.3 21.2 C18 19 13 15.7 9 14.5" stroke="#252f58" stroke-width="0.9" fill="none"/><path d="M-9 13 C-8 8 -3 6.5 2 7.5 C7 8.5 10 11 10.5 14 C8 18 3 19 -1 18.2 C-5 18.6 -8 16.5 -9 13 Z" fill="#e6e6e6" stroke="#252f58" stroke-width="0.9"/><path d="M-6 15.5 L-3 12 M-3.5 17 L-0.5 13.5 M-1 17.8 L2 14.5 M3 10.5 L7.5 15.5 M1 9.5 L6 9.8" stroke="#252f58" stroke-width="0.7" fill="none"/><line x1="0" x2="0" y1="-14.5" y2="7" stroke="#252f58" stroke-width="1.9"/><line x1="0" x2="0" y1="17.5" y2="31.2" stroke="#252f58" stroke-width="1.9"/><path d="M-8.6 -13.8 C-9.6 -19 -8 -23 -9.3 -26.5 C-8.5 -29.5 -3 -29.8 1.5 -28.8 C8 -26.5 10.2 -19 9.6 -13.4 C5 -11.6 -4 -11.8 -8.6 -13.8 Z" fill="#e6e6e6" stroke="#252f58" stroke-width="1"/><path d="M-8.8 -24.5 C-5 -22.5 -1 -23.5 1.5 -25.5 M-7 -20 C-2 -17.5 5 -18.5 9.4 -21" stroke="#252f58" stroke-width="0.7" fill="none"/><path d="M-4.6 42.8 L4.6 42.8 L3.6 47.6 L-3.6 47.6 Z" fill="#252f58"/><path d="M-2.6 47.5 L-11 54.8 L-9.2 55.6 L-8.6 57.2 L-0.8 49.2 M2.6 47.5 L11 54.8 L9.2 55.6 L8.6 57.2 L0.8 49.2" fill="#252f58" stroke="#252f58" stroke-width="0.3"/></g>
<text x="583" y="1827.5" style="font-family:'Liberation Serif','DejaVu Serif',serif;font-weight:bold;font-size:27.5px;fill:#2e3863" textLength="132.5" lengthAdjust="spacingAndGlyphs">Ministerio</text>
<text x="583" y="1853.3" style="font-family:'Liberation Serif','DejaVu Serif',serif;font-weight:bold;font-size:27.5px;fill:#2e3863" textLength="133.5" lengthAdjust="spacingAndGlyphs">de Defensa</text>
<text x="583.5" y="1873" style="font-family:'Liberation Serif','DejaVu Serif',serif;font-size:17px;fill:#3b456f" textLength="150.5" lengthAdjust="spacingAndGlyphs">República Argentina</text>
<text x="946.3" y="1827.5" style="font-family:'Liberation Serif','DejaVu Serif',serif;font-weight:bold;font-size:27.5px;fill:#222c55" textLength="135.3" lengthAdjust="spacingAndGlyphs">Ministerio</text>
<text x="946.3" y="1852.9" style="font-family:'Liberation Serif','DejaVu Serif',serif;font-weight:bold;font-size:27.5px;fill:#222c55" textLength="162.3" lengthAdjust="spacingAndGlyphs">de Economía</text>
<text x="946.3" y="1873.5" style="font-family:'Liberation Serif','DejaVu Serif',serif;font-size:17px;fill:#222c55" textLength="153" lengthAdjust="spacingAndGlyphs">República Argentina</text>
</svg>
</body>
</html>
